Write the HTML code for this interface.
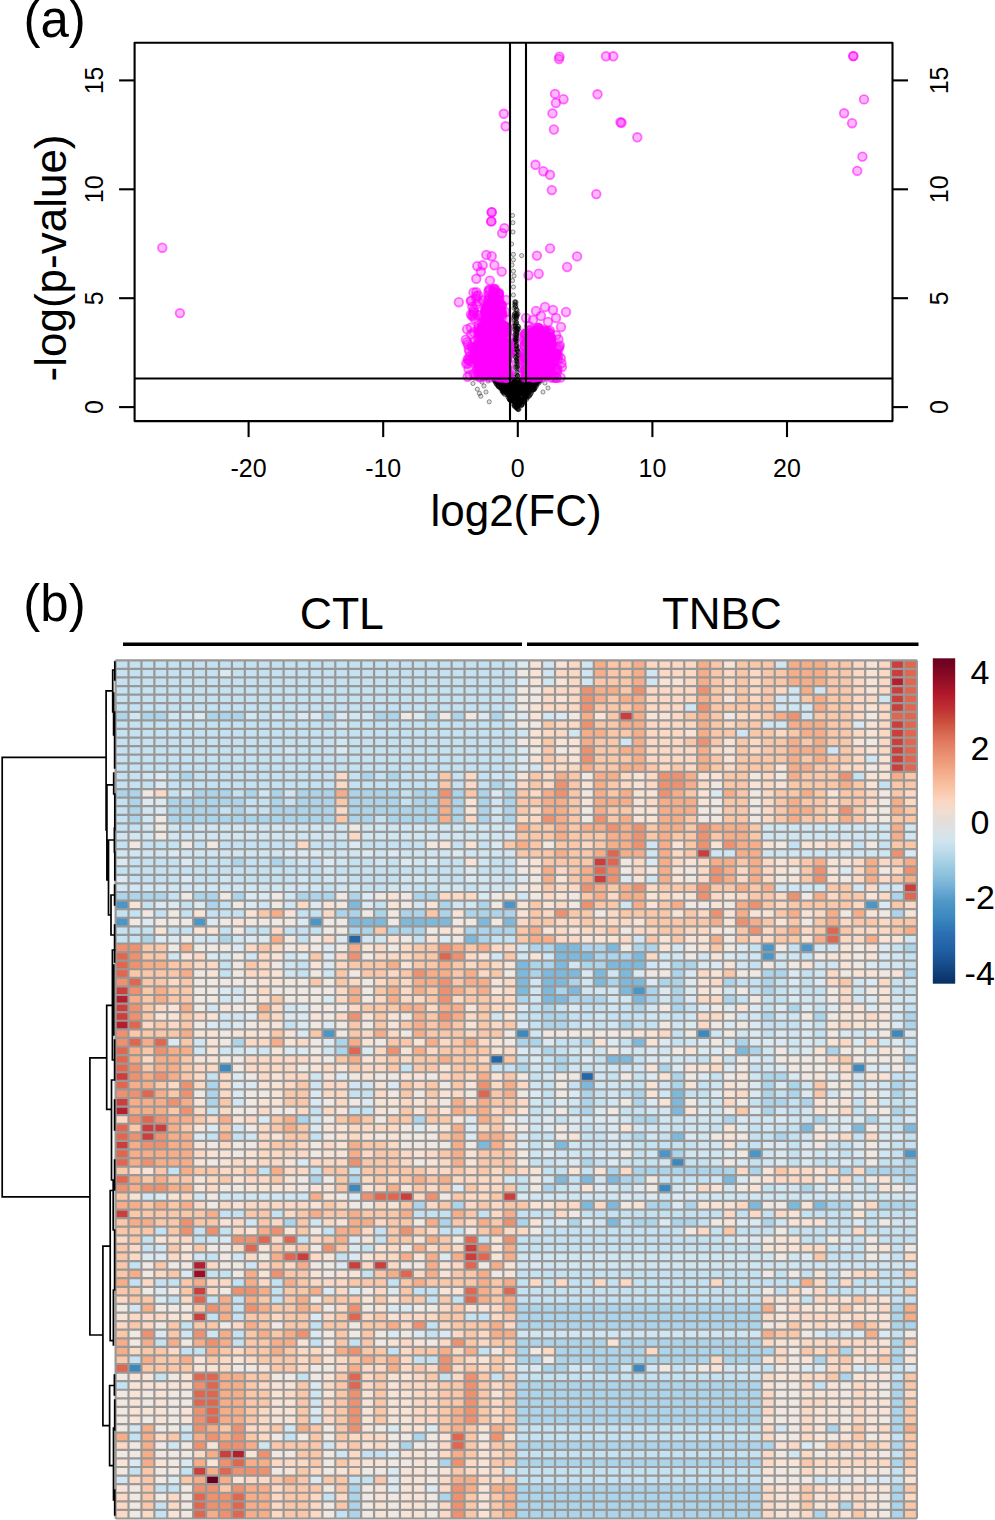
<!DOCTYPE html><html><head><meta charset="utf-8"><style>html,body{margin:0;padding:0;background:#fff;width:995px;height:1520px;overflow:hidden}svg{display:block}text{font-family:"Liberation Sans",sans-serif;fill:#000}</style></head><body><svg width="995" height="1520" viewBox="0 0 995 1520"><rect width="995" height="1520" fill="#fff"/><g stroke-width="1.1"><g fill="rgba(0,0,0,0.12)" stroke="rgba(0,0,0,0.45)" stroke-width="0.9"><circle cx="534.1" cy="388.0" r="2.1"/><circle cx="503.1" cy="390.9" r="2.1"/><circle cx="528.8" cy="385.3" r="2.1"/><circle cx="516.2" cy="404.2" r="2.1"/><circle cx="503.1" cy="383.7" r="2.1"/><circle cx="509.4" cy="384.2" r="2.1"/><circle cx="520.3" cy="381.8" r="2.1"/><circle cx="518.8" cy="390.7" r="2.1"/><circle cx="511.8" cy="380.2" r="2.1"/><circle cx="509.0" cy="386.1" r="2.1"/><circle cx="500.3" cy="387.4" r="2.1"/><circle cx="502.8" cy="379.2" r="2.1"/><circle cx="525.9" cy="389.3" r="2.1"/><circle cx="535.1" cy="382.2" r="2.1"/><circle cx="513.9" cy="405.6" r="2.1"/><circle cx="533.5" cy="383.3" r="2.1"/><circle cx="517.3" cy="385.5" r="2.1"/><circle cx="514.4" cy="382.3" r="2.1"/><circle cx="528.1" cy="386.6" r="2.1"/><circle cx="509.9" cy="386.1" r="2.1"/><circle cx="522.8" cy="385.0" r="2.1"/><circle cx="537.1" cy="382.1" r="2.1"/><circle cx="517.7" cy="395.9" r="2.1"/><circle cx="510.8" cy="399.7" r="2.1"/><circle cx="520.7" cy="388.3" r="2.1"/><circle cx="511.1" cy="380.8" r="2.1"/><circle cx="509.5" cy="394.5" r="2.1"/><circle cx="506.0" cy="380.2" r="2.1"/><circle cx="506.8" cy="385.5" r="2.1"/><circle cx="505.2" cy="391.3" r="2.1"/><circle cx="525.8" cy="389.6" r="2.1"/><circle cx="512.3" cy="399.7" r="2.1"/><circle cx="527.8" cy="386.2" r="2.1"/><circle cx="524.0" cy="384.0" r="2.1"/><circle cx="498.7" cy="384.5" r="2.1"/><circle cx="506.4" cy="390.6" r="2.1"/><circle cx="524.5" cy="383.9" r="2.1"/><circle cx="528.7" cy="386.4" r="2.1"/><circle cx="513.5" cy="400.6" r="2.1"/><circle cx="505.5" cy="379.4" r="2.1"/><circle cx="530.5" cy="380.8" r="2.1"/><circle cx="527.5" cy="391.0" r="2.1"/><circle cx="505.2" cy="381.0" r="2.1"/><circle cx="523.9" cy="392.9" r="2.1"/><circle cx="513.1" cy="394.9" r="2.1"/><circle cx="531.1" cy="379.4" r="2.1"/><circle cx="519.4" cy="386.2" r="2.1"/><circle cx="512.2" cy="384.6" r="2.1"/><circle cx="506.8" cy="382.5" r="2.1"/><circle cx="502.8" cy="386.0" r="2.1"/><circle cx="517.8" cy="392.7" r="2.1"/><circle cx="519.6" cy="403.1" r="2.1"/><circle cx="522.3" cy="393.2" r="2.1"/><circle cx="509.5" cy="384.8" r="2.1"/><circle cx="514.2" cy="381.7" r="2.1"/><circle cx="507.5" cy="393.5" r="2.1"/><circle cx="509.6" cy="383.5" r="2.1"/><circle cx="513.4" cy="384.3" r="2.1"/><circle cx="525.2" cy="386.3" r="2.1"/><circle cx="503.3" cy="382.6" r="2.1"/><circle cx="535.3" cy="387.8" r="2.1"/><circle cx="507.6" cy="384.1" r="2.1"/><circle cx="534.6" cy="388.6" r="2.1"/><circle cx="509.9" cy="396.2" r="2.1"/><circle cx="502.9" cy="379.4" r="2.1"/><circle cx="520.6" cy="398.7" r="2.1"/><circle cx="516.7" cy="394.5" r="2.1"/><circle cx="521.4" cy="380.6" r="2.1"/><circle cx="527.2" cy="383.4" r="2.1"/><circle cx="494.8" cy="379.3" r="2.1"/><circle cx="513.7" cy="384.3" r="2.1"/><circle cx="517.8" cy="391.9" r="2.1"/><circle cx="508.3" cy="392.5" r="2.1"/><circle cx="506.0" cy="392.6" r="2.1"/><circle cx="520.4" cy="389.5" r="2.1"/><circle cx="500.6" cy="380.8" r="2.1"/><circle cx="507.5" cy="393.2" r="2.1"/><circle cx="533.8" cy="380.0" r="2.1"/><circle cx="526.5" cy="398.1" r="2.1"/><circle cx="525.0" cy="387.9" r="2.1"/><circle cx="526.6" cy="392.8" r="2.1"/><circle cx="510.1" cy="397.2" r="2.1"/><circle cx="512.5" cy="395.5" r="2.1"/><circle cx="520.5" cy="391.1" r="2.1"/><circle cx="496.2" cy="384.0" r="2.1"/><circle cx="503.7" cy="381.1" r="2.1"/><circle cx="518.7" cy="386.3" r="2.1"/><circle cx="516.4" cy="396.3" r="2.1"/><circle cx="521.8" cy="380.6" r="2.1"/><circle cx="512.0" cy="380.4" r="2.1"/><circle cx="519.7" cy="401.6" r="2.1"/><circle cx="530.9" cy="381.8" r="2.1"/><circle cx="511.2" cy="383.7" r="2.1"/><circle cx="531.8" cy="382.5" r="2.1"/><circle cx="531.9" cy="379.9" r="2.1"/><circle cx="502.8" cy="390.3" r="2.1"/><circle cx="501.5" cy="387.9" r="2.1"/><circle cx="528.2" cy="392.1" r="2.1"/><circle cx="529.0" cy="379.4" r="2.1"/><circle cx="522.6" cy="381.3" r="2.1"/><circle cx="519.6" cy="404.5" r="2.1"/><circle cx="526.5" cy="386.4" r="2.1"/><circle cx="510.6" cy="382.8" r="2.1"/><circle cx="508.5" cy="383.0" r="2.1"/><circle cx="517.1" cy="406.8" r="2.1"/><circle cx="533.2" cy="379.2" r="2.1"/><circle cx="526.7" cy="391.0" r="2.1"/><circle cx="515.7" cy="383.2" r="2.1"/><circle cx="521.8" cy="379.4" r="2.1"/><circle cx="515.3" cy="397.0" r="2.1"/><circle cx="510.9" cy="389.7" r="2.1"/><circle cx="526.2" cy="387.0" r="2.1"/><circle cx="504.8" cy="394.5" r="2.1"/><circle cx="518.5" cy="409.6" r="2.1"/><circle cx="520.3" cy="403.4" r="2.1"/><circle cx="524.2" cy="398.9" r="2.1"/><circle cx="509.6" cy="387.3" r="2.1"/><circle cx="529.9" cy="394.8" r="2.1"/><circle cx="524.3" cy="389.6" r="2.1"/><circle cx="519.7" cy="391.4" r="2.1"/><circle cx="516.0" cy="390.1" r="2.1"/><circle cx="503.1" cy="385.7" r="2.1"/><circle cx="508.9" cy="382.5" r="2.1"/><circle cx="514.5" cy="392.7" r="2.1"/><circle cx="520.7" cy="388.0" r="2.1"/><circle cx="499.1" cy="380.2" r="2.1"/><circle cx="506.3" cy="388.2" r="2.1"/><circle cx="529.2" cy="396.2" r="2.1"/><circle cx="498.9" cy="386.8" r="2.1"/><circle cx="528.0" cy="385.2" r="2.1"/><circle cx="511.6" cy="384.6" r="2.1"/><circle cx="525.0" cy="384.5" r="2.1"/><circle cx="522.5" cy="380.6" r="2.1"/><circle cx="508.4" cy="382.5" r="2.1"/><circle cx="525.0" cy="391.4" r="2.1"/><circle cx="526.7" cy="389.1" r="2.1"/><circle cx="508.1" cy="394.3" r="2.1"/><circle cx="522.3" cy="386.5" r="2.1"/><circle cx="523.2" cy="401.9" r="2.1"/><circle cx="507.8" cy="381.1" r="2.1"/><circle cx="498.4" cy="382.7" r="2.1"/><circle cx="531.4" cy="381.0" r="2.1"/><circle cx="519.1" cy="397.4" r="2.1"/><circle cx="520.0" cy="399.7" r="2.1"/><circle cx="522.5" cy="388.9" r="2.1"/><circle cx="530.0" cy="386.5" r="2.1"/><circle cx="531.9" cy="388.2" r="2.1"/><circle cx="514.5" cy="387.2" r="2.1"/><circle cx="518.3" cy="409.1" r="2.1"/><circle cx="515.7" cy="399.6" r="2.1"/><circle cx="531.8" cy="390.0" r="2.1"/><circle cx="530.9" cy="381.0" r="2.1"/><circle cx="520.0" cy="384.0" r="2.1"/><circle cx="498.1" cy="383.9" r="2.1"/><circle cx="532.0" cy="386.0" r="2.1"/><circle cx="524.4" cy="389.4" r="2.1"/><circle cx="502.1" cy="386.3" r="2.1"/><circle cx="504.2" cy="392.3" r="2.1"/><circle cx="502.5" cy="384.7" r="2.1"/><circle cx="505.3" cy="388.9" r="2.1"/><circle cx="516.2" cy="407.4" r="2.1"/><circle cx="522.3" cy="393.0" r="2.1"/><circle cx="536.6" cy="384.0" r="2.1"/><circle cx="526.9" cy="381.0" r="2.1"/><circle cx="527.2" cy="379.2" r="2.1"/><circle cx="517.3" cy="385.6" r="2.1"/><circle cx="513.2" cy="381.5" r="2.1"/><circle cx="517.0" cy="381.7" r="2.1"/><circle cx="509.1" cy="394.4" r="2.1"/><circle cx="504.7" cy="383.8" r="2.1"/><circle cx="504.3" cy="380.3" r="2.1"/><circle cx="512.0" cy="396.4" r="2.1"/><circle cx="519.4" cy="396.1" r="2.1"/><circle cx="511.6" cy="388.5" r="2.1"/><circle cx="510.9" cy="390.7" r="2.1"/><circle cx="512.1" cy="382.7" r="2.1"/><circle cx="510.4" cy="385.9" r="2.1"/><circle cx="500.7" cy="381.8" r="2.1"/><circle cx="539.1" cy="379.6" r="2.1"/><circle cx="527.5" cy="388.7" r="2.1"/><circle cx="524.9" cy="396.1" r="2.1"/><circle cx="530.1" cy="390.5" r="2.1"/><circle cx="528.5" cy="391.0" r="2.1"/><circle cx="518.4" cy="398.2" r="2.1"/><circle cx="526.6" cy="388.6" r="2.1"/><circle cx="524.0" cy="395.9" r="2.1"/><circle cx="515.6" cy="401.8" r="2.1"/><circle cx="518.2" cy="393.7" r="2.1"/><circle cx="501.9" cy="382.7" r="2.1"/><circle cx="518.3" cy="395.4" r="2.1"/><circle cx="533.9" cy="385.9" r="2.1"/><circle cx="514.9" cy="399.1" r="2.1"/><circle cx="536.9" cy="379.4" r="2.1"/><circle cx="534.2" cy="382.1" r="2.1"/><circle cx="498.3" cy="386.3" r="2.1"/><circle cx="514.5" cy="380.9" r="2.1"/><circle cx="527.5" cy="392.8" r="2.1"/><circle cx="515.8" cy="404.3" r="2.1"/><circle cx="531.0" cy="382.9" r="2.1"/><circle cx="526.7" cy="390.1" r="2.1"/><circle cx="518.1" cy="385.8" r="2.1"/><circle cx="510.0" cy="389.2" r="2.1"/><circle cx="528.8" cy="387.1" r="2.1"/><circle cx="507.5" cy="386.0" r="2.1"/><circle cx="535.0" cy="381.0" r="2.1"/><circle cx="510.1" cy="379.4" r="2.1"/><circle cx="513.9" cy="390.1" r="2.1"/><circle cx="528.5" cy="387.7" r="2.1"/><circle cx="512.0" cy="399.4" r="2.1"/><circle cx="533.8" cy="389.6" r="2.1"/><circle cx="510.8" cy="397.1" r="2.1"/><circle cx="510.1" cy="400.0" r="2.1"/><circle cx="507.8" cy="380.3" r="2.1"/><circle cx="530.8" cy="390.5" r="2.1"/><circle cx="518.4" cy="394.4" r="2.1"/><circle cx="515.0" cy="393.3" r="2.1"/><circle cx="515.6" cy="407.4" r="2.1"/><circle cx="513.8" cy="394.2" r="2.1"/><circle cx="517.6" cy="405.2" r="2.1"/><circle cx="511.7" cy="379.3" r="2.1"/><circle cx="526.7" cy="396.3" r="2.1"/><circle cx="495.5" cy="380.9" r="2.1"/><circle cx="528.4" cy="393.9" r="2.1"/><circle cx="512.6" cy="397.3" r="2.1"/><circle cx="537.1" cy="382.8" r="2.1"/><circle cx="508.1" cy="395.1" r="2.1"/><circle cx="504.8" cy="386.7" r="2.1"/><circle cx="506.9" cy="386.4" r="2.1"/><circle cx="517.6" cy="391.9" r="2.1"/><circle cx="536.3" cy="386.5" r="2.1"/><circle cx="500.9" cy="379.7" r="2.1"/><circle cx="519.0" cy="390.3" r="2.1"/><circle cx="515.1" cy="394.1" r="2.1"/><circle cx="521.5" cy="390.1" r="2.1"/><circle cx="533.3" cy="384.6" r="2.1"/><circle cx="518.8" cy="391.5" r="2.1"/><circle cx="520.5" cy="388.7" r="2.1"/><circle cx="524.5" cy="379.6" r="2.1"/><circle cx="536.6" cy="380.4" r="2.1"/><circle cx="522.2" cy="383.9" r="2.1"/><circle cx="505.9" cy="385.0" r="2.1"/><circle cx="535.3" cy="382.8" r="2.1"/><circle cx="495.4" cy="381.1" r="2.1"/><circle cx="512.4" cy="399.7" r="2.1"/><circle cx="527.0" cy="383.1" r="2.1"/><circle cx="505.9" cy="385.7" r="2.1"/><circle cx="521.4" cy="388.5" r="2.1"/><circle cx="520.3" cy="383.1" r="2.1"/><circle cx="535.4" cy="383.0" r="2.1"/><circle cx="511.1" cy="379.1" r="2.1"/><circle cx="510.5" cy="399.1" r="2.1"/><circle cx="529.3" cy="392.2" r="2.1"/><circle cx="526.7" cy="381.8" r="2.1"/><circle cx="534.7" cy="382.0" r="2.1"/><circle cx="505.7" cy="389.5" r="2.1"/><circle cx="530.5" cy="394.4" r="2.1"/><circle cx="540.2" cy="381.1" r="2.1"/><circle cx="516.2" cy="406.5" r="2.1"/><circle cx="522.3" cy="395.8" r="2.1"/><circle cx="535.7" cy="385.5" r="2.1"/><circle cx="539.9" cy="379.1" r="2.1"/><circle cx="525.5" cy="379.7" r="2.1"/><circle cx="508.0" cy="392.8" r="2.1"/><circle cx="506.1" cy="380.3" r="2.1"/><circle cx="520.2" cy="381.2" r="2.1"/><circle cx="519.8" cy="404.0" r="2.1"/><circle cx="522.2" cy="393.2" r="2.1"/><circle cx="509.1" cy="390.4" r="2.1"/><circle cx="525.8" cy="383.4" r="2.1"/><circle cx="498.0" cy="381.1" r="2.1"/><circle cx="537.5" cy="381.9" r="2.1"/><circle cx="516.8" cy="395.7" r="2.1"/><circle cx="517.4" cy="390.1" r="2.1"/><circle cx="501.0" cy="382.2" r="2.1"/><circle cx="517.1" cy="407.4" r="2.1"/><circle cx="516.4" cy="404.1" r="2.1"/><circle cx="520.8" cy="400.7" r="2.1"/><circle cx="498.3" cy="386.7" r="2.1"/><circle cx="518.0" cy="387.6" r="2.1"/><circle cx="538.1" cy="380.8" r="2.1"/><circle cx="521.2" cy="385.7" r="2.1"/><circle cx="522.1" cy="403.9" r="2.1"/><circle cx="528.4" cy="380.1" r="2.1"/><circle cx="523.4" cy="400.8" r="2.1"/><circle cx="534.0" cy="389.3" r="2.1"/><circle cx="512.0" cy="380.9" r="2.1"/><circle cx="526.7" cy="383.0" r="2.1"/><circle cx="508.6" cy="382.6" r="2.1"/><circle cx="500.7" cy="385.2" r="2.1"/><circle cx="515.9" cy="394.4" r="2.1"/><circle cx="508.9" cy="383.4" r="2.1"/><circle cx="530.3" cy="382.5" r="2.1"/><circle cx="521.9" cy="392.4" r="2.1"/><circle cx="502.5" cy="384.5" r="2.1"/><circle cx="514.7" cy="385.8" r="2.1"/><circle cx="516.6" cy="408.0" r="2.1"/><circle cx="511.9" cy="380.9" r="2.1"/><circle cx="508.3" cy="397.6" r="2.1"/><circle cx="522.7" cy="393.1" r="2.1"/><circle cx="508.1" cy="385.1" r="2.1"/><circle cx="523.4" cy="387.6" r="2.1"/><circle cx="527.9" cy="392.6" r="2.1"/><circle cx="499.9" cy="387.0" r="2.1"/><circle cx="511.3" cy="394.5" r="2.1"/><circle cx="534.9" cy="383.4" r="2.1"/><circle cx="514.5" cy="404.7" r="2.1"/><circle cx="503.5" cy="389.6" r="2.1"/><circle cx="509.5" cy="399.8" r="2.1"/><circle cx="524.1" cy="390.4" r="2.1"/><circle cx="518.2" cy="400.3" r="2.1"/><circle cx="526.9" cy="396.4" r="2.1"/><circle cx="514.2" cy="402.8" r="2.1"/><circle cx="530.5" cy="379.2" r="2.1"/><circle cx="507.6" cy="382.5" r="2.1"/><circle cx="521.1" cy="379.5" r="2.1"/><circle cx="524.6" cy="387.3" r="2.1"/><circle cx="531.2" cy="387.6" r="2.1"/><circle cx="519.4" cy="391.9" r="2.1"/><circle cx="505.0" cy="383.3" r="2.1"/><circle cx="521.1" cy="405.3" r="2.1"/><circle cx="532.9" cy="389.5" r="2.1"/><circle cx="537.4" cy="383.4" r="2.1"/><circle cx="529.9" cy="383.6" r="2.1"/><circle cx="506.8" cy="379.8" r="2.1"/><circle cx="506.1" cy="390.6" r="2.1"/><circle cx="500.1" cy="388.2" r="2.1"/><circle cx="507.3" cy="392.5" r="2.1"/><circle cx="511.3" cy="390.7" r="2.1"/><circle cx="514.3" cy="405.6" r="2.1"/><circle cx="507.0" cy="383.0" r="2.1"/><circle cx="530.9" cy="393.5" r="2.1"/><circle cx="520.2" cy="400.1" r="2.1"/><circle cx="530.6" cy="387.1" r="2.1"/><circle cx="518.6" cy="387.5" r="2.1"/><circle cx="524.0" cy="386.6" r="2.1"/><circle cx="531.7" cy="379.4" r="2.1"/><circle cx="504.3" cy="386.0" r="2.1"/><circle cx="524.2" cy="400.8" r="2.1"/><circle cx="531.8" cy="391.0" r="2.1"/><circle cx="508.5" cy="391.0" r="2.1"/><circle cx="533.5" cy="389.5" r="2.1"/><circle cx="518.7" cy="395.2" r="2.1"/><circle cx="517.1" cy="406.1" r="2.1"/><circle cx="526.1" cy="397.1" r="2.1"/><circle cx="511.8" cy="396.9" r="2.1"/><circle cx="504.9" cy="380.2" r="2.1"/><circle cx="504.7" cy="385.0" r="2.1"/><circle cx="502.1" cy="381.1" r="2.1"/><circle cx="533.3" cy="389.9" r="2.1"/><circle cx="527.8" cy="380.4" r="2.1"/><circle cx="520.0" cy="404.6" r="2.1"/><circle cx="524.0" cy="389.2" r="2.1"/><circle cx="507.9" cy="396.8" r="2.1"/><circle cx="512.9" cy="380.1" r="2.1"/><circle cx="524.0" cy="401.9" r="2.1"/><circle cx="521.6" cy="391.2" r="2.1"/><circle cx="517.7" cy="397.4" r="2.1"/><circle cx="515.8" cy="382.4" r="2.1"/><circle cx="514.5" cy="400.5" r="2.1"/><circle cx="528.3" cy="393.0" r="2.1"/><circle cx="508.5" cy="384.3" r="2.1"/><circle cx="511.8" cy="387.3" r="2.1"/><circle cx="517.9" cy="392.5" r="2.1"/><circle cx="500.6" cy="386.8" r="2.1"/><circle cx="520.3" cy="401.1" r="2.1"/><circle cx="504.2" cy="389.7" r="2.1"/><circle cx="495.5" cy="381.5" r="2.1"/><circle cx="515.7" cy="405.1" r="2.1"/><circle cx="496.9" cy="381.6" r="2.1"/><circle cx="520.4" cy="394.8" r="2.1"/><circle cx="501.3" cy="386.3" r="2.1"/><circle cx="529.6" cy="390.7" r="2.1"/><circle cx="515.0" cy="379.4" r="2.1"/><circle cx="516.2" cy="399.1" r="2.1"/><circle cx="501.1" cy="386.0" r="2.1"/><circle cx="496.8" cy="384.6" r="2.1"/><circle cx="514.6" cy="397.3" r="2.1"/><circle cx="524.4" cy="401.3" r="2.1"/><circle cx="513.7" cy="380.2" r="2.1"/><circle cx="529.1" cy="379.8" r="2.1"/><circle cx="515.4" cy="391.2" r="2.1"/><circle cx="527.4" cy="393.6" r="2.1"/><circle cx="522.3" cy="380.1" r="2.1"/><circle cx="502.4" cy="390.9" r="2.1"/><circle cx="524.2" cy="402.5" r="2.1"/><circle cx="530.9" cy="381.4" r="2.1"/><circle cx="520.0" cy="405.1" r="2.1"/><circle cx="517.1" cy="398.5" r="2.1"/><circle cx="522.1" cy="404.4" r="2.1"/><circle cx="494.2" cy="379.8" r="2.1"/><circle cx="519.5" cy="387.6" r="2.1"/><circle cx="514.7" cy="382.0" r="2.1"/><circle cx="525.1" cy="384.8" r="2.1"/><circle cx="513.2" cy="381.6" r="2.1"/><circle cx="509.0" cy="381.1" r="2.1"/><circle cx="535.8" cy="381.3" r="2.1"/><circle cx="509.8" cy="388.0" r="2.1"/><circle cx="531.2" cy="382.9" r="2.1"/><circle cx="527.4" cy="397.8" r="2.1"/><circle cx="518.1" cy="393.0" r="2.1"/><circle cx="512.0" cy="398.2" r="2.1"/><circle cx="528.7" cy="379.0" r="2.1"/><circle cx="513.9" cy="401.3" r="2.1"/><circle cx="503.6" cy="387.9" r="2.1"/><circle cx="508.8" cy="388.7" r="2.1"/><circle cx="530.6" cy="387.0" r="2.1"/><circle cx="503.5" cy="391.6" r="2.1"/><circle cx="509.8" cy="395.7" r="2.1"/><circle cx="518.7" cy="399.4" r="2.1"/><circle cx="519.1" cy="409.0" r="2.1"/><circle cx="503.4" cy="386.5" r="2.1"/><circle cx="501.3" cy="386.6" r="2.1"/><circle cx="521.9" cy="399.7" r="2.1"/><circle cx="522.3" cy="400.9" r="2.1"/><circle cx="506.4" cy="380.1" r="2.1"/><circle cx="509.5" cy="382.7" r="2.1"/><circle cx="499.6" cy="381.3" r="2.1"/><circle cx="506.4" cy="391.5" r="2.1"/><circle cx="527.2" cy="392.7" r="2.1"/><circle cx="529.3" cy="381.1" r="2.1"/><circle cx="534.9" cy="379.0" r="2.1"/><circle cx="534.8" cy="385.5" r="2.1"/><circle cx="526.2" cy="387.2" r="2.1"/><circle cx="538.9" cy="383.2" r="2.1"/><circle cx="525.6" cy="397.4" r="2.1"/><circle cx="525.7" cy="384.0" r="2.1"/><circle cx="497.8" cy="381.2" r="2.1"/><circle cx="525.2" cy="396.8" r="2.1"/><circle cx="502.1" cy="380.1" r="2.1"/><circle cx="503.6" cy="390.1" r="2.1"/><circle cx="518.2" cy="381.7" r="2.1"/><circle cx="505.4" cy="390.6" r="2.1"/><circle cx="531.3" cy="385.4" r="2.1"/><circle cx="500.5" cy="385.2" r="2.1"/><circle cx="510.7" cy="390.1" r="2.1"/><circle cx="524.6" cy="393.6" r="2.1"/><circle cx="537.0" cy="379.7" r="2.1"/><circle cx="513.7" cy="381.8" r="2.1"/><circle cx="514.8" cy="401.5" r="2.1"/><circle cx="495.1" cy="381.9" r="2.1"/><circle cx="515.9" cy="383.7" r="2.1"/><circle cx="496.4" cy="380.2" r="2.1"/><circle cx="509.5" cy="393.5" r="2.1"/><circle cx="536.3" cy="381.6" r="2.1"/><circle cx="502.9" cy="383.6" r="2.1"/><circle cx="536.7" cy="385.0" r="2.1"/><circle cx="529.5" cy="380.5" r="2.1"/><circle cx="514.5" cy="388.5" r="2.1"/><circle cx="509.5" cy="382.0" r="2.1"/><circle cx="525.3" cy="395.0" r="2.1"/><circle cx="522.7" cy="399.5" r="2.1"/><circle cx="538.7" cy="380.7" r="2.1"/><circle cx="501.7" cy="379.2" r="2.1"/><circle cx="513.7" cy="382.6" r="2.1"/><circle cx="511.7" cy="400.4" r="2.1"/><circle cx="517.6" cy="409.3" r="2.1"/><circle cx="523.5" cy="385.1" r="2.1"/><circle cx="535.0" cy="384.7" r="2.1"/><circle cx="507.4" cy="391.4" r="2.1"/><circle cx="503.9" cy="393.0" r="2.1"/><circle cx="520.3" cy="401.5" r="2.1"/><circle cx="498.1" cy="382.5" r="2.1"/><circle cx="518.2" cy="397.2" r="2.1"/><circle cx="537.9" cy="379.9" r="2.1"/><circle cx="502.7" cy="383.5" r="2.1"/><circle cx="521.6" cy="392.9" r="2.1"/><circle cx="505.6" cy="387.5" r="2.1"/><circle cx="512.7" cy="395.5" r="2.1"/><circle cx="525.3" cy="394.9" r="2.1"/><circle cx="525.5" cy="397.3" r="2.1"/><circle cx="520.8" cy="384.0" r="2.1"/><circle cx="527.4" cy="386.4" r="2.1"/><circle cx="502.8" cy="390.1" r="2.1"/><circle cx="518.3" cy="400.4" r="2.1"/><circle cx="523.7" cy="393.6" r="2.1"/><circle cx="525.0" cy="383.9" r="2.1"/><circle cx="502.6" cy="392.2" r="2.1"/><circle cx="529.7" cy="389.9" r="2.1"/><circle cx="501.6" cy="386.8" r="2.1"/><circle cx="511.9" cy="391.9" r="2.1"/><circle cx="513.6" cy="383.8" r="2.1"/><circle cx="526.5" cy="383.3" r="2.1"/><circle cx="524.7" cy="398.9" r="2.1"/><circle cx="506.2" cy="386.4" r="2.1"/><circle cx="521.8" cy="384.5" r="2.1"/><circle cx="529.2" cy="387.0" r="2.1"/><circle cx="508.1" cy="395.2" r="2.1"/><circle cx="507.3" cy="391.8" r="2.1"/><circle cx="515.9" cy="386.5" r="2.1"/><circle cx="498.8" cy="381.0" r="2.1"/><circle cx="523.7" cy="401.0" r="2.1"/><circle cx="529.4" cy="389.3" r="2.1"/><circle cx="516.6" cy="384.2" r="2.1"/><circle cx="527.4" cy="390.7" r="2.1"/><circle cx="528.7" cy="385.6" r="2.1"/><circle cx="502.5" cy="381.1" r="2.1"/><circle cx="525.8" cy="396.6" r="2.1"/><circle cx="497.5" cy="384.4" r="2.1"/><circle cx="521.5" cy="381.6" r="2.1"/><circle cx="524.2" cy="386.0" r="2.1"/><circle cx="504.0" cy="392.0" r="2.1"/><circle cx="518.8" cy="401.9" r="2.1"/><circle cx="501.9" cy="387.6" r="2.1"/><circle cx="524.5" cy="400.8" r="2.1"/><circle cx="501.1" cy="388.3" r="2.1"/><circle cx="525.8" cy="386.6" r="2.1"/><circle cx="498.5" cy="385.5" r="2.1"/><circle cx="532.9" cy="388.2" r="2.1"/><circle cx="494.8" cy="379.6" r="2.1"/><circle cx="517.7" cy="383.0" r="2.1"/><circle cx="514.9" cy="384.5" r="2.1"/><circle cx="518.1" cy="390.0" r="2.1"/><circle cx="528.7" cy="395.5" r="2.1"/><circle cx="531.9" cy="381.5" r="2.1"/><circle cx="516.1" cy="386.3" r="2.1"/><circle cx="526.1" cy="385.3" r="2.1"/><circle cx="507.2" cy="393.7" r="2.1"/><circle cx="510.1" cy="392.7" r="2.1"/><circle cx="523.4" cy="381.5" r="2.1"/><circle cx="514.6" cy="399.0" r="2.1"/><circle cx="505.0" cy="379.2" r="2.1"/><circle cx="523.4" cy="387.9" r="2.1"/><circle cx="531.6" cy="392.4" r="2.1"/><circle cx="531.5" cy="382.5" r="2.1"/><circle cx="495.8" cy="380.3" r="2.1"/><circle cx="535.0" cy="383.6" r="2.1"/><circle cx="513.0" cy="389.2" r="2.1"/><circle cx="522.6" cy="387.5" r="2.1"/><circle cx="515.1" cy="401.6" r="2.1"/><circle cx="529.6" cy="382.3" r="2.1"/><circle cx="508.3" cy="386.2" r="2.1"/><circle cx="503.8" cy="393.5" r="2.1"/><circle cx="508.4" cy="384.2" r="2.1"/><circle cx="504.4" cy="390.1" r="2.1"/><circle cx="510.2" cy="389.6" r="2.1"/><circle cx="510.4" cy="381.6" r="2.1"/><circle cx="512.2" cy="399.0" r="2.1"/><circle cx="533.9" cy="386.4" r="2.1"/><circle cx="525.4" cy="390.6" r="2.1"/><circle cx="535.3" cy="382.4" r="2.1"/><circle cx="519.1" cy="389.1" r="2.1"/><circle cx="534.3" cy="389.4" r="2.1"/><circle cx="537.5" cy="382.6" r="2.1"/><circle cx="526.6" cy="399.5" r="2.1"/><circle cx="519.6" cy="393.0" r="2.1"/><circle cx="501.6" cy="389.2" r="2.1"/><circle cx="503.5" cy="381.3" r="2.1"/><circle cx="533.0" cy="385.5" r="2.1"/><circle cx="493.8" cy="380.2" r="2.1"/><circle cx="530.0" cy="384.5" r="2.1"/><circle cx="515.0" cy="391.3" r="2.1"/><circle cx="521.0" cy="381.5" r="2.1"/><circle cx="521.7" cy="405.4" r="2.1"/><circle cx="518.0" cy="394.0" r="2.1"/><circle cx="525.9" cy="384.9" r="2.1"/><circle cx="509.6" cy="390.0" r="2.1"/><circle cx="513.3" cy="401.7" r="2.1"/><circle cx="513.2" cy="381.0" r="2.1"/><circle cx="518.3" cy="405.1" r="2.1"/><circle cx="532.6" cy="389.8" r="2.1"/><circle cx="533.3" cy="385.2" r="2.1"/><circle cx="513.4" cy="390.6" r="2.1"/><circle cx="500.9" cy="388.0" r="2.1"/><circle cx="517.0" cy="400.1" r="2.1"/><circle cx="532.9" cy="384.1" r="2.1"/><circle cx="517.1" cy="407.7" r="2.1"/><circle cx="517.6" cy="408.8" r="2.1"/><circle cx="520.2" cy="382.7" r="2.1"/><circle cx="512.9" cy="397.9" r="2.1"/><circle cx="504.0" cy="387.1" r="2.1"/><circle cx="512.7" cy="394.9" r="2.1"/><circle cx="515.3" cy="381.0" r="2.1"/><circle cx="502.8" cy="386.4" r="2.1"/><circle cx="517.9" cy="383.8" r="2.1"/><circle cx="540.0" cy="379.7" r="2.1"/><circle cx="494.7" cy="380.3" r="2.1"/><circle cx="503.2" cy="384.6" r="2.1"/><circle cx="523.4" cy="388.0" r="2.1"/><circle cx="498.7" cy="385.2" r="2.1"/><circle cx="507.1" cy="394.7" r="2.1"/><circle cx="515.5" cy="384.5" r="2.1"/><circle cx="522.0" cy="382.8" r="2.1"/><circle cx="499.1" cy="380.4" r="2.1"/><circle cx="511.8" cy="389.7" r="2.1"/><circle cx="513.0" cy="389.6" r="2.1"/><circle cx="527.3" cy="390.9" r="2.1"/><circle cx="509.1" cy="398.8" r="2.1"/><circle cx="513.4" cy="387.8" r="2.1"/><circle cx="519.9" cy="399.9" r="2.1"/><circle cx="521.9" cy="400.3" r="2.1"/><circle cx="519.7" cy="391.3" r="2.1"/><circle cx="499.9" cy="381.8" r="2.1"/><circle cx="515.9" cy="394.4" r="2.1"/><circle cx="508.9" cy="395.6" r="2.1"/><circle cx="515.8" cy="389.0" r="2.1"/><circle cx="510.9" cy="398.1" r="2.1"/><circle cx="532.4" cy="386.6" r="2.1"/><circle cx="510.0" cy="390.8" r="2.1"/><circle cx="519.1" cy="387.1" r="2.1"/><circle cx="497.9" cy="385.5" r="2.1"/><circle cx="513.4" cy="384.4" r="2.1"/><circle cx="510.8" cy="381.1" r="2.1"/><circle cx="496.1" cy="383.3" r="2.1"/><circle cx="513.5" cy="390.9" r="2.1"/><circle cx="503.7" cy="385.7" r="2.1"/><circle cx="528.1" cy="383.8" r="2.1"/><circle cx="499.7" cy="383.0" r="2.1"/><circle cx="526.8" cy="379.1" r="2.1"/><circle cx="513.7" cy="404.1" r="2.1"/><circle cx="521.1" cy="392.9" r="2.1"/><circle cx="508.2" cy="391.1" r="2.1"/><circle cx="497.7" cy="383.8" r="2.1"/><circle cx="510.7" cy="400.8" r="2.1"/><circle cx="512.4" cy="400.1" r="2.1"/><circle cx="520.8" cy="402.0" r="2.1"/><circle cx="523.2" cy="388.4" r="2.1"/><circle cx="510.3" cy="386.9" r="2.1"/><circle cx="516.4" cy="387.1" r="2.1"/><circle cx="539.8" cy="380.7" r="2.1"/><circle cx="521.7" cy="392.1" r="2.1"/><circle cx="540.4" cy="380.9" r="2.1"/><circle cx="532.0" cy="381.4" r="2.1"/><circle cx="504.9" cy="381.8" r="2.1"/><circle cx="529.2" cy="386.5" r="2.1"/><circle cx="529.0" cy="385.1" r="2.1"/><circle cx="525.3" cy="387.2" r="2.1"/><circle cx="513.0" cy="396.9" r="2.1"/><circle cx="514.6" cy="406.5" r="2.1"/><circle cx="515.5" cy="381.9" r="2.1"/><circle cx="530.5" cy="382.8" r="2.1"/><circle cx="526.7" cy="379.8" r="2.1"/><circle cx="530.0" cy="382.3" r="2.1"/><circle cx="524.4" cy="390.4" r="2.1"/><circle cx="538.2" cy="379.1" r="2.1"/><circle cx="515.1" cy="393.5" r="2.1"/><circle cx="500.0" cy="382.5" r="2.1"/><circle cx="534.0" cy="382.0" r="2.1"/><circle cx="508.2" cy="383.4" r="2.1"/><circle cx="532.4" cy="386.3" r="2.1"/><circle cx="524.1" cy="395.6" r="2.1"/><circle cx="530.2" cy="385.7" r="2.1"/><circle cx="515.0" cy="405.2" r="2.1"/><circle cx="519.9" cy="391.4" r="2.1"/><circle cx="499.1" cy="382.5" r="2.1"/><circle cx="515.4" cy="394.3" r="2.1"/><circle cx="504.5" cy="390.1" r="2.1"/><circle cx="519.9" cy="403.1" r="2.1"/><circle cx="521.8" cy="383.4" r="2.1"/><circle cx="519.6" cy="388.4" r="2.1"/><circle cx="524.0" cy="396.6" r="2.1"/><circle cx="524.2" cy="395.9" r="2.1"/><circle cx="509.5" cy="398.0" r="2.1"/><circle cx="519.9" cy="384.8" r="2.1"/><circle cx="517.4" cy="381.9" r="2.1"/><circle cx="521.8" cy="405.2" r="2.1"/><circle cx="517.8" cy="388.7" r="2.1"/><circle cx="527.7" cy="380.2" r="2.1"/><circle cx="504.6" cy="382.9" r="2.1"/><circle cx="509.7" cy="399.8" r="2.1"/><circle cx="525.3" cy="383.3" r="2.1"/><circle cx="529.2" cy="396.2" r="2.1"/><circle cx="503.8" cy="382.7" r="2.1"/><circle cx="498.5" cy="382.9" r="2.1"/><circle cx="521.8" cy="404.4" r="2.1"/><circle cx="521.0" cy="396.5" r="2.1"/><circle cx="512.3" cy="395.9" r="2.1"/><circle cx="512.8" cy="385.8" r="2.1"/><circle cx="530.9" cy="386.0" r="2.1"/><circle cx="534.5" cy="386.0" r="2.1"/><circle cx="510.9" cy="389.1" r="2.1"/><circle cx="531.3" cy="385.3" r="2.1"/><circle cx="514.4" cy="394.6" r="2.1"/><circle cx="499.8" cy="380.3" r="2.1"/><circle cx="512.9" cy="388.2" r="2.1"/><circle cx="517.7" cy="408.9" r="2.1"/><circle cx="503.2" cy="383.1" r="2.1"/><circle cx="506.5" cy="388.7" r="2.1"/><circle cx="513.2" cy="383.5" r="2.1"/><circle cx="508.1" cy="381.4" r="2.1"/><circle cx="517.6" cy="383.5" r="2.1"/><circle cx="526.2" cy="392.3" r="2.1"/><circle cx="525.7" cy="381.0" r="2.1"/><circle cx="502.0" cy="391.1" r="2.1"/><circle cx="500.7" cy="380.9" r="2.1"/><circle cx="508.1" cy="386.8" r="2.1"/><circle cx="526.2" cy="385.3" r="2.1"/><circle cx="511.6" cy="400.7" r="2.1"/><circle cx="513.3" cy="383.1" r="2.1"/><circle cx="516.4" cy="384.4" r="2.1"/><circle cx="526.2" cy="394.4" r="2.1"/><circle cx="533.7" cy="387.6" r="2.1"/><circle cx="515.6" cy="382.7" r="2.1"/><circle cx="516.1" cy="382.2" r="2.1"/><circle cx="533.2" cy="381.7" r="2.1"/><circle cx="507.4" cy="379.8" r="2.1"/><circle cx="521.5" cy="401.9" r="2.1"/><circle cx="528.7" cy="381.8" r="2.1"/><circle cx="510.6" cy="400.2" r="2.1"/><circle cx="516.1" cy="389.1" r="2.1"/><circle cx="510.2" cy="394.8" r="2.1"/><circle cx="473.0" cy="383.5" r="2.1"/><circle cx="477.3" cy="389.2" r="2.1"/><circle cx="479.4" cy="393.4" r="2.1"/><circle cx="480.8" cy="396.2" r="2.1"/><circle cx="489.2" cy="401.8" r="2.1"/><circle cx="484.0" cy="386.0" r="2.1"/><circle cx="486.0" cy="392.0" r="2.1"/><circle cx="545.0" cy="383.0" r="2.1"/><circle cx="548.0" cy="388.0" r="2.1"/><circle cx="543.0" cy="392.0" r="2.1"/><circle cx="488.0" cy="381.0" r="2.1"/><circle cx="482.0" cy="382.0" r="2.1"/><circle cx="516.5" cy="345.9" r="2.1"/><circle cx="517.2" cy="339.2" r="2.1"/><circle cx="514.7" cy="339.3" r="2.1"/><circle cx="516.6" cy="314.5" r="2.1"/><circle cx="516.0" cy="341.5" r="2.1"/><circle cx="518.6" cy="354.9" r="2.1"/><circle cx="515.8" cy="360.9" r="2.1"/><circle cx="516.8" cy="372.2" r="2.1"/><circle cx="515.6" cy="339.8" r="2.1"/><circle cx="516.8" cy="331.4" r="2.1"/><circle cx="517.1" cy="355.3" r="2.1"/><circle cx="515.3" cy="357.0" r="2.1"/><circle cx="514.7" cy="316.6" r="2.1"/><circle cx="516.3" cy="323.9" r="2.1"/><circle cx="516.1" cy="328.0" r="2.1"/><circle cx="513.9" cy="316.2" r="2.1"/><circle cx="516.2" cy="318.2" r="2.1"/><circle cx="514.8" cy="352.7" r="2.1"/><circle cx="516.1" cy="349.5" r="2.1"/><circle cx="514.7" cy="304.7" r="2.1"/><circle cx="519.0" cy="328.1" r="2.1"/><circle cx="516.9" cy="340.9" r="2.1"/><circle cx="518.6" cy="352.3" r="2.1"/><circle cx="515.4" cy="317.9" r="2.1"/><circle cx="517.7" cy="326.3" r="2.1"/><circle cx="518.0" cy="357.5" r="2.1"/><circle cx="515.6" cy="338.0" r="2.1"/><circle cx="516.9" cy="338.0" r="2.1"/><circle cx="518.4" cy="355.5" r="2.1"/><circle cx="515.4" cy="367.7" r="2.1"/><circle cx="515.2" cy="334.3" r="2.1"/><circle cx="517.5" cy="376.0" r="2.1"/><circle cx="516.3" cy="314.3" r="2.1"/><circle cx="517.7" cy="371.9" r="2.1"/><circle cx="515.6" cy="366.5" r="2.1"/><circle cx="518.9" cy="369.5" r="2.1"/><circle cx="516.9" cy="333.3" r="2.1"/><circle cx="518.0" cy="329.2" r="2.1"/><circle cx="516.7" cy="309.3" r="2.1"/><circle cx="515.4" cy="331.0" r="2.1"/><circle cx="516.4" cy="346.4" r="2.1"/><circle cx="516.3" cy="330.4" r="2.1"/><circle cx="517.2" cy="329.6" r="2.1"/><circle cx="516.7" cy="359.4" r="2.1"/><circle cx="515.3" cy="326.0" r="2.1"/><circle cx="514.3" cy="314.7" r="2.1"/><circle cx="514.8" cy="301.6" r="2.1"/><circle cx="514.5" cy="322.9" r="2.1"/><circle cx="517.4" cy="315.6" r="2.1"/><circle cx="513.8" cy="318.2" r="2.1"/><circle cx="515.4" cy="345.7" r="2.1"/><circle cx="515.1" cy="302.8" r="2.1"/><circle cx="515.0" cy="325.4" r="2.1"/><circle cx="515.0" cy="339.8" r="2.1"/><circle cx="515.9" cy="309.5" r="2.1"/><circle cx="517.1" cy="332.5" r="2.1"/><circle cx="516.5" cy="328.3" r="2.1"/><circle cx="516.6" cy="376.9" r="2.1"/><circle cx="516.4" cy="318.7" r="2.1"/><circle cx="515.7" cy="345.8" r="2.1"/><circle cx="518.1" cy="329.4" r="2.1"/><circle cx="517.2" cy="363.2" r="2.1"/><circle cx="516.1" cy="321.0" r="2.1"/><circle cx="515.6" cy="377.0" r="2.1"/><circle cx="515.0" cy="304.2" r="2.1"/><circle cx="517.0" cy="348.7" r="2.1"/><circle cx="517.5" cy="360.7" r="2.1"/><circle cx="514.8" cy="330.2" r="2.1"/><circle cx="517.4" cy="362.4" r="2.1"/><circle cx="517.2" cy="358.7" r="2.1"/><circle cx="516.7" cy="334.4" r="2.1"/><circle cx="516.2" cy="336.0" r="2.1"/><circle cx="516.4" cy="316.6" r="2.1"/><circle cx="515.6" cy="307.1" r="2.1"/><circle cx="514.8" cy="328.8" r="2.1"/><circle cx="516.5" cy="322.6" r="2.1"/><circle cx="513.2" cy="354.8" r="2.1"/><circle cx="515.4" cy="313.2" r="2.1"/><circle cx="515.1" cy="339.8" r="2.1"/><circle cx="516.8" cy="367.2" r="2.1"/><circle cx="516.6" cy="316.3" r="2.1"/><circle cx="515.2" cy="326.2" r="2.1"/><circle cx="515.5" cy="348.0" r="2.1"/><circle cx="515.2" cy="306.6" r="2.1"/><circle cx="516.5" cy="374.5" r="2.1"/><circle cx="516.9" cy="351.2" r="2.1"/><circle cx="515.8" cy="341.5" r="2.1"/><circle cx="517.7" cy="365.9" r="2.1"/><circle cx="513.4" cy="326.4" r="2.1"/><circle cx="517.5" cy="328.1" r="2.1"/><circle cx="517.0" cy="331.4" r="2.1"/><circle cx="518.0" cy="351.9" r="2.1"/><circle cx="515.4" cy="334.8" r="2.1"/><circle cx="517.2" cy="361.6" r="2.1"/><circle cx="516.8" cy="335.7" r="2.1"/><circle cx="515.6" cy="357.2" r="2.1"/><circle cx="516.1" cy="302.2" r="2.1"/><circle cx="519.5" cy="353.2" r="2.1"/><circle cx="515.2" cy="352.7" r="2.1"/><circle cx="515.8" cy="315.4" r="2.1"/><circle cx="514.6" cy="313.5" r="2.1"/><circle cx="514.4" cy="320.2" r="2.1"/><circle cx="517.6" cy="350.3" r="2.1"/><circle cx="517.0" cy="313.4" r="2.1"/><circle cx="515.7" cy="339.7" r="2.1"/><circle cx="517.1" cy="310.5" r="2.1"/><circle cx="515.7" cy="337.7" r="2.1"/><circle cx="515.5" cy="324.1" r="2.1"/><circle cx="514.9" cy="352.9" r="2.1"/><circle cx="516.2" cy="360.8" r="2.1"/><circle cx="516.6" cy="344.6" r="2.1"/><circle cx="518.0" cy="364.8" r="2.1"/><circle cx="516.4" cy="344.2" r="2.1"/><circle cx="515.0" cy="335.0" r="2.1"/><circle cx="517.7" cy="375.6" r="2.1"/><circle cx="514.1" cy="308.3" r="2.1"/><circle cx="519.2" cy="347.7" r="2.1"/><circle cx="517.5" cy="375.8" r="2.1"/><circle cx="516.3" cy="356.8" r="2.1"/><circle cx="518.1" cy="313.8" r="2.1"/><circle cx="516.5" cy="364.6" r="2.1"/><circle cx="516.8" cy="369.4" r="2.1"/><circle cx="517.0" cy="334.3" r="2.1"/><circle cx="514.7" cy="341.6" r="2.1"/><circle cx="517.5" cy="367.3" r="2.1"/><circle cx="518.5" cy="326.4" r="2.1"/><circle cx="515.3" cy="302.0" r="2.1"/><circle cx="516.0" cy="305.6" r="2.1"/><circle cx="516.9" cy="348.7" r="2.1"/><circle cx="516.4" cy="322.8" r="2.1"/><circle cx="512.5" cy="215.5" r="2.1"/><circle cx="512.9" cy="222.7" r="2.1"/><circle cx="511.6" cy="244.0" r="2.1"/><circle cx="513.4" cy="254.4" r="2.1"/><circle cx="521.6" cy="255.6" r="2.1"/><circle cx="513.4" cy="259.8" r="2.1"/><circle cx="513.4" cy="271.2" r="2.1"/><circle cx="512.5" cy="280.6" r="2.1"/><circle cx="513.4" cy="287.0" r="2.1"/><circle cx="513.4" cy="295.0" r="2.1"/><circle cx="513.0" cy="232.0" r="2.1"/><circle cx="512.0" cy="265.0" r="2.1"/><circle cx="514.0" cy="276.0" r="2.1"/></g><g fill="rgba(255,0,255,0.28)" stroke="rgba(255,0,255,0.55)" stroke-width="1.8"><circle cx="559.5" cy="56.6" r="4.3"/><circle cx="559.0" cy="59.0" r="4.3"/><circle cx="606.0" cy="56.3" r="4.3"/><circle cx="613.3" cy="56.3" r="4.3"/><circle cx="555.0" cy="93.9" r="4.3"/><circle cx="563.5" cy="99.2" r="4.3"/><circle cx="555.9" cy="103.0" r="4.3"/><circle cx="597.5" cy="94.3" r="4.3"/><circle cx="503.8" cy="113.8" r="4.3"/><circle cx="505.6" cy="126.3" r="4.3"/><circle cx="552.5" cy="113.4" r="4.3"/><circle cx="553.9" cy="129.5" r="4.3"/><circle cx="620.5" cy="122.3" r="4.3"/><circle cx="621.5" cy="122.8" r="4.3"/><circle cx="637.3" cy="137.3" r="4.3"/><circle cx="535.5" cy="164.8" r="4.3"/><circle cx="543.3" cy="171.2" r="4.3"/><circle cx="550.0" cy="174.8" r="4.3"/><circle cx="551.8" cy="190.1" r="4.3"/><circle cx="596.3" cy="194.1" r="4.3"/><circle cx="491.7" cy="212.2" r="4.3"/><circle cx="491.3" cy="221.4" r="4.3"/><circle cx="491.7" cy="212.2" r="4.3"/><circle cx="491.3" cy="221.4" r="4.3"/><circle cx="504.4" cy="228.1" r="4.3"/><circle cx="502.2" cy="233.2" r="4.3"/><circle cx="550.1" cy="248.4" r="4.3"/><circle cx="536.9" cy="255.6" r="4.3"/><circle cx="577.1" cy="256.4" r="4.3"/><circle cx="567.1" cy="267.0" r="4.3"/><circle cx="538.7" cy="273.7" r="4.3"/><circle cx="528.4" cy="275.2" r="4.3"/><circle cx="486.3" cy="254.9" r="4.3"/><circle cx="491.7" cy="256.2" r="4.3"/><circle cx="477.2" cy="266.1" r="4.3"/><circle cx="482.7" cy="265.2" r="4.3"/><circle cx="494.4" cy="265.2" r="4.3"/><circle cx="501.7" cy="271.6" r="4.3"/><circle cx="480.9" cy="271.6" r="4.3"/><circle cx="476.3" cy="278.8" r="4.3"/><circle cx="489.9" cy="280.6" r="4.3"/><circle cx="476.3" cy="292.3" r="4.3"/><circle cx="853.3" cy="56.1" r="4.3"/><circle cx="853.3" cy="56.1" r="4.3"/><circle cx="864.0" cy="99.4" r="4.3"/><circle cx="844.1" cy="113.3" r="4.3"/><circle cx="852.1" cy="123.2" r="4.3"/><circle cx="862.4" cy="156.6" r="4.3"/><circle cx="857.2" cy="170.9" r="4.3"/><circle cx="162.3" cy="247.7" r="4.3"/><circle cx="179.9" cy="313.1" r="4.3"/><circle cx="458.8" cy="302.2" r="4.3"/><circle cx="487.8" cy="300.7" r="4.3"/><circle cx="498.8" cy="293.6" r="4.3"/><circle cx="495.0" cy="320.3" r="4.3"/><circle cx="491.2" cy="362.2" r="4.3"/><circle cx="498.0" cy="373.2" r="4.3"/><circle cx="496.3" cy="323.1" r="4.3"/><circle cx="487.3" cy="361.3" r="4.3"/><circle cx="483.1" cy="339.9" r="4.3"/><circle cx="498.4" cy="320.9" r="4.3"/><circle cx="495.3" cy="292.7" r="4.3"/><circle cx="499.8" cy="325.9" r="4.3"/><circle cx="487.5" cy="340.3" r="4.3"/><circle cx="492.2" cy="314.3" r="4.3"/><circle cx="503.6" cy="350.6" r="4.3"/><circle cx="485.2" cy="339.3" r="4.3"/><circle cx="494.6" cy="366.6" r="4.3"/><circle cx="501.4" cy="313.2" r="4.3"/><circle cx="491.0" cy="355.9" r="4.3"/><circle cx="482.1" cy="331.5" r="4.3"/><circle cx="478.3" cy="347.8" r="4.3"/><circle cx="502.6" cy="339.1" r="4.3"/><circle cx="500.3" cy="341.1" r="4.3"/><circle cx="496.4" cy="328.5" r="4.3"/><circle cx="505.1" cy="373.0" r="4.3"/><circle cx="492.9" cy="347.4" r="4.3"/><circle cx="479.0" cy="350.8" r="4.3"/><circle cx="498.7" cy="377.4" r="4.3"/><circle cx="489.9" cy="347.8" r="4.3"/><circle cx="479.0" cy="356.9" r="4.3"/><circle cx="490.1" cy="366.3" r="4.3"/><circle cx="495.4" cy="367.4" r="4.3"/><circle cx="504.4" cy="365.6" r="4.3"/><circle cx="486.3" cy="324.8" r="4.3"/><circle cx="489.0" cy="367.5" r="4.3"/><circle cx="484.8" cy="331.1" r="4.3"/><circle cx="496.7" cy="310.9" r="4.3"/><circle cx="489.4" cy="338.5" r="4.3"/><circle cx="508.9" cy="349.8" r="4.3"/><circle cx="494.3" cy="343.2" r="4.3"/><circle cx="507.1" cy="358.0" r="4.3"/><circle cx="506.3" cy="359.6" r="4.3"/><circle cx="490.1" cy="323.3" r="4.3"/><circle cx="480.5" cy="344.7" r="4.3"/><circle cx="488.4" cy="291.8" r="4.3"/><circle cx="477.9" cy="366.6" r="4.3"/><circle cx="497.6" cy="300.5" r="4.3"/><circle cx="485.5" cy="318.6" r="4.3"/><circle cx="489.2" cy="298.2" r="4.3"/><circle cx="505.4" cy="377.4" r="4.3"/><circle cx="492.6" cy="331.0" r="4.3"/><circle cx="488.5" cy="311.1" r="4.3"/><circle cx="477.8" cy="373.5" r="4.3"/><circle cx="494.7" cy="300.3" r="4.3"/><circle cx="495.2" cy="289.5" r="4.3"/><circle cx="494.7" cy="376.0" r="4.3"/><circle cx="505.9" cy="350.4" r="4.3"/><circle cx="485.7" cy="320.4" r="4.3"/><circle cx="482.6" cy="357.2" r="4.3"/><circle cx="494.8" cy="357.9" r="4.3"/><circle cx="488.0" cy="307.3" r="4.3"/><circle cx="504.2" cy="376.6" r="4.3"/><circle cx="505.6" cy="360.4" r="4.3"/><circle cx="504.4" cy="354.3" r="4.3"/><circle cx="484.6" cy="334.1" r="4.3"/><circle cx="488.9" cy="289.6" r="4.3"/><circle cx="485.7" cy="350.0" r="4.3"/><circle cx="508.4" cy="376.9" r="4.3"/><circle cx="497.9" cy="368.9" r="4.3"/><circle cx="505.2" cy="330.6" r="4.3"/><circle cx="498.9" cy="359.8" r="4.3"/><circle cx="479.8" cy="347.1" r="4.3"/><circle cx="507.5" cy="358.2" r="4.3"/><circle cx="502.1" cy="330.5" r="4.3"/><circle cx="483.0" cy="358.8" r="4.3"/><circle cx="488.1" cy="359.9" r="4.3"/><circle cx="490.4" cy="373.2" r="4.3"/><circle cx="507.3" cy="360.4" r="4.3"/><circle cx="481.9" cy="362.2" r="4.3"/><circle cx="488.7" cy="336.9" r="4.3"/><circle cx="509.5" cy="346.1" r="4.3"/><circle cx="494.6" cy="372.0" r="4.3"/><circle cx="491.5" cy="366.3" r="4.3"/><circle cx="485.4" cy="313.7" r="4.3"/><circle cx="485.1" cy="340.4" r="4.3"/><circle cx="485.7" cy="325.1" r="4.3"/><circle cx="481.4" cy="369.8" r="4.3"/><circle cx="488.9" cy="328.7" r="4.3"/><circle cx="496.5" cy="369.3" r="4.3"/><circle cx="491.1" cy="370.5" r="4.3"/><circle cx="493.8" cy="335.4" r="4.3"/><circle cx="494.5" cy="288.7" r="4.3"/><circle cx="491.7" cy="303.7" r="4.3"/><circle cx="477.1" cy="359.7" r="4.3"/><circle cx="482.8" cy="330.1" r="4.3"/><circle cx="501.3" cy="337.6" r="4.3"/><circle cx="487.9" cy="334.2" r="4.3"/><circle cx="495.6" cy="358.4" r="4.3"/><circle cx="480.6" cy="338.0" r="4.3"/><circle cx="485.3" cy="312.2" r="4.3"/><circle cx="502.9" cy="333.2" r="4.3"/><circle cx="495.8" cy="356.2" r="4.3"/><circle cx="507.6" cy="327.3" r="4.3"/><circle cx="497.5" cy="333.0" r="4.3"/><circle cx="494.2" cy="350.0" r="4.3"/><circle cx="492.2" cy="335.5" r="4.3"/><circle cx="493.0" cy="372.7" r="4.3"/><circle cx="500.4" cy="366.8" r="4.3"/><circle cx="495.7" cy="372.8" r="4.3"/><circle cx="479.4" cy="347.9" r="4.3"/><circle cx="503.3" cy="368.6" r="4.3"/><circle cx="482.2" cy="352.2" r="4.3"/><circle cx="499.1" cy="300.0" r="4.3"/><circle cx="506.6" cy="375.0" r="4.3"/><circle cx="484.4" cy="373.7" r="4.3"/><circle cx="490.3" cy="331.3" r="4.3"/><circle cx="494.3" cy="317.9" r="4.3"/><circle cx="495.6" cy="327.1" r="4.3"/><circle cx="497.9" cy="333.6" r="4.3"/><circle cx="479.2" cy="376.6" r="4.3"/><circle cx="503.4" cy="375.4" r="4.3"/><circle cx="478.3" cy="357.9" r="4.3"/><circle cx="491.1" cy="369.9" r="4.3"/><circle cx="482.0" cy="370.6" r="4.3"/><circle cx="496.1" cy="350.7" r="4.3"/><circle cx="500.1" cy="325.7" r="4.3"/><circle cx="479.4" cy="372.4" r="4.3"/><circle cx="498.3" cy="359.9" r="4.3"/><circle cx="479.8" cy="364.9" r="4.3"/><circle cx="479.2" cy="365.5" r="4.3"/><circle cx="492.2" cy="317.9" r="4.3"/><circle cx="495.5" cy="371.3" r="4.3"/><circle cx="494.7" cy="308.7" r="4.3"/><circle cx="487.5" cy="314.8" r="4.3"/><circle cx="502.4" cy="313.4" r="4.3"/><circle cx="493.8" cy="303.2" r="4.3"/><circle cx="501.6" cy="337.1" r="4.3"/><circle cx="483.3" cy="330.2" r="4.3"/><circle cx="504.4" cy="326.3" r="4.3"/><circle cx="493.6" cy="362.9" r="4.3"/><circle cx="490.2" cy="333.1" r="4.3"/><circle cx="500.0" cy="376.4" r="4.3"/><circle cx="488.5" cy="362.7" r="4.3"/><circle cx="500.7" cy="344.9" r="4.3"/><circle cx="490.6" cy="318.6" r="4.3"/><circle cx="479.4" cy="354.4" r="4.3"/><circle cx="479.8" cy="363.6" r="4.3"/><circle cx="506.2" cy="348.0" r="4.3"/><circle cx="486.4" cy="309.0" r="4.3"/><circle cx="486.8" cy="328.8" r="4.3"/><circle cx="482.3" cy="327.6" r="4.3"/><circle cx="485.8" cy="374.5" r="4.3"/><circle cx="485.2" cy="374.9" r="4.3"/><circle cx="487.4" cy="319.4" r="4.3"/><circle cx="492.9" cy="332.8" r="4.3"/><circle cx="483.7" cy="332.9" r="4.3"/><circle cx="487.2" cy="308.2" r="4.3"/><circle cx="496.6" cy="335.2" r="4.3"/><circle cx="502.1" cy="346.8" r="4.3"/><circle cx="501.0" cy="367.0" r="4.3"/><circle cx="490.0" cy="316.7" r="4.3"/><circle cx="501.3" cy="345.5" r="4.3"/><circle cx="478.5" cy="363.0" r="4.3"/><circle cx="506.9" cy="344.1" r="4.3"/><circle cx="501.6" cy="360.9" r="4.3"/><circle cx="481.7" cy="334.7" r="4.3"/><circle cx="493.9" cy="363.0" r="4.3"/><circle cx="504.0" cy="362.2" r="4.3"/><circle cx="496.6" cy="368.2" r="4.3"/><circle cx="499.9" cy="350.1" r="4.3"/><circle cx="480.5" cy="363.1" r="4.3"/><circle cx="495.7" cy="344.1" r="4.3"/><circle cx="498.0" cy="348.9" r="4.3"/><circle cx="503.7" cy="355.1" r="4.3"/><circle cx="493.8" cy="335.7" r="4.3"/><circle cx="499.1" cy="293.0" r="4.3"/><circle cx="501.7" cy="309.9" r="4.3"/><circle cx="501.4" cy="305.7" r="4.3"/><circle cx="501.8" cy="375.8" r="4.3"/><circle cx="493.5" cy="321.8" r="4.3"/><circle cx="493.0" cy="349.2" r="4.3"/><circle cx="502.7" cy="343.1" r="4.3"/><circle cx="498.5" cy="294.0" r="4.3"/><circle cx="501.9" cy="314.7" r="4.3"/><circle cx="499.5" cy="350.0" r="4.3"/><circle cx="499.6" cy="313.5" r="4.3"/><circle cx="494.3" cy="329.3" r="4.3"/><circle cx="492.6" cy="297.8" r="4.3"/><circle cx="509.8" cy="372.2" r="4.3"/><circle cx="504.5" cy="375.1" r="4.3"/><circle cx="492.1" cy="311.4" r="4.3"/><circle cx="484.0" cy="373.0" r="4.3"/><circle cx="484.1" cy="339.9" r="4.3"/><circle cx="481.7" cy="334.7" r="4.3"/><circle cx="504.5" cy="333.3" r="4.3"/><circle cx="506.7" cy="351.0" r="4.3"/><circle cx="484.8" cy="368.7" r="4.3"/><circle cx="493.3" cy="289.3" r="4.3"/><circle cx="492.1" cy="314.5" r="4.3"/><circle cx="487.6" cy="363.5" r="4.3"/><circle cx="477.1" cy="355.3" r="4.3"/><circle cx="508.0" cy="351.9" r="4.3"/><circle cx="489.5" cy="322.8" r="4.3"/><circle cx="489.1" cy="326.0" r="4.3"/><circle cx="480.4" cy="363.0" r="4.3"/><circle cx="486.6" cy="372.1" r="4.3"/><circle cx="485.4" cy="311.2" r="4.3"/><circle cx="494.1" cy="304.3" r="4.3"/><circle cx="489.5" cy="374.0" r="4.3"/><circle cx="506.6" cy="360.9" r="4.3"/><circle cx="498.1" cy="370.1" r="4.3"/><circle cx="508.5" cy="337.0" r="4.3"/><circle cx="501.5" cy="328.0" r="4.3"/><circle cx="502.2" cy="345.6" r="4.3"/><circle cx="492.8" cy="318.3" r="4.3"/><circle cx="487.0" cy="354.3" r="4.3"/><circle cx="499.0" cy="314.4" r="4.3"/><circle cx="495.7" cy="322.9" r="4.3"/><circle cx="484.0" cy="369.4" r="4.3"/><circle cx="493.7" cy="307.0" r="4.3"/><circle cx="507.4" cy="377.7" r="4.3"/><circle cx="492.1" cy="299.7" r="4.3"/><circle cx="488.5" cy="295.3" r="4.3"/><circle cx="496.1" cy="367.7" r="4.3"/><circle cx="502.1" cy="324.6" r="4.3"/><circle cx="490.9" cy="334.7" r="4.3"/><circle cx="489.6" cy="317.8" r="4.3"/><circle cx="493.9" cy="344.3" r="4.3"/><circle cx="486.1" cy="309.6" r="4.3"/><circle cx="490.4" cy="327.6" r="4.3"/><circle cx="509.0" cy="364.2" r="4.3"/><circle cx="478.1" cy="351.6" r="4.3"/><circle cx="507.0" cy="330.1" r="4.3"/><circle cx="490.1" cy="371.3" r="4.3"/><circle cx="504.7" cy="364.8" r="4.3"/><circle cx="494.5" cy="349.1" r="4.3"/><circle cx="508.5" cy="352.7" r="4.3"/><circle cx="498.7" cy="356.6" r="4.3"/><circle cx="492.3" cy="337.2" r="4.3"/><circle cx="478.3" cy="358.2" r="4.3"/><circle cx="484.8" cy="370.7" r="4.3"/><circle cx="498.6" cy="314.6" r="4.3"/><circle cx="498.3" cy="350.6" r="4.3"/><circle cx="494.6" cy="340.0" r="4.3"/><circle cx="490.0" cy="307.3" r="4.3"/><circle cx="487.1" cy="328.9" r="4.3"/><circle cx="509.1" cy="345.7" r="4.3"/><circle cx="506.6" cy="330.3" r="4.3"/><circle cx="509.2" cy="351.1" r="4.3"/><circle cx="493.7" cy="348.4" r="4.3"/><circle cx="491.1" cy="310.4" r="4.3"/><circle cx="499.4" cy="371.2" r="4.3"/><circle cx="488.3" cy="325.3" r="4.3"/><circle cx="499.9" cy="305.0" r="4.3"/><circle cx="503.7" cy="354.3" r="4.3"/><circle cx="493.9" cy="305.7" r="4.3"/><circle cx="484.4" cy="356.2" r="4.3"/><circle cx="486.9" cy="373.6" r="4.3"/><circle cx="493.6" cy="304.0" r="4.3"/><circle cx="484.5" cy="324.9" r="4.3"/><circle cx="499.3" cy="373.3" r="4.3"/><circle cx="484.1" cy="375.6" r="4.3"/><circle cx="507.1" cy="367.4" r="4.3"/><circle cx="501.5" cy="377.8" r="4.3"/><circle cx="483.2" cy="372.2" r="4.3"/><circle cx="499.3" cy="321.5" r="4.3"/><circle cx="489.5" cy="317.2" r="4.3"/><circle cx="486.4" cy="319.0" r="4.3"/><circle cx="488.9" cy="361.8" r="4.3"/><circle cx="504.5" cy="326.4" r="4.3"/><circle cx="489.5" cy="370.7" r="4.3"/><circle cx="490.8" cy="360.9" r="4.3"/><circle cx="502.0" cy="368.8" r="4.3"/><circle cx="488.4" cy="311.8" r="4.3"/><circle cx="509.1" cy="343.1" r="4.3"/><circle cx="485.8" cy="352.2" r="4.3"/><circle cx="487.6" cy="312.1" r="4.3"/><circle cx="477.1" cy="355.8" r="4.3"/><circle cx="507.7" cy="344.7" r="4.3"/><circle cx="484.8" cy="330.2" r="4.3"/><circle cx="509.1" cy="373.8" r="4.3"/><circle cx="489.9" cy="309.8" r="4.3"/><circle cx="491.4" cy="331.9" r="4.3"/><circle cx="503.9" cy="354.2" r="4.3"/><circle cx="504.6" cy="357.3" r="4.3"/><circle cx="497.3" cy="316.8" r="4.3"/><circle cx="487.7" cy="319.9" r="4.3"/><circle cx="483.6" cy="355.5" r="4.3"/><circle cx="487.9" cy="376.2" r="4.3"/><circle cx="506.6" cy="376.9" r="4.3"/><circle cx="480.2" cy="332.4" r="4.3"/><circle cx="500.8" cy="327.7" r="4.3"/><circle cx="484.8" cy="324.9" r="4.3"/><circle cx="497.8" cy="348.3" r="4.3"/><circle cx="502.1" cy="364.1" r="4.3"/><circle cx="499.3" cy="298.0" r="4.3"/><circle cx="496.0" cy="320.9" r="4.3"/><circle cx="485.3" cy="309.3" r="4.3"/><circle cx="482.1" cy="367.5" r="4.3"/><circle cx="496.4" cy="316.7" r="4.3"/><circle cx="490.3" cy="377.3" r="4.3"/><circle cx="494.0" cy="308.1" r="4.3"/><circle cx="504.1" cy="346.5" r="4.3"/><circle cx="492.9" cy="361.5" r="4.3"/><circle cx="505.2" cy="370.2" r="4.3"/><circle cx="506.0" cy="327.9" r="4.3"/><circle cx="485.7" cy="357.8" r="4.3"/><circle cx="497.0" cy="343.4" r="4.3"/><circle cx="485.5" cy="341.5" r="4.3"/><circle cx="498.8" cy="305.5" r="4.3"/><circle cx="499.7" cy="303.8" r="4.3"/><circle cx="487.5" cy="305.5" r="4.3"/><circle cx="503.6" cy="336.9" r="4.3"/><circle cx="490.2" cy="337.1" r="4.3"/><circle cx="498.4" cy="295.3" r="4.3"/><circle cx="482.5" cy="350.3" r="4.3"/><circle cx="490.7" cy="312.8" r="4.3"/><circle cx="487.3" cy="373.7" r="4.3"/><circle cx="487.5" cy="338.6" r="4.3"/><circle cx="489.0" cy="324.9" r="4.3"/><circle cx="506.0" cy="377.7" r="4.3"/><circle cx="489.2" cy="304.9" r="4.3"/><circle cx="501.4" cy="305.5" r="4.3"/><circle cx="477.2" cy="369.0" r="4.3"/><circle cx="491.2" cy="361.7" r="4.3"/><circle cx="490.6" cy="367.3" r="4.3"/><circle cx="492.4" cy="301.8" r="4.3"/><circle cx="498.5" cy="369.8" r="4.3"/><circle cx="480.0" cy="343.6" r="4.3"/><circle cx="489.4" cy="332.9" r="4.3"/><circle cx="494.5" cy="371.2" r="4.3"/><circle cx="480.6" cy="331.6" r="4.3"/><circle cx="504.0" cy="375.0" r="4.3"/><circle cx="508.6" cy="375.8" r="4.3"/><circle cx="493.2" cy="291.9" r="4.3"/><circle cx="507.3" cy="343.5" r="4.3"/><circle cx="490.6" cy="364.0" r="4.3"/><circle cx="484.3" cy="323.4" r="4.3"/><circle cx="494.3" cy="321.9" r="4.3"/><circle cx="501.3" cy="368.7" r="4.3"/><circle cx="478.4" cy="338.2" r="4.3"/><circle cx="497.1" cy="337.1" r="4.3"/><circle cx="498.0" cy="314.9" r="4.3"/><circle cx="491.1" cy="340.0" r="4.3"/><circle cx="491.3" cy="347.0" r="4.3"/><circle cx="492.0" cy="326.9" r="4.3"/><circle cx="477.8" cy="343.3" r="4.3"/><circle cx="493.4" cy="308.4" r="4.3"/><circle cx="502.6" cy="358.0" r="4.3"/><circle cx="492.4" cy="303.3" r="4.3"/><circle cx="492.9" cy="296.7" r="4.3"/><circle cx="494.1" cy="290.7" r="4.3"/><circle cx="498.3" cy="294.5" r="4.3"/><circle cx="501.6" cy="357.8" r="4.3"/><circle cx="494.1" cy="291.9" r="4.3"/><circle cx="493.9" cy="321.4" r="4.3"/><circle cx="505.7" cy="377.6" r="4.3"/><circle cx="501.5" cy="361.2" r="4.3"/><circle cx="483.5" cy="376.3" r="4.3"/><circle cx="493.5" cy="374.1" r="4.3"/><circle cx="503.4" cy="371.7" r="4.3"/><circle cx="493.8" cy="370.7" r="4.3"/><circle cx="494.0" cy="316.0" r="4.3"/><circle cx="482.4" cy="372.2" r="4.3"/><circle cx="499.8" cy="368.5" r="4.3"/><circle cx="482.7" cy="358.4" r="4.3"/><circle cx="480.9" cy="335.3" r="4.3"/><circle cx="498.3" cy="319.7" r="4.3"/><circle cx="506.2" cy="337.5" r="4.3"/><circle cx="496.4" cy="367.3" r="4.3"/><circle cx="480.5" cy="377.4" r="4.3"/><circle cx="498.1" cy="322.9" r="4.3"/><circle cx="489.1" cy="356.6" r="4.3"/><circle cx="491.8" cy="303.1" r="4.3"/><circle cx="498.4" cy="376.5" r="4.3"/><circle cx="496.6" cy="347.4" r="4.3"/><circle cx="497.6" cy="326.3" r="4.3"/><circle cx="494.2" cy="368.5" r="4.3"/><circle cx="484.5" cy="340.1" r="4.3"/><circle cx="496.7" cy="305.6" r="4.3"/><circle cx="497.9" cy="330.2" r="4.3"/><circle cx="481.5" cy="372.2" r="4.3"/><circle cx="480.2" cy="345.1" r="4.3"/><circle cx="506.2" cy="358.2" r="4.3"/><circle cx="490.5" cy="311.0" r="4.3"/><circle cx="477.4" cy="345.7" r="4.3"/><circle cx="495.8" cy="318.9" r="4.3"/><circle cx="498.6" cy="327.4" r="4.3"/><circle cx="508.4" cy="353.8" r="4.3"/><circle cx="485.3" cy="369.2" r="4.3"/><circle cx="490.6" cy="308.6" r="4.3"/><circle cx="479.0" cy="357.9" r="4.3"/><circle cx="483.7" cy="342.3" r="4.3"/><circle cx="494.0" cy="345.4" r="4.3"/><circle cx="487.4" cy="314.3" r="4.3"/><circle cx="478.6" cy="367.9" r="4.3"/><circle cx="503.2" cy="352.1" r="4.3"/><circle cx="477.2" cy="363.8" r="4.3"/><circle cx="502.0" cy="329.3" r="4.3"/><circle cx="501.8" cy="328.2" r="4.3"/><circle cx="488.2" cy="355.2" r="4.3"/><circle cx="500.3" cy="363.9" r="4.3"/><circle cx="500.8" cy="311.2" r="4.3"/><circle cx="495.6" cy="326.7" r="4.3"/><circle cx="503.4" cy="334.6" r="4.3"/><circle cx="485.9" cy="345.4" r="4.3"/><circle cx="485.7" cy="308.5" r="4.3"/><circle cx="501.9" cy="373.0" r="4.3"/><circle cx="502.0" cy="316.7" r="4.3"/><circle cx="485.0" cy="369.6" r="4.3"/><circle cx="498.1" cy="350.0" r="4.3"/><circle cx="499.3" cy="376.1" r="4.3"/><circle cx="492.7" cy="363.4" r="4.3"/><circle cx="500.4" cy="365.0" r="4.3"/><circle cx="491.6" cy="352.9" r="4.3"/><circle cx="496.1" cy="315.0" r="4.3"/><circle cx="484.1" cy="343.7" r="4.3"/><circle cx="479.6" cy="369.9" r="4.3"/><circle cx="480.6" cy="371.5" r="4.3"/><circle cx="488.6" cy="299.9" r="4.3"/><circle cx="500.2" cy="344.7" r="4.3"/><circle cx="500.3" cy="354.0" r="4.3"/><circle cx="479.2" cy="340.7" r="4.3"/><circle cx="489.2" cy="361.4" r="4.3"/><circle cx="504.5" cy="368.1" r="4.3"/><circle cx="479.2" cy="366.0" r="4.3"/><circle cx="507.6" cy="372.9" r="4.3"/><circle cx="505.4" cy="360.9" r="4.3"/><circle cx="498.2" cy="362.1" r="4.3"/><circle cx="498.2" cy="313.2" r="4.3"/><circle cx="487.7" cy="325.6" r="4.3"/><circle cx="486.5" cy="352.1" r="4.3"/><circle cx="489.3" cy="316.2" r="4.3"/><circle cx="505.5" cy="343.3" r="4.3"/><circle cx="491.6" cy="357.3" r="4.3"/><circle cx="488.6" cy="351.1" r="4.3"/><circle cx="495.0" cy="306.7" r="4.3"/><circle cx="502.5" cy="376.0" r="4.3"/><circle cx="493.5" cy="359.5" r="4.3"/><circle cx="483.2" cy="332.0" r="4.3"/><circle cx="488.6" cy="362.7" r="4.3"/><circle cx="485.7" cy="372.9" r="4.3"/><circle cx="486.5" cy="306.5" r="4.3"/><circle cx="500.4" cy="332.3" r="4.3"/><circle cx="480.7" cy="344.9" r="4.3"/><circle cx="479.7" cy="358.7" r="4.3"/><circle cx="500.4" cy="358.6" r="4.3"/><circle cx="498.0" cy="319.4" r="4.3"/><circle cx="490.4" cy="322.9" r="4.3"/><circle cx="507.2" cy="332.6" r="4.3"/><circle cx="489.7" cy="367.4" r="4.3"/><circle cx="484.8" cy="328.9" r="4.3"/><circle cx="494.8" cy="355.7" r="4.3"/><circle cx="502.2" cy="345.8" r="4.3"/><circle cx="488.7" cy="316.7" r="4.3"/><circle cx="482.2" cy="363.7" r="4.3"/><circle cx="499.2" cy="354.5" r="4.3"/><circle cx="482.7" cy="326.9" r="4.3"/><circle cx="502.9" cy="339.7" r="4.3"/><circle cx="481.2" cy="329.0" r="4.3"/><circle cx="500.6" cy="363.8" r="4.3"/><circle cx="485.3" cy="316.7" r="4.3"/><circle cx="494.5" cy="301.6" r="4.3"/><circle cx="488.0" cy="304.2" r="4.3"/><circle cx="509.7" cy="353.3" r="4.3"/><circle cx="480.4" cy="374.6" r="4.3"/><circle cx="501.6" cy="326.6" r="4.3"/><circle cx="483.6" cy="345.1" r="4.3"/><circle cx="490.0" cy="290.1" r="4.3"/><circle cx="490.4" cy="359.0" r="4.3"/><circle cx="500.2" cy="332.5" r="4.3"/><circle cx="478.3" cy="332.9" r="4.3"/><circle cx="468.0" cy="344.7" r="4.3"/><circle cx="473.5" cy="356.2" r="4.3"/><circle cx="477.1" cy="356.9" r="4.3"/><circle cx="473.8" cy="313.2" r="4.3"/><circle cx="478.5" cy="332.1" r="4.3"/><circle cx="471.6" cy="346.8" r="4.3"/><circle cx="467.1" cy="329.2" r="4.3"/><circle cx="478.2" cy="315.0" r="4.3"/><circle cx="473.9" cy="332.2" r="4.3"/><circle cx="478.1" cy="328.4" r="4.3"/><circle cx="468.8" cy="349.0" r="4.3"/><circle cx="481.3" cy="326.7" r="4.3"/><circle cx="475.3" cy="375.9" r="4.3"/><circle cx="465.8" cy="339.6" r="4.3"/><circle cx="468.4" cy="359.7" r="4.3"/><circle cx="467.1" cy="342.3" r="4.3"/><circle cx="476.4" cy="354.3" r="4.3"/><circle cx="475.8" cy="347.7" r="4.3"/><circle cx="473.6" cy="373.6" r="4.3"/><circle cx="469.4" cy="351.5" r="4.3"/><circle cx="473.2" cy="358.1" r="4.3"/><circle cx="467.6" cy="376.7" r="4.3"/><circle cx="470.8" cy="327.6" r="4.3"/><circle cx="473.8" cy="352.7" r="4.3"/><circle cx="472.4" cy="316.3" r="4.3"/><circle cx="469.7" cy="356.3" r="4.3"/><circle cx="469.6" cy="361.3" r="4.3"/><circle cx="473.2" cy="311.8" r="4.3"/><circle cx="467.7" cy="359.2" r="4.3"/><circle cx="474.9" cy="341.2" r="4.3"/><circle cx="469.7" cy="375.0" r="4.3"/><circle cx="472.4" cy="347.7" r="4.3"/><circle cx="474.8" cy="318.7" r="4.3"/><circle cx="476.5" cy="304.5" r="4.3"/><circle cx="482.5" cy="323.8" r="4.3"/><circle cx="482.9" cy="316.5" r="4.3"/><circle cx="472.9" cy="315.3" r="4.3"/><circle cx="473.9" cy="309.6" r="4.3"/><circle cx="470.9" cy="314.6" r="4.3"/><circle cx="471.3" cy="334.3" r="4.3"/><circle cx="474.0" cy="347.5" r="4.3"/><circle cx="478.8" cy="324.4" r="4.3"/><circle cx="466.2" cy="363.5" r="4.3"/><circle cx="467.9" cy="363.8" r="4.3"/><circle cx="478.8" cy="315.0" r="4.3"/><circle cx="469.9" cy="359.2" r="4.3"/><circle cx="472.3" cy="306.8" r="4.3"/><circle cx="468.5" cy="368.9" r="4.3"/><circle cx="477.8" cy="359.6" r="4.3"/><circle cx="542.7" cy="372.6" r="4.3"/><circle cx="546.1" cy="369.8" r="4.3"/><circle cx="529.5" cy="362.3" r="4.3"/><circle cx="538.9" cy="364.8" r="4.3"/><circle cx="536.3" cy="372.0" r="4.3"/><circle cx="539.5" cy="340.5" r="4.3"/><circle cx="530.6" cy="334.1" r="4.3"/><circle cx="537.8" cy="330.0" r="4.3"/><circle cx="537.1" cy="334.4" r="4.3"/><circle cx="537.8" cy="352.4" r="4.3"/><circle cx="539.1" cy="371.0" r="4.3"/><circle cx="524.2" cy="369.9" r="4.3"/><circle cx="537.1" cy="355.7" r="4.3"/><circle cx="542.6" cy="369.9" r="4.3"/><circle cx="534.5" cy="348.4" r="4.3"/><circle cx="541.8" cy="359.4" r="4.3"/><circle cx="524.8" cy="358.1" r="4.3"/><circle cx="543.1" cy="374.5" r="4.3"/><circle cx="533.3" cy="377.1" r="4.3"/><circle cx="538.3" cy="351.7" r="4.3"/><circle cx="544.1" cy="358.9" r="4.3"/><circle cx="533.5" cy="370.9" r="4.3"/><circle cx="534.3" cy="351.2" r="4.3"/><circle cx="538.7" cy="366.3" r="4.3"/><circle cx="529.9" cy="349.2" r="4.3"/><circle cx="535.8" cy="355.3" r="4.3"/><circle cx="547.1" cy="341.9" r="4.3"/><circle cx="547.2" cy="347.6" r="4.3"/><circle cx="538.1" cy="340.9" r="4.3"/><circle cx="538.2" cy="376.7" r="4.3"/><circle cx="542.3" cy="367.4" r="4.3"/><circle cx="533.3" cy="343.2" r="4.3"/><circle cx="532.4" cy="356.9" r="4.3"/><circle cx="541.8" cy="367.0" r="4.3"/><circle cx="525.1" cy="363.9" r="4.3"/><circle cx="548.8" cy="354.8" r="4.3"/><circle cx="525.4" cy="342.3" r="4.3"/><circle cx="524.2" cy="336.7" r="4.3"/><circle cx="549.8" cy="358.0" r="4.3"/><circle cx="542.4" cy="367.2" r="4.3"/><circle cx="549.5" cy="358.2" r="4.3"/><circle cx="541.3" cy="359.0" r="4.3"/><circle cx="543.5" cy="357.4" r="4.3"/><circle cx="543.1" cy="337.8" r="4.3"/><circle cx="542.7" cy="350.4" r="4.3"/><circle cx="545.4" cy="332.2" r="4.3"/><circle cx="545.7" cy="373.6" r="4.3"/><circle cx="542.4" cy="345.8" r="4.3"/><circle cx="547.0" cy="367.1" r="4.3"/><circle cx="539.7" cy="340.2" r="4.3"/><circle cx="532.5" cy="348.5" r="4.3"/><circle cx="532.9" cy="349.0" r="4.3"/><circle cx="542.0" cy="374.6" r="4.3"/><circle cx="525.5" cy="355.9" r="4.3"/><circle cx="546.7" cy="356.3" r="4.3"/><circle cx="549.7" cy="349.8" r="4.3"/><circle cx="524.4" cy="346.7" r="4.3"/><circle cx="540.6" cy="374.8" r="4.3"/><circle cx="535.5" cy="332.2" r="4.3"/><circle cx="542.0" cy="337.8" r="4.3"/><circle cx="524.1" cy="361.9" r="4.3"/><circle cx="527.4" cy="376.3" r="4.3"/><circle cx="526.5" cy="371.3" r="4.3"/><circle cx="544.1" cy="339.4" r="4.3"/><circle cx="544.5" cy="336.6" r="4.3"/><circle cx="525.4" cy="366.5" r="4.3"/><circle cx="544.0" cy="370.6" r="4.3"/><circle cx="544.4" cy="331.3" r="4.3"/><circle cx="541.6" cy="363.2" r="4.3"/><circle cx="536.9" cy="374.5" r="4.3"/><circle cx="531.1" cy="376.2" r="4.3"/><circle cx="524.4" cy="360.2" r="4.3"/><circle cx="546.9" cy="331.1" r="4.3"/><circle cx="532.7" cy="364.2" r="4.3"/><circle cx="528.6" cy="370.9" r="4.3"/><circle cx="537.6" cy="330.0" r="4.3"/><circle cx="534.3" cy="356.3" r="4.3"/><circle cx="536.3" cy="361.5" r="4.3"/><circle cx="528.1" cy="367.7" r="4.3"/><circle cx="534.2" cy="359.9" r="4.3"/><circle cx="541.6" cy="348.3" r="4.3"/><circle cx="534.8" cy="367.1" r="4.3"/><circle cx="550.5" cy="367.0" r="4.3"/><circle cx="539.9" cy="341.9" r="4.3"/><circle cx="525.7" cy="376.7" r="4.3"/><circle cx="543.7" cy="369.2" r="4.3"/><circle cx="533.3" cy="357.9" r="4.3"/><circle cx="551.4" cy="369.4" r="4.3"/><circle cx="540.8" cy="342.7" r="4.3"/><circle cx="536.0" cy="372.3" r="4.3"/><circle cx="534.5" cy="361.9" r="4.3"/><circle cx="540.8" cy="372.7" r="4.3"/><circle cx="546.6" cy="341.4" r="4.3"/><circle cx="524.0" cy="340.4" r="4.3"/><circle cx="535.8" cy="356.9" r="4.3"/><circle cx="546.8" cy="372.3" r="4.3"/><circle cx="525.2" cy="369.5" r="4.3"/><circle cx="546.7" cy="371.2" r="4.3"/><circle cx="540.0" cy="341.0" r="4.3"/><circle cx="547.8" cy="368.2" r="4.3"/><circle cx="543.2" cy="373.6" r="4.3"/><circle cx="533.7" cy="331.3" r="4.3"/><circle cx="539.5" cy="367.7" r="4.3"/><circle cx="529.6" cy="365.3" r="4.3"/><circle cx="550.1" cy="338.9" r="4.3"/><circle cx="541.0" cy="361.6" r="4.3"/><circle cx="537.0" cy="337.5" r="4.3"/><circle cx="531.1" cy="365.3" r="4.3"/><circle cx="546.2" cy="350.4" r="4.3"/><circle cx="526.5" cy="368.1" r="4.3"/><circle cx="545.6" cy="338.9" r="4.3"/><circle cx="540.2" cy="372.7" r="4.3"/><circle cx="548.8" cy="353.6" r="4.3"/><circle cx="537.3" cy="357.1" r="4.3"/><circle cx="529.3" cy="336.8" r="4.3"/><circle cx="529.1" cy="362.8" r="4.3"/><circle cx="534.2" cy="355.8" r="4.3"/><circle cx="535.3" cy="353.4" r="4.3"/><circle cx="527.0" cy="359.3" r="4.3"/><circle cx="546.0" cy="335.0" r="4.3"/><circle cx="540.7" cy="344.6" r="4.3"/><circle cx="538.5" cy="328.0" r="4.3"/><circle cx="524.9" cy="377.5" r="4.3"/><circle cx="548.3" cy="351.8" r="4.3"/><circle cx="539.9" cy="340.3" r="4.3"/><circle cx="545.8" cy="348.7" r="4.3"/><circle cx="550.5" cy="366.1" r="4.3"/><circle cx="546.9" cy="376.1" r="4.3"/><circle cx="529.6" cy="336.2" r="4.3"/><circle cx="539.6" cy="371.4" r="4.3"/><circle cx="536.8" cy="375.3" r="4.3"/><circle cx="540.7" cy="347.3" r="4.3"/><circle cx="527.4" cy="375.9" r="4.3"/><circle cx="531.2" cy="355.8" r="4.3"/><circle cx="541.9" cy="375.8" r="4.3"/><circle cx="542.8" cy="347.0" r="4.3"/><circle cx="536.6" cy="335.1" r="4.3"/><circle cx="551.0" cy="377.6" r="4.3"/><circle cx="531.2" cy="345.0" r="4.3"/><circle cx="549.3" cy="373.1" r="4.3"/><circle cx="546.0" cy="363.2" r="4.3"/><circle cx="542.1" cy="377.3" r="4.3"/><circle cx="525.6" cy="334.4" r="4.3"/><circle cx="545.1" cy="374.9" r="4.3"/><circle cx="543.0" cy="342.2" r="4.3"/><circle cx="540.6" cy="365.7" r="4.3"/><circle cx="527.0" cy="343.5" r="4.3"/><circle cx="531.2" cy="333.3" r="4.3"/><circle cx="537.5" cy="335.6" r="4.3"/><circle cx="530.7" cy="334.3" r="4.3"/><circle cx="544.1" cy="337.0" r="4.3"/><circle cx="525.0" cy="374.3" r="4.3"/><circle cx="530.2" cy="374.6" r="4.3"/><circle cx="548.3" cy="372.3" r="4.3"/><circle cx="527.9" cy="349.8" r="4.3"/><circle cx="526.7" cy="374.4" r="4.3"/><circle cx="547.6" cy="359.0" r="4.3"/><circle cx="536.7" cy="344.3" r="4.3"/><circle cx="547.0" cy="351.4" r="4.3"/><circle cx="541.6" cy="334.3" r="4.3"/><circle cx="530.2" cy="329.9" r="4.3"/><circle cx="544.0" cy="355.2" r="4.3"/><circle cx="528.1" cy="371.4" r="4.3"/><circle cx="531.5" cy="348.0" r="4.3"/><circle cx="528.4" cy="340.8" r="4.3"/><circle cx="547.5" cy="344.1" r="4.3"/><circle cx="528.7" cy="352.0" r="4.3"/><circle cx="532.9" cy="373.1" r="4.3"/><circle cx="527.2" cy="376.9" r="4.3"/><circle cx="525.6" cy="372.6" r="4.3"/><circle cx="542.7" cy="337.8" r="4.3"/><circle cx="537.4" cy="341.6" r="4.3"/><circle cx="531.2" cy="337.3" r="4.3"/><circle cx="534.2" cy="377.5" r="4.3"/><circle cx="526.7" cy="341.8" r="4.3"/><circle cx="544.3" cy="342.0" r="4.3"/><circle cx="546.6" cy="344.4" r="4.3"/><circle cx="547.3" cy="353.9" r="4.3"/><circle cx="529.2" cy="349.2" r="4.3"/><circle cx="549.5" cy="338.1" r="4.3"/><circle cx="540.0" cy="334.0" r="4.3"/><circle cx="529.0" cy="366.3" r="4.3"/><circle cx="543.9" cy="337.0" r="4.3"/><circle cx="541.0" cy="352.3" r="4.3"/><circle cx="531.7" cy="337.5" r="4.3"/><circle cx="541.1" cy="363.1" r="4.3"/><circle cx="546.7" cy="356.7" r="4.3"/><circle cx="529.7" cy="330.4" r="4.3"/><circle cx="544.5" cy="347.8" r="4.3"/><circle cx="544.2" cy="329.8" r="4.3"/><circle cx="546.7" cy="344.1" r="4.3"/><circle cx="547.6" cy="371.1" r="4.3"/><circle cx="537.8" cy="327.8" r="4.3"/><circle cx="549.5" cy="351.3" r="4.3"/><circle cx="548.4" cy="340.6" r="4.3"/><circle cx="529.2" cy="369.4" r="4.3"/><circle cx="534.3" cy="335.3" r="4.3"/><circle cx="534.4" cy="357.3" r="4.3"/><circle cx="524.1" cy="353.5" r="4.3"/><circle cx="536.5" cy="353.3" r="4.3"/><circle cx="527.4" cy="363.4" r="4.3"/><circle cx="546.9" cy="371.1" r="4.3"/><circle cx="533.0" cy="363.3" r="4.3"/><circle cx="534.7" cy="365.3" r="4.3"/><circle cx="525.7" cy="371.5" r="4.3"/><circle cx="550.7" cy="352.2" r="4.3"/><circle cx="538.4" cy="354.1" r="4.3"/><circle cx="539.0" cy="328.1" r="4.3"/><circle cx="529.1" cy="332.2" r="4.3"/><circle cx="531.0" cy="368.7" r="4.3"/><circle cx="543.6" cy="336.9" r="4.3"/><circle cx="524.5" cy="357.6" r="4.3"/><circle cx="540.1" cy="353.7" r="4.3"/><circle cx="543.7" cy="332.2" r="4.3"/><circle cx="548.3" cy="363.6" r="4.3"/><circle cx="525.3" cy="333.3" r="4.3"/><circle cx="537.8" cy="352.5" r="4.3"/><circle cx="531.8" cy="333.2" r="4.3"/><circle cx="535.4" cy="334.0" r="4.3"/><circle cx="540.6" cy="370.9" r="4.3"/><circle cx="528.1" cy="356.2" r="4.3"/><circle cx="544.9" cy="335.4" r="4.3"/><circle cx="547.1" cy="374.8" r="4.3"/><circle cx="534.9" cy="348.4" r="4.3"/><circle cx="547.5" cy="353.8" r="4.3"/><circle cx="535.1" cy="375.0" r="4.3"/><circle cx="545.8" cy="344.3" r="4.3"/><circle cx="530.7" cy="344.1" r="4.3"/><circle cx="536.2" cy="377.0" r="4.3"/><circle cx="546.5" cy="373.6" r="4.3"/><circle cx="546.8" cy="370.2" r="4.3"/><circle cx="525.5" cy="353.4" r="4.3"/><circle cx="550.8" cy="374.7" r="4.3"/><circle cx="531.0" cy="348.5" r="4.3"/><circle cx="541.7" cy="345.6" r="4.3"/><circle cx="538.9" cy="330.5" r="4.3"/><circle cx="536.1" cy="352.7" r="4.3"/><circle cx="524.6" cy="334.1" r="4.3"/><circle cx="551.2" cy="366.6" r="4.3"/><circle cx="550.2" cy="359.3" r="4.3"/><circle cx="546.7" cy="372.1" r="4.3"/><circle cx="542.0" cy="340.6" r="4.3"/><circle cx="543.0" cy="340.9" r="4.3"/><circle cx="539.2" cy="374.1" r="4.3"/><circle cx="541.4" cy="339.8" r="4.3"/><circle cx="538.6" cy="349.1" r="4.3"/><circle cx="550.6" cy="341.7" r="4.3"/><circle cx="532.6" cy="360.0" r="4.3"/><circle cx="527.4" cy="357.3" r="4.3"/><circle cx="550.8" cy="353.2" r="4.3"/><circle cx="531.5" cy="350.8" r="4.3"/><circle cx="538.9" cy="334.6" r="4.3"/><circle cx="527.5" cy="333.7" r="4.3"/><circle cx="532.2" cy="347.7" r="4.3"/><circle cx="532.1" cy="339.4" r="4.3"/><circle cx="526.5" cy="354.9" r="4.3"/><circle cx="547.5" cy="358.1" r="4.3"/><circle cx="540.0" cy="360.2" r="4.3"/><circle cx="529.6" cy="363.2" r="4.3"/><circle cx="536.9" cy="354.9" r="4.3"/><circle cx="541.2" cy="350.9" r="4.3"/><circle cx="532.7" cy="339.4" r="4.3"/><circle cx="530.2" cy="353.1" r="4.3"/><circle cx="534.7" cy="356.9" r="4.3"/><circle cx="524.3" cy="345.0" r="4.3"/><circle cx="548.1" cy="339.2" r="4.3"/><circle cx="539.6" cy="352.1" r="4.3"/><circle cx="532.0" cy="377.4" r="4.3"/><circle cx="532.3" cy="366.4" r="4.3"/><circle cx="548.4" cy="349.4" r="4.3"/><circle cx="525.7" cy="346.8" r="4.3"/><circle cx="536.3" cy="364.5" r="4.3"/><circle cx="527.1" cy="338.5" r="4.3"/><circle cx="550.9" cy="364.7" r="4.3"/><circle cx="528.3" cy="344.2" r="4.3"/><circle cx="533.9" cy="361.4" r="4.3"/><circle cx="541.3" cy="370.3" r="4.3"/><circle cx="547.0" cy="353.4" r="4.3"/><circle cx="544.7" cy="364.9" r="4.3"/><circle cx="545.3" cy="351.2" r="4.3"/><circle cx="546.0" cy="363.1" r="4.3"/><circle cx="549.6" cy="333.5" r="4.3"/><circle cx="545.4" cy="356.9" r="4.3"/><circle cx="537.9" cy="376.1" r="4.3"/><circle cx="540.0" cy="348.3" r="4.3"/><circle cx="545.9" cy="371.5" r="4.3"/><circle cx="541.0" cy="346.4" r="4.3"/><circle cx="536.7" cy="350.4" r="4.3"/><circle cx="544.2" cy="341.9" r="4.3"/><circle cx="534.9" cy="355.3" r="4.3"/><circle cx="534.8" cy="343.4" r="4.3"/><circle cx="546.0" cy="370.3" r="4.3"/><circle cx="538.0" cy="349.6" r="4.3"/><circle cx="529.2" cy="342.5" r="4.3"/><circle cx="528.1" cy="356.3" r="4.3"/><circle cx="540.3" cy="331.5" r="4.3"/><circle cx="549.8" cy="343.5" r="4.3"/><circle cx="547.6" cy="369.7" r="4.3"/><circle cx="550.8" cy="337.4" r="4.3"/><circle cx="535.9" cy="373.4" r="4.3"/><circle cx="549.1" cy="332.3" r="4.3"/><circle cx="556.9" cy="353.9" r="4.3"/><circle cx="561.9" cy="367.1" r="4.3"/><circle cx="556.5" cy="377.9" r="4.3"/><circle cx="556.2" cy="354.8" r="4.3"/><circle cx="558.6" cy="348.7" r="4.3"/><circle cx="554.0" cy="358.5" r="4.3"/><circle cx="553.9" cy="375.5" r="4.3"/><circle cx="558.5" cy="355.2" r="4.3"/><circle cx="550.4" cy="348.0" r="4.3"/><circle cx="554.6" cy="356.9" r="4.3"/><circle cx="557.0" cy="372.2" r="4.3"/><circle cx="555.2" cy="360.0" r="4.3"/><circle cx="556.4" cy="369.2" r="4.3"/><circle cx="551.4" cy="345.3" r="4.3"/><circle cx="556.2" cy="335.3" r="4.3"/><circle cx="561.5" cy="363.1" r="4.3"/><circle cx="560.5" cy="377.5" r="4.3"/><circle cx="551.2" cy="343.9" r="4.3"/><circle cx="556.2" cy="354.2" r="4.3"/><circle cx="551.6" cy="338.8" r="4.3"/><circle cx="557.8" cy="359.0" r="4.3"/><circle cx="553.9" cy="377.7" r="4.3"/><circle cx="554.8" cy="367.8" r="4.3"/><circle cx="553.3" cy="363.2" r="4.3"/><circle cx="549.1" cy="344.6" r="4.3"/><circle cx="560.8" cy="358.1" r="4.3"/><circle cx="558.4" cy="339.4" r="4.3"/><circle cx="556.0" cy="356.6" r="4.3"/><circle cx="552.7" cy="361.0" r="4.3"/><circle cx="556.4" cy="377.9" r="4.3"/><circle cx="557.0" cy="349.7" r="4.3"/><circle cx="550.7" cy="337.5" r="4.3"/><circle cx="550.4" cy="338.2" r="4.3"/><circle cx="556.3" cy="369.5" r="4.3"/><circle cx="557.6" cy="368.7" r="4.3"/><circle cx="549.9" cy="330.6" r="4.3"/><circle cx="559.8" cy="345.5" r="4.3"/><circle cx="559.0" cy="347.0" r="4.3"/><circle cx="551.4" cy="342.8" r="4.3"/><circle cx="502.0" cy="305.0" r="4.3"/><circle cx="505.0" cy="312.0" r="4.3"/><circle cx="507.0" cy="320.0" r="4.3"/><circle cx="503.0" cy="325.0" r="4.3"/><circle cx="506.0" cy="300.0" r="4.3"/><circle cx="526.0" cy="318.0" r="4.3"/><circle cx="533.0" cy="320.0" r="4.3"/><circle cx="541.0" cy="316.0" r="4.3"/><circle cx="548.0" cy="322.0" r="4.3"/><circle cx="556.0" cy="318.0" r="4.3"/><circle cx="561.0" cy="327.0" r="4.3"/><circle cx="566.0" cy="312.0" r="4.3"/><circle cx="536.0" cy="311.0" r="4.3"/><circle cx="545.0" cy="307.0" r="4.3"/><circle cx="553.0" cy="310.0" r="4.3"/><circle cx="529.0" cy="326.0" r="4.3"/><circle cx="471.4" cy="301.0" r="4.3"/><circle cx="478.2" cy="295.5" r="4.3"/><circle cx="476.3" cy="295.9" r="4.3"/><circle cx="470.8" cy="300.9" r="4.3"/><circle cx="478.2" cy="301.6" r="4.3"/><circle cx="476.2" cy="298.2" r="4.3"/><circle cx="473.5" cy="292.4" r="4.3"/><circle cx="483.0" cy="300.5" r="4.3"/></g></g><g stroke="#000" stroke-width="2.1" fill="none" stroke-linejoin="round"><rect x="134.6" y="42.7" width="757.9" height="378.4"/><line x1="510" y1="42.7" x2="510" y2="421.1"/><line x1="526" y1="42.7" x2="526" y2="421.1"/><line x1="134.6" y1="378.5" x2="892.5" y2="378.5"/><line x1="119.1" y1="407.1" x2="134.6" y2="407.1"/><line x1="892.5" y1="407.1" x2="908.0" y2="407.1"/><line x1="119.1" y1="298.2" x2="134.6" y2="298.2"/><line x1="892.5" y1="298.2" x2="908.0" y2="298.2"/><line x1="119.1" y1="189.3" x2="134.6" y2="189.3"/><line x1="892.5" y1="189.3" x2="908.0" y2="189.3"/><line x1="119.1" y1="80.4" x2="134.6" y2="80.4"/><line x1="892.5" y1="80.4" x2="908.0" y2="80.4"/><line x1="248.6" y1="421.1" x2="248.6" y2="437.1"/><line x1="383.2" y1="421.1" x2="383.2" y2="437.1"/><line x1="517.8" y1="421.1" x2="517.8" y2="437.1"/><line x1="652.4" y1="421.1" x2="652.4" y2="437.1"/><line x1="787.0" y1="421.1" x2="787.0" y2="437.1"/></g><text font-size="25" text-anchor="middle" transform="translate(102.6,407.1) rotate(-90)">0</text><text font-size="25" text-anchor="middle" transform="translate(947.6,407.1) rotate(-90)">0</text><text font-size="25" text-anchor="middle" transform="translate(102.6,298.2) rotate(-90)">5</text><text font-size="25" text-anchor="middle" transform="translate(947.6,298.2) rotate(-90)">5</text><text font-size="25" text-anchor="middle" transform="translate(102.6,189.3) rotate(-90)">10</text><text font-size="25" text-anchor="middle" transform="translate(947.6,189.3) rotate(-90)">10</text><text font-size="25" text-anchor="middle" transform="translate(102.6,80.4) rotate(-90)">15</text><text font-size="25" text-anchor="middle" transform="translate(947.6,80.4) rotate(-90)">15</text><text font-size="25" text-anchor="middle" x="248.6" y="476.8">-20</text><text font-size="25" text-anchor="middle" x="383.2" y="476.8">-10</text><text font-size="25" text-anchor="middle" x="517.8" y="476.8">0</text><text font-size="25" text-anchor="middle" x="652.4" y="476.8">10</text><text font-size="25" text-anchor="middle" x="787.0" y="476.8">20</text><text font-size="44" text-anchor="middle" x="516" y="526">log2(FC)</text><text font-size="44" text-anchor="middle" transform="translate(65.5,258) rotate(-90)">-log(p-value)</text><text font-size="51" x="23.5" y="36.8">(a)</text><text font-size="51" x="23.3" y="620.9">(b)</text><text font-size="44.6" text-anchor="middle" x="341.8" y="628.6">CTL</text><text font-size="44" text-anchor="middle" x="721.8" y="628.8">TNBC</text><g stroke="#000" stroke-width="3.4"><line x1="123" y1="644.2" x2="522" y2="644.2"/><line x1="527" y1="644.2" x2="918.5" y2="644.2"/></g><path fill="#2366aa" d="M348.24 934.92h12.92v8.58h-12.92zM490.40 1055.07h12.92v8.58h-12.92zM580.87 1072.24h12.92v8.58h-12.92z"/><path fill="#3a89c0" d="M516.25 1029.33h12.92v8.58h-12.92zM697.19 1029.33h12.92v8.58h-12.92zM891.05 1029.33h12.92v8.58h-12.92zM218.99 1063.65h12.92v8.58h-12.92zM852.28 1063.65h12.92v8.58h-12.92zM671.34 1158.06h12.92v8.58h-12.92zM348.24 1183.80h12.92v8.58h-12.92zM658.42 1183.80h12.92v8.58h-12.92zM128.52 1364.02h12.92v8.58h-12.92zM632.57 1364.02h12.92v8.58h-12.92z"/><path fill="#4b96c9" d="M115.60 900.60h12.92v8.58h-12.92zM503.33 900.60h12.92v8.58h-12.92zM865.20 900.60h12.92v8.58h-12.92zM115.60 917.76h12.92v8.58h-12.92zM193.15 917.76h12.92v8.58h-12.92zM309.46 917.76h12.92v8.58h-12.92zM761.81 943.51h12.92v8.58h-12.92zM800.58 943.51h12.92v8.58h-12.92zM761.81 952.09h12.92v8.58h-12.92zM632.57 986.42h12.92v8.58h-12.92zM322.39 1029.33h12.92v8.58h-12.92zM658.42 1149.47h12.92v8.58h-12.92zM748.89 1149.47h12.92v8.58h-12.92zM903.98 1149.47h12.92v8.58h-12.92z"/><path fill="#7db9dc" d="M348.24 900.60h12.92v8.58h-12.92zM348.24 917.76h38.77v8.58h-38.77zM399.93 917.76h51.70v8.58h-51.70zM477.48 917.76h12.92v8.58h-12.92zM503.33 917.76h12.92v8.58h-12.92zM464.55 934.92h12.92v8.58h-12.92zM555.02 943.51h25.85v8.58h-25.85zM606.72 943.51h12.92v8.58h-12.92zM555.02 952.09h38.77v8.58h-38.77zM632.57 952.09h12.92v8.58h-12.92zM516.25 960.67h12.92v8.58h-12.92zM555.02 960.67h12.92v8.58h-12.92zM606.72 960.67h38.77v8.58h-38.77zM516.25 969.25h12.92v8.58h-12.92zM542.10 969.25h38.77v8.58h-38.77zM593.80 969.25h12.92v8.58h-12.92zM619.64 969.25h12.92v8.58h-12.92zM516.25 977.83h12.92v8.58h-12.92zM542.10 977.83h25.85v8.58h-25.85zM593.80 977.83h12.92v8.58h-12.92zM619.64 977.83h25.85v8.58h-25.85zM516.25 986.42h12.92v8.58h-12.92zM542.10 986.42h12.92v8.58h-12.92zM567.95 986.42h12.92v8.58h-12.92zM619.64 986.42h12.92v8.58h-12.92zM542.10 995.00h25.85v8.58h-25.85zM632.57 995.00h12.92v8.58h-12.92zM632.57 1037.91h12.92v8.58h-12.92zM735.96 1046.49h12.92v8.58h-12.92zM606.72 1055.07h25.85v8.58h-25.85zM580.87 1080.82h12.92v8.58h-12.92zM671.34 1089.40h12.92v8.58h-12.92zM671.34 1097.98h12.92v8.58h-12.92zM671.34 1106.56h12.92v8.58h-12.92zM800.58 1123.73h12.92v8.58h-12.92zM852.28 1123.73h12.92v8.58h-12.92zM903.98 1123.73h12.92v8.58h-12.92zM671.34 1132.31h12.92v8.58h-12.92zM477.48 1140.89h12.92v8.58h-12.92zM555.02 1140.89h12.92v8.58h-12.92zM555.02 1175.22h12.92v8.58h-12.92zM580.87 1175.22h12.92v8.58h-12.92zM606.72 1175.22h12.92v8.58h-12.92zM723.04 1175.22h12.92v8.58h-12.92zM580.87 1200.97h12.92v8.58h-12.92zM606.72 1200.97h12.92v8.58h-12.92zM748.89 1200.97h12.92v8.58h-12.92zM787.66 1200.97h12.92v8.58h-12.92zM813.51 1200.97h12.92v8.58h-12.92zM606.72 1218.13h12.92v8.58h-12.92z"/><path fill="#acd5eb" d="M115.60 711.79h12.92v8.58h-12.92zM141.45 711.79h25.85v8.58h-25.85zM206.07 711.79h38.77v8.58h-38.77zM322.39 711.79h12.92v8.58h-12.92zM374.08 711.79h25.85v8.58h-25.85zM425.78 711.79h12.92v8.58h-12.92zM451.63 711.79h12.92v8.58h-12.92zM490.40 711.79h12.92v8.58h-12.92zM180.22 771.87h12.92v8.58h-12.92zM361.16 771.87h12.92v8.58h-12.92zM387.01 771.87h12.92v8.58h-12.92zM490.40 780.45h12.92v8.58h-12.92zM115.60 789.03h25.85v8.58h-25.85zM193.15 789.03h38.77v8.58h-38.77zM244.84 789.03h12.92v8.58h-12.92zM270.69 789.03h12.92v8.58h-12.92zM296.54 789.03h38.77v8.58h-38.77zM348.24 789.03h51.70v8.58h-51.70zM412.86 789.03h25.85v8.58h-25.85zM451.63 789.03h12.92v8.58h-12.92zM477.48 789.03h12.92v8.58h-12.92zM503.33 789.03h12.92v8.58h-12.92zM128.52 797.61h12.92v8.58h-12.92zM167.30 797.61h77.55v8.58h-77.55zM270.69 797.61h12.92v8.58h-12.92zM296.54 797.61h38.77v8.58h-38.77zM348.24 797.61h51.70v8.58h-51.70zM412.86 797.61h25.85v8.58h-25.85zM451.63 797.61h12.92v8.58h-12.92zM477.48 797.61h12.92v8.58h-12.92zM503.33 797.61h12.92v8.58h-12.92zM128.52 806.19h12.92v8.58h-12.92zM167.30 806.19h51.70v8.58h-51.70zM231.92 806.19h12.92v8.58h-12.92zM270.69 806.19h64.62v8.58h-64.62zM348.24 806.19h90.47v8.58h-90.47zM451.63 806.19h12.92v8.58h-12.92zM477.48 806.19h12.92v8.58h-12.92zM503.33 806.19h12.92v8.58h-12.92zM128.52 814.78h12.92v8.58h-12.92zM167.30 814.78h168.01v8.58h-168.01zM348.24 814.78h25.85v8.58h-25.85zM387.01 814.78h51.70v8.58h-51.70zM451.63 814.78h12.92v8.58h-12.92zM477.48 814.78h12.92v8.58h-12.92zM503.33 814.78h12.92v8.58h-12.92zM231.92 857.69h12.92v8.58h-12.92zM270.69 857.69h12.92v8.58h-12.92zM115.60 892.01h51.70v8.58h-51.70zM193.15 892.01h25.85v8.58h-25.85zM231.92 892.01h12.92v8.58h-12.92zM296.54 892.01h38.77v8.58h-38.77zM348.24 892.01h12.92v8.58h-12.92zM412.86 892.01h25.85v8.58h-25.85zM891.05 892.01h12.92v8.58h-12.92zM206.07 900.60h12.92v8.58h-12.92zM438.70 900.60h12.92v8.58h-12.92zM477.48 900.60h12.92v8.58h-12.92zM335.31 909.18h25.85v8.58h-25.85zM374.08 909.18h12.92v8.58h-12.92zM399.93 909.18h25.85v8.58h-25.85zM438.70 909.18h12.92v8.58h-12.92zM464.55 909.18h51.70v8.58h-51.70zM891.05 909.18h12.92v8.58h-12.92zM348.24 926.34h25.85v8.58h-25.85zM387.01 926.34h38.77v8.58h-38.77zM464.55 926.34h51.70v8.58h-51.70zM141.45 934.92h12.92v8.58h-12.92zM218.99 934.92h12.92v8.58h-12.92zM477.48 934.92h12.92v8.58h-12.92zM529.17 943.51h25.85v8.58h-25.85zM580.87 943.51h25.85v8.58h-25.85zM632.57 943.51h25.85v8.58h-25.85zM903.98 943.51h12.92v8.58h-12.92zM593.80 952.09h38.77v8.58h-38.77zM529.17 960.67h25.85v8.58h-25.85zM580.87 960.67h25.85v8.58h-25.85zM671.34 960.67h25.85v8.58h-25.85zM529.17 969.25h12.92v8.58h-12.92zM671.34 969.25h12.92v8.58h-12.92zM761.81 969.25h25.85v8.58h-25.85zM903.98 969.25h12.92v8.58h-12.92zM567.95 977.83h12.92v8.58h-12.92zM606.72 977.83h12.92v8.58h-12.92zM658.42 977.83h25.85v8.58h-25.85zM723.04 977.83h12.92v8.58h-12.92zM761.81 977.83h12.92v8.58h-12.92zM555.02 986.42h12.92v8.58h-12.92zM645.49 986.42h12.92v8.58h-12.92zM671.34 986.42h12.92v8.58h-12.92zM761.81 986.42h12.92v8.58h-12.92zM516.25 995.00h12.92v8.58h-12.92zM567.95 995.00h38.77v8.58h-38.77zM645.49 995.00h12.92v8.58h-12.92zM671.34 995.00h12.92v8.58h-12.92zM723.04 995.00h12.92v8.58h-12.92zM542.10 1003.58h12.92v8.58h-12.92zM632.57 1003.58h12.92v8.58h-12.92zM671.34 1003.58h12.92v8.58h-12.92zM787.66 1003.58h12.92v8.58h-12.92zM542.10 1012.16h25.85v8.58h-25.85zM761.81 1012.16h12.92v8.58h-12.92zM813.51 1012.16h12.92v8.58h-12.92zM903.98 1012.16h12.92v8.58h-12.92zM542.10 1020.74h25.85v8.58h-25.85zM619.64 1020.74h12.92v8.58h-12.92zM903.98 1020.74h12.92v8.58h-12.92zM231.92 1037.91h12.92v8.58h-12.92zM335.31 1037.91h12.92v8.58h-12.92zM516.25 1037.91h25.85v8.58h-25.85zM580.87 1037.91h12.92v8.58h-12.92zM735.96 1037.91h12.92v8.58h-12.92zM335.31 1046.49h12.92v8.58h-12.92zM542.10 1046.49h12.92v8.58h-12.92zM748.89 1046.49h12.92v8.58h-12.92zM826.43 1046.49h12.92v8.58h-12.92zM555.02 1055.07h12.92v8.58h-12.92zM903.98 1055.07h12.92v8.58h-12.92zM516.25 1063.65h12.92v8.58h-12.92zM555.02 1063.65h12.92v8.58h-12.92zM658.42 1063.65h12.92v8.58h-12.92zM671.34 1072.24h12.92v8.58h-12.92zM761.81 1072.24h25.85v8.58h-25.85zM206.07 1080.82h12.92v8.58h-12.92zM671.34 1080.82h12.92v8.58h-12.92zM761.81 1080.82h12.92v8.58h-12.92zM787.66 1080.82h12.92v8.58h-12.92zM891.05 1080.82h12.92v8.58h-12.92zM206.07 1089.40h12.92v8.58h-12.92zM580.87 1089.40h12.92v8.58h-12.92zM632.57 1089.40h12.92v8.58h-12.92zM761.81 1089.40h12.92v8.58h-12.92zM787.66 1089.40h12.92v8.58h-12.92zM891.05 1089.40h12.92v8.58h-12.92zM206.07 1097.98h12.92v8.58h-12.92zM580.87 1097.98h12.92v8.58h-12.92zM632.57 1097.98h12.92v8.58h-12.92zM761.81 1097.98h25.85v8.58h-25.85zM800.58 1097.98h12.92v8.58h-12.92zM580.87 1106.56h12.92v8.58h-12.92zM761.81 1106.56h12.92v8.58h-12.92zM891.05 1106.56h12.92v8.58h-12.92zM296.54 1115.15h12.92v8.58h-12.92zM412.86 1115.15h12.92v8.58h-12.92zM632.57 1115.15h25.85v8.58h-25.85zM723.04 1115.15h12.92v8.58h-12.92zM813.51 1115.15h12.92v8.58h-12.92zM865.20 1115.15h12.92v8.58h-12.92zM632.57 1132.31h12.92v8.58h-12.92zM774.73 1132.31h12.92v8.58h-12.92zM671.34 1149.47h12.92v8.58h-12.92zM580.87 1158.06h12.92v8.58h-12.92zM903.98 1158.06h12.92v8.58h-12.92zM606.72 1166.64h12.92v8.58h-12.92zM632.57 1166.64h103.39v8.58h-103.39zM748.89 1166.64h12.92v8.58h-12.92zM839.35 1166.64h12.92v8.58h-12.92zM865.20 1166.64h51.70v8.58h-51.70zM309.46 1175.22h12.92v8.58h-12.92zM348.24 1175.22h12.92v8.58h-12.92zM619.64 1175.22h25.85v8.58h-25.85zM903.98 1175.22h12.92v8.58h-12.92zM542.10 1183.80h12.92v8.58h-12.92zM800.58 1183.80h12.92v8.58h-12.92zM412.86 1200.97h12.92v8.58h-12.92zM451.63 1200.97h12.92v8.58h-12.92zM645.49 1200.97h25.85v8.58h-25.85zM684.26 1200.97h12.92v8.58h-12.92zM826.43 1200.97h25.85v8.58h-25.85zM878.13 1200.97h38.77v8.58h-38.77zM283.61 1218.13h12.92v8.58h-12.92zM438.70 1218.13h12.92v8.58h-12.92zM516.25 1218.13h12.92v8.58h-12.92zM567.95 1218.13h12.92v8.58h-12.92zM632.57 1218.13h25.85v8.58h-25.85zM671.34 1218.13h25.85v8.58h-25.85zM761.81 1218.13h12.92v8.58h-12.92zM516.25 1303.95h245.56v8.58h-245.56zM891.05 1303.95h12.92v8.58h-12.92zM516.25 1312.53h245.56v8.58h-245.56zM891.05 1312.53h12.92v8.58h-12.92zM516.25 1321.11h245.56v8.58h-245.56zM891.05 1321.11h25.85v8.58h-25.85zM516.25 1338.28h90.47v8.58h-90.47zM619.64 1338.28h142.17v8.58h-142.17zM891.05 1338.28h12.92v8.58h-12.92zM516.25 1346.86h12.92v8.58h-12.92zM555.02 1346.86h90.47v8.58h-90.47zM658.42 1346.86h116.32v8.58h-116.32zM839.35 1346.86h12.92v8.58h-12.92zM891.05 1346.86h12.92v8.58h-12.92zM516.25 1355.44h25.85v8.58h-25.85zM555.02 1355.44h155.09v8.58h-155.09zM723.04 1355.44h38.77v8.58h-38.77zM813.51 1355.44h12.92v8.58h-12.92zM891.05 1355.44h12.92v8.58h-12.92zM542.10 1364.02h25.85v8.58h-25.85zM593.80 1364.02h25.85v8.58h-25.85zM839.35 1372.61h12.92v8.58h-12.92zM516.25 1381.19h245.56v8.58h-245.56zM891.05 1381.19h12.92v8.58h-12.92zM516.25 1389.77h245.56v8.58h-245.56zM891.05 1389.77h12.92v8.58h-12.92zM516.25 1398.35h245.56v8.58h-245.56zM891.05 1398.35h12.92v8.58h-12.92zM516.25 1406.93h245.56v8.58h-245.56zM891.05 1406.93h12.92v8.58h-12.92zM516.25 1415.52h245.56v8.58h-245.56zM891.05 1415.52h12.92v8.58h-12.92zM826.43 1424.10h12.92v8.58h-12.92zM891.05 1424.10h12.92v8.58h-12.92zM412.86 1432.68h12.92v8.58h-12.92zM399.93 1441.26h12.92v8.58h-12.92zM516.25 1441.26h258.48v8.58h-258.48zM891.05 1441.26h12.92v8.58h-12.92zM438.70 1458.43h12.92v8.58h-12.92zM516.25 1458.43h245.56v8.58h-245.56zM891.05 1458.43h12.92v8.58h-12.92zM348.24 1484.17h12.92v8.58h-12.92zM516.25 1484.17h245.56v8.58h-245.56zM891.05 1484.17h12.92v8.58h-12.92zM348.24 1492.75h12.92v8.58h-12.92zM438.70 1492.75h12.92v8.58h-12.92zM516.25 1492.75h245.56v8.58h-245.56zM891.05 1492.75h12.92v8.58h-12.92zM348.24 1501.34h12.92v8.58h-12.92zM516.25 1501.34h245.56v8.58h-245.56zM839.35 1501.34h12.92v8.58h-12.92zM891.05 1501.34h12.92v8.58h-12.92zM348.24 1509.92h12.92v8.58h-12.92zM516.25 1509.92h245.56v8.58h-245.56zM813.51 1509.92h12.92v8.58h-12.92zM891.05 1509.92h12.92v8.58h-12.92z"/><path fill="#c4e2f2" d="M115.60 660.30h400.65v8.58h-400.65zM115.60 668.88h103.39v8.58h-103.39zM231.92 668.88h284.33v8.58h-284.33zM115.60 677.46h400.65v8.58h-400.65zM115.60 686.05h400.65v8.58h-400.65zM115.60 694.63h400.65v8.58h-400.65zM115.60 703.21h400.65v8.58h-400.65zM257.77 711.79h12.92v8.58h-12.92zM283.61 711.79h12.92v8.58h-12.92zM115.60 720.37h219.71v8.58h-219.71zM348.24 720.37h168.01v8.58h-168.01zM115.60 728.96h400.65v8.58h-400.65zM115.60 737.54h219.71v8.58h-219.71zM348.24 737.54h168.01v8.58h-168.01zM115.60 746.12h168.01v8.58h-168.01zM296.54 746.12h38.77v8.58h-38.77zM348.24 746.12h168.01v8.58h-168.01zM115.60 754.70h400.65v8.58h-400.65zM115.60 763.28h400.65v8.58h-400.65zM115.60 771.87h25.85v8.58h-25.85zM167.30 771.87h12.92v8.58h-12.92zM193.15 771.87h142.17v8.58h-142.17zM348.24 771.87h12.92v8.58h-12.92zM374.08 771.87h12.92v8.58h-12.92zM399.93 771.87h38.77v8.58h-38.77zM451.63 771.87h12.92v8.58h-12.92zM477.48 771.87h12.92v8.58h-12.92zM503.33 771.87h12.92v8.58h-12.92zM852.28 771.87h12.92v8.58h-12.92zM115.60 780.45h38.77v8.58h-38.77zM167.30 780.45h168.01v8.58h-168.01zM348.24 780.45h90.47v8.58h-90.47zM451.63 780.45h12.92v8.58h-12.92zM477.48 780.45h12.92v8.58h-12.92zM503.33 780.45h12.92v8.58h-12.92zM878.13 780.45h12.92v8.58h-12.92zM167.30 789.03h12.92v8.58h-12.92zM231.92 789.03h12.92v8.58h-12.92zM399.93 789.03h12.92v8.58h-12.92zM115.60 797.61h12.92v8.58h-12.92zM244.84 797.61h25.85v8.58h-25.85zM283.61 797.61h12.92v8.58h-12.92zM399.93 797.61h12.92v8.58h-12.92zM115.60 806.19h12.92v8.58h-12.92zM218.99 806.19h12.92v8.58h-12.92zM244.84 806.19h25.85v8.58h-25.85zM115.60 814.78h12.92v8.58h-12.92zM374.08 814.78h12.92v8.58h-12.92zM115.60 823.36h25.85v8.58h-25.85zM180.22 823.36h12.92v8.58h-12.92zM115.60 840.52h12.92v8.58h-12.92zM141.45 840.52h38.77v8.58h-38.77zM193.15 840.52h12.92v8.58h-12.92zM218.99 840.52h77.55v8.58h-77.55zM309.46 840.52h38.77v8.58h-38.77zM361.16 840.52h64.62v8.58h-64.62zM451.63 840.52h12.92v8.58h-12.92zM477.48 840.52h12.92v8.58h-12.92zM787.66 840.52h12.92v8.58h-12.92zM852.28 840.52h12.92v8.58h-12.92zM878.13 840.52h12.92v8.58h-12.92zM128.52 857.69h51.70v8.58h-51.70zM193.15 857.69h38.77v8.58h-38.77zM244.84 857.69h25.85v8.58h-25.85zM283.61 857.69h12.92v8.58h-12.92zM309.46 857.69h12.92v8.58h-12.92zM348.24 857.69h25.85v8.58h-25.85zM387.01 857.69h12.92v8.58h-12.92zM438.70 857.69h25.85v8.58h-25.85zM490.40 857.69h25.85v8.58h-25.85zM115.60 866.27h206.79v8.58h-206.79zM335.31 866.27h129.24v8.58h-129.24zM477.48 866.27h38.77v8.58h-38.77zM128.52 874.85h51.70v8.58h-51.70zM193.15 874.85h25.85v8.58h-25.85zM231.92 874.85h64.62v8.58h-64.62zM309.46 874.85h12.92v8.58h-12.92zM348.24 874.85h51.70v8.58h-51.70zM438.70 874.85h25.85v8.58h-25.85zM503.33 874.85h12.92v8.58h-12.92zM322.39 883.43h12.92v8.58h-12.92zM361.16 883.43h25.85v8.58h-25.85zM412.86 883.43h25.85v8.58h-25.85zM464.55 883.43h12.92v8.58h-12.92zM167.30 892.01h12.92v8.58h-12.92zM141.45 900.60h12.92v8.58h-12.92zM180.22 900.60h12.92v8.58h-12.92zM218.99 900.60h12.92v8.58h-12.92zM374.08 900.60h12.92v8.58h-12.92zM115.60 909.18h25.85v8.58h-25.85zM154.37 909.18h12.92v8.58h-12.92zM180.22 909.18h12.92v8.58h-12.92zM206.07 909.18h38.77v8.58h-38.77zM296.54 909.18h25.85v8.58h-25.85zM115.60 926.34h38.77v8.58h-38.77zM167.30 926.34h25.85v8.58h-25.85zM218.99 926.34h12.92v8.58h-12.92zM244.84 926.34h25.85v8.58h-25.85zM283.61 926.34h38.77v8.58h-38.77zM115.60 934.92h25.85v8.58h-25.85zM296.54 934.92h12.92v8.58h-12.92zM412.86 934.92h12.92v8.58h-12.92zM490.40 934.92h25.85v8.58h-25.85zM748.89 943.51h12.92v8.58h-12.92zM787.66 943.51h12.92v8.58h-12.92zM891.05 943.51h12.92v8.58h-12.92zM800.58 952.09h12.92v8.58h-12.92zM903.98 952.09h12.92v8.58h-12.92zM218.99 960.67h12.92v8.58h-12.92zM296.54 960.67h12.92v8.58h-12.92zM748.89 960.67h12.92v8.58h-12.92zM903.98 960.67h12.92v8.58h-12.92zM218.99 969.25h12.92v8.58h-12.92zM296.54 969.25h12.92v8.58h-12.92zM800.58 969.25h12.92v8.58h-12.92zM735.96 977.83h25.85v8.58h-25.85zM774.73 977.83h12.92v8.58h-12.92zM800.58 977.83h12.92v8.58h-12.92zM891.05 977.83h12.92v8.58h-12.92zM748.89 986.42h12.92v8.58h-12.92zM774.73 986.42h12.92v8.58h-12.92zM800.58 986.42h25.85v8.58h-25.85zM891.05 986.42h25.85v8.58h-25.85zM735.96 995.00h12.92v8.58h-12.92zM761.81 995.00h25.85v8.58h-25.85zM529.17 1003.58h12.92v8.58h-12.92zM555.02 1003.58h12.92v8.58h-12.92zM580.87 1003.58h25.85v8.58h-25.85zM619.64 1003.58h12.92v8.58h-12.92zM684.26 1003.58h12.92v8.58h-12.92zM761.81 1003.58h12.92v8.58h-12.92zM813.51 1003.58h12.92v8.58h-12.92zM903.98 1003.58h12.92v8.58h-12.92zM516.25 1012.16h25.85v8.58h-25.85zM567.95 1012.16h25.85v8.58h-25.85zM606.72 1012.16h38.77v8.58h-38.77zM671.34 1012.16h12.92v8.58h-12.92zM283.61 1020.74h12.92v8.58h-12.92zM529.17 1020.74h12.92v8.58h-12.92zM567.95 1020.74h12.92v8.58h-12.92zM593.80 1020.74h12.92v8.58h-12.92zM632.57 1020.74h25.85v8.58h-25.85zM761.81 1020.74h38.77v8.58h-38.77zM813.51 1020.74h12.92v8.58h-12.92zM671.34 1029.33h12.92v8.58h-12.92zM761.81 1029.33h12.92v8.58h-12.92zM813.51 1029.33h12.92v8.58h-12.92zM555.02 1037.91h25.85v8.58h-25.85zM619.64 1037.91h12.92v8.58h-12.92zM671.34 1037.91h12.92v8.58h-12.92zM903.98 1037.91h12.92v8.58h-12.92zM555.02 1046.49h12.92v8.58h-12.92zM516.25 1055.07h12.92v8.58h-12.92zM542.10 1055.07h12.92v8.58h-12.92zM567.95 1055.07h12.92v8.58h-12.92zM593.80 1055.07h12.92v8.58h-12.92zM632.57 1055.07h12.92v8.58h-12.92zM697.19 1055.07h12.92v8.58h-12.92zM723.04 1055.07h12.92v8.58h-12.92zM399.93 1063.65h12.92v8.58h-12.92zM490.40 1063.65h25.85v8.58h-25.85zM542.10 1063.65h12.92v8.58h-12.92zM580.87 1063.65h12.92v8.58h-12.92zM748.89 1063.65h12.92v8.58h-12.92zM206.07 1072.24h12.92v8.58h-12.92zM529.17 1072.24h12.92v8.58h-12.92zM606.72 1072.24h12.92v8.58h-12.92zM632.57 1072.24h12.92v8.58h-12.92zM710.11 1072.24h12.92v8.58h-12.92zM891.05 1072.24h25.85v8.58h-25.85zM542.10 1080.82h12.92v8.58h-12.92zM567.95 1080.82h12.92v8.58h-12.92zM632.57 1080.82h12.92v8.58h-12.92zM697.19 1080.82h12.92v8.58h-12.92zM852.28 1080.82h12.92v8.58h-12.92zM903.98 1080.82h12.92v8.58h-12.92zM348.24 1089.40h25.85v8.58h-25.85zM542.10 1089.40h12.92v8.58h-12.92zM593.80 1089.40h12.92v8.58h-12.92zM619.64 1089.40h12.92v8.58h-12.92zM684.26 1089.40h25.85v8.58h-25.85zM774.73 1089.40h12.92v8.58h-12.92zM542.10 1097.98h12.92v8.58h-12.92zM593.80 1097.98h12.92v8.58h-12.92zM748.89 1097.98h12.92v8.58h-12.92zM787.66 1097.98h12.92v8.58h-12.92zM852.28 1097.98h12.92v8.58h-12.92zM891.05 1097.98h25.85v8.58h-25.85zM206.07 1106.56h12.92v8.58h-12.92zM309.46 1106.56h12.92v8.58h-12.92zM348.24 1106.56h25.85v8.58h-25.85zM529.17 1106.56h12.92v8.58h-12.92zM567.95 1106.56h12.92v8.58h-12.92zM619.64 1106.56h25.85v8.58h-25.85zM787.66 1106.56h12.92v8.58h-12.92zM852.28 1106.56h12.92v8.58h-12.92zM903.98 1106.56h12.92v8.58h-12.92zM555.02 1115.15h12.92v8.58h-12.92zM671.34 1115.15h12.92v8.58h-12.92zM891.05 1115.15h12.92v8.58h-12.92zM580.87 1123.73h12.92v8.58h-12.92zM671.34 1123.73h12.92v8.58h-12.92zM710.11 1123.73h12.92v8.58h-12.92zM748.89 1123.73h12.92v8.58h-12.92zM774.73 1123.73h25.85v8.58h-25.85zM891.05 1123.73h12.92v8.58h-12.92zM206.07 1132.31h12.92v8.58h-12.92zM231.92 1132.31h12.92v8.58h-12.92zM309.46 1132.31h12.92v8.58h-12.92zM529.17 1132.31h25.85v8.58h-25.85zM580.87 1132.31h25.85v8.58h-25.85zM619.64 1132.31h12.92v8.58h-12.92zM658.42 1132.31h12.92v8.58h-12.92zM748.89 1132.31h25.85v8.58h-25.85zM787.66 1132.31h12.92v8.58h-12.92zM852.28 1132.31h12.92v8.58h-12.92zM903.98 1132.31h12.92v8.58h-12.92zM529.17 1140.89h12.92v8.58h-12.92zM580.87 1140.89h25.85v8.58h-25.85zM632.57 1140.89h64.62v8.58h-64.62zM748.89 1140.89h12.92v8.58h-12.92zM787.66 1140.89h12.92v8.58h-12.92zM826.43 1140.89h25.85v8.58h-25.85zM891.05 1140.89h25.85v8.58h-25.85zM580.87 1149.47h12.92v8.58h-12.92zM632.57 1149.47h12.92v8.58h-12.92zM787.66 1149.47h12.92v8.58h-12.92zM839.35 1149.47h12.92v8.58h-12.92zM891.05 1149.47h12.92v8.58h-12.92zM529.17 1158.06h25.85v8.58h-25.85zM593.80 1158.06h12.92v8.58h-12.92zM632.57 1158.06h25.85v8.58h-25.85zM684.26 1158.06h25.85v8.58h-25.85zM748.89 1158.06h12.92v8.58h-12.92zM787.66 1158.06h12.92v8.58h-12.92zM813.51 1158.06h25.85v8.58h-25.85zM852.28 1158.06h12.92v8.58h-12.92zM878.13 1158.06h25.85v8.58h-25.85zM167.30 1166.64h12.92v8.58h-12.92zM257.77 1166.64h12.92v8.58h-12.92zM309.46 1166.64h12.92v8.58h-12.92zM348.24 1166.64h12.92v8.58h-12.92zM542.10 1166.64h25.85v8.58h-25.85zM580.87 1166.64h12.92v8.58h-12.92zM516.25 1175.22h12.92v8.58h-12.92zM567.95 1175.22h12.92v8.58h-12.92zM658.42 1175.22h51.70v8.58h-51.70zM852.28 1175.22h12.92v8.58h-12.92zM891.05 1175.22h12.92v8.58h-12.92zM516.25 1183.80h12.92v8.58h-12.92zM555.02 1183.80h12.92v8.58h-12.92zM619.64 1183.80h12.92v8.58h-12.92zM761.81 1183.80h12.92v8.58h-12.92zM865.20 1183.80h12.92v8.58h-12.92zM218.99 1209.55h25.85v8.58h-25.85zM270.69 1209.55h12.92v8.58h-12.92zM412.86 1209.55h38.77v8.58h-38.77zM477.48 1209.55h12.92v8.58h-12.92zM516.25 1209.55h38.77v8.58h-38.77zM580.87 1209.55h142.17v8.58h-142.17zM735.96 1209.55h12.92v8.58h-12.92zM761.81 1209.55h12.92v8.58h-12.92zM800.58 1209.55h51.70v8.58h-51.70zM865.20 1209.55h51.70v8.58h-51.70zM619.64 1218.13h12.92v8.58h-12.92zM697.19 1218.13h12.92v8.58h-12.92zM826.43 1218.13h25.85v8.58h-25.85zM865.20 1218.13h12.92v8.58h-12.92zM154.37 1226.71h12.92v8.58h-12.92zM193.15 1226.71h12.92v8.58h-12.92zM218.99 1226.71h12.92v8.58h-12.92zM322.39 1226.71h12.92v8.58h-12.92zM374.08 1226.71h12.92v8.58h-12.92zM438.70 1226.71h25.85v8.58h-25.85zM542.10 1226.71h142.17v8.58h-142.17zM710.11 1226.71h12.92v8.58h-12.92zM735.96 1226.71h38.77v8.58h-38.77zM787.66 1226.71h64.62v8.58h-64.62zM865.20 1226.71h51.70v8.58h-51.70zM141.45 1235.29h12.92v8.58h-12.92zM193.15 1235.29h12.92v8.58h-12.92zM296.54 1235.29h12.92v8.58h-12.92zM374.08 1235.29h12.92v8.58h-12.92zM477.48 1235.29h12.92v8.58h-12.92zM516.25 1235.29h206.79v8.58h-206.79zM800.58 1235.29h25.85v8.58h-25.85zM852.28 1235.29h12.92v8.58h-12.92zM878.13 1235.29h38.77v8.58h-38.77zM141.45 1243.88h12.92v8.58h-12.92zM361.16 1243.88h12.92v8.58h-12.92zM516.25 1243.88h245.56v8.58h-245.56zM826.43 1243.88h12.92v8.58h-12.92zM852.28 1243.88h12.92v8.58h-12.92zM891.05 1243.88h12.92v8.58h-12.92zM206.07 1252.46h12.92v8.58h-12.92zM335.31 1252.46h12.92v8.58h-12.92zM826.43 1252.46h38.77v8.58h-38.77zM891.05 1252.46h12.92v8.58h-12.92zM128.52 1261.04h12.92v8.58h-12.92zM206.07 1269.62h25.85v8.58h-25.85zM361.16 1269.62h12.92v8.58h-12.92zM516.25 1269.62h245.56v8.58h-245.56zM774.73 1269.62h12.92v8.58h-12.92zM800.58 1269.62h12.92v8.58h-12.92zM826.43 1269.62h12.92v8.58h-12.92zM878.13 1269.62h25.85v8.58h-25.85zM128.52 1278.20h12.92v8.58h-12.92zM154.37 1278.20h25.85v8.58h-25.85zM231.92 1278.20h12.92v8.58h-12.92zM270.69 1278.20h12.92v8.58h-12.92zM387.01 1278.20h12.92v8.58h-12.92zM516.25 1278.20h12.92v8.58h-12.92zM542.10 1278.20h12.92v8.58h-12.92zM567.95 1278.20h25.85v8.58h-25.85zM606.72 1278.20h12.92v8.58h-12.92zM632.57 1278.20h77.55v8.58h-77.55zM723.04 1278.20h77.55v8.58h-77.55zM826.43 1278.20h12.92v8.58h-12.92zM852.28 1278.20h64.62v8.58h-64.62zM270.69 1286.79h12.92v8.58h-12.92zM412.86 1286.79h25.85v8.58h-25.85zM516.25 1286.79h245.56v8.58h-245.56zM774.73 1286.79h12.92v8.58h-12.92zM826.43 1286.79h38.77v8.58h-38.77zM878.13 1286.79h25.85v8.58h-25.85zM167.30 1295.37h12.92v8.58h-12.92zM206.07 1295.37h12.92v8.58h-12.92zM231.92 1295.37h12.92v8.58h-12.92zM270.69 1295.37h12.92v8.58h-12.92zM425.78 1295.37h12.92v8.58h-12.92zM451.63 1295.37h12.92v8.58h-12.92zM516.25 1295.37h245.56v8.58h-245.56zM800.58 1295.37h12.92v8.58h-12.92zM891.05 1295.37h25.85v8.58h-25.85zM231.92 1303.95h12.92v8.58h-12.92zM206.07 1312.53h12.92v8.58h-12.92zM231.92 1312.53h12.92v8.58h-12.92zM464.55 1312.53h25.85v8.58h-25.85zM180.22 1321.11h12.92v8.58h-12.92zM309.46 1321.11h12.92v8.58h-12.92zM425.78 1321.11h12.92v8.58h-12.92zM231.92 1329.70h12.92v8.58h-12.92zM425.78 1329.70h12.92v8.58h-12.92zM826.43 1329.70h12.92v8.58h-12.92zM891.05 1329.70h12.92v8.58h-12.92zM154.37 1338.28h12.92v8.58h-12.92zM231.92 1338.28h12.92v8.58h-12.92zM309.46 1338.28h12.92v8.58h-12.92zM348.24 1338.28h12.92v8.58h-12.92zM180.22 1346.86h25.85v8.58h-25.85zM387.01 1346.86h12.92v8.58h-12.92zM477.48 1346.86h12.92v8.58h-12.92zM128.52 1355.44h12.92v8.58h-12.92zM412.86 1355.44h25.85v8.58h-25.85zM671.34 1364.02h12.92v8.58h-12.92zM761.81 1364.02h12.92v8.58h-12.92zM891.05 1364.02h12.92v8.58h-12.92zM154.37 1372.61h12.92v8.58h-12.92zM296.54 1372.61h12.92v8.58h-12.92zM438.70 1372.61h12.92v8.58h-12.92zM490.40 1372.61h12.92v8.58h-12.92zM516.25 1372.61h245.56v8.58h-245.56zM891.05 1372.61h12.92v8.58h-12.92zM115.60 1381.19h12.92v8.58h-12.92zM813.51 1381.19h12.92v8.58h-12.92zM516.25 1424.10h245.56v8.58h-245.56zM128.52 1432.68h12.92v8.58h-12.92zM180.22 1432.68h12.92v8.58h-12.92zM283.61 1432.68h12.92v8.58h-12.92zM516.25 1432.68h245.56v8.58h-245.56zM891.05 1432.68h12.92v8.58h-12.92zM361.16 1449.84h25.85v8.58h-25.85zM516.25 1449.84h245.56v8.58h-245.56zM891.05 1449.84h12.92v8.58h-12.92zM128.52 1467.01h12.92v8.58h-12.92zM180.22 1467.01h12.92v8.58h-12.92zM516.25 1467.01h245.56v8.58h-245.56zM891.05 1467.01h12.92v8.58h-12.92zM348.24 1475.59h25.85v8.58h-25.85zM516.25 1475.59h245.56v8.58h-245.56zM891.05 1475.59h12.92v8.58h-12.92zM154.37 1484.17h25.85v8.58h-25.85zM322.39 1492.75h12.92v8.58h-12.92zM154.37 1501.34h12.92v8.58h-12.92zM154.37 1509.92h12.92v8.58h-12.92zM335.31 1509.92h12.92v8.58h-12.92z"/><path fill="#d0e7f3" d="M542.10 660.30h12.92v8.58h-12.92zM580.87 660.30h12.92v8.58h-12.92zM774.73 660.30h12.92v8.58h-12.92zM542.10 668.88h12.92v8.58h-12.92zM580.87 668.88h12.92v8.58h-12.92zM645.49 668.88h12.92v8.58h-12.92zM542.10 677.46h12.92v8.58h-12.92zM580.87 677.46h12.92v8.58h-12.92zM645.49 677.46h12.92v8.58h-12.92zM787.66 686.05h12.92v8.58h-12.92zM813.51 686.05h12.92v8.58h-12.92zM774.73 694.63h25.85v8.58h-25.85zM878.13 694.63h12.92v8.58h-12.92zM684.26 703.21h12.92v8.58h-12.92zM774.73 703.21h38.77v8.58h-38.77zM128.52 711.79h12.92v8.58h-12.92zM167.30 711.79h25.85v8.58h-25.85zM244.84 711.79h12.92v8.58h-12.92zM270.69 711.79h12.92v8.58h-12.92zM348.24 711.79h25.85v8.58h-25.85zM542.10 711.79h12.92v8.58h-12.92zM800.58 711.79h12.92v8.58h-12.92zM335.31 720.37h12.92v8.58h-12.92zM761.81 720.37h25.85v8.58h-25.85zM516.25 728.96h12.92v8.58h-12.92zM567.95 728.96h12.92v8.58h-12.92zM735.96 728.96h12.92v8.58h-12.92zM335.31 737.54h12.92v8.58h-12.92zM619.64 737.54h12.92v8.58h-12.92zM283.61 746.12h12.92v8.58h-12.92zM826.43 746.12h12.92v8.58h-12.92zM865.20 754.70h12.92v8.58h-12.92zM529.17 763.28h12.92v8.58h-12.92zM141.45 771.87h12.92v8.58h-12.92zM490.40 771.87h12.92v8.58h-12.92zM180.22 789.03h12.92v8.58h-12.92zM257.77 789.03h12.92v8.58h-12.92zM283.61 789.03h12.92v8.58h-12.92zM490.40 797.61h12.92v8.58h-12.92zM141.45 806.19h12.92v8.58h-12.92zM490.40 806.19h12.92v8.58h-12.92zM141.45 814.78h12.92v8.58h-12.92zM490.40 814.78h12.92v8.58h-12.92zM141.45 823.36h12.92v8.58h-12.92zM167.30 823.36h12.92v8.58h-12.92zM193.15 823.36h155.09v8.58h-155.09zM361.16 823.36h155.09v8.58h-155.09zM761.81 823.36h129.24v8.58h-129.24zM903.98 823.36h12.92v8.58h-12.92zM115.60 831.94h38.77v8.58h-38.77zM167.30 831.94h180.94v8.58h-180.94zM361.16 831.94h155.09v8.58h-155.09zM761.81 831.94h129.24v8.58h-129.24zM903.98 831.94h12.92v8.58h-12.92zM645.49 840.52h12.92v8.58h-12.92zM115.60 849.10h51.70v8.58h-51.70zM180.22 849.10h103.39v8.58h-103.39zM322.39 849.10h38.77v8.58h-38.77zM374.08 849.10h12.92v8.58h-12.92zM399.93 849.10h51.70v8.58h-51.70zM464.55 849.10h51.70v8.58h-51.70zM645.49 849.10h12.92v8.58h-12.92zM710.11 849.10h25.85v8.58h-25.85zM761.81 849.10h129.24v8.58h-129.24zM296.54 857.69h12.92v8.58h-12.92zM335.31 857.69h12.92v8.58h-12.92zM374.08 857.69h12.92v8.58h-12.92zM412.86 857.69h12.92v8.58h-12.92zM477.48 857.69h12.92v8.58h-12.92zM322.39 866.27h12.92v8.58h-12.92zM218.99 874.85h12.92v8.58h-12.92zM296.54 874.85h12.92v8.58h-12.92zM322.39 874.85h25.85v8.58h-25.85zM399.93 874.85h38.77v8.58h-38.77zM477.48 874.85h25.85v8.58h-25.85zM645.49 874.85h12.92v8.58h-12.92zM115.60 883.43h206.79v8.58h-206.79zM335.31 883.43h25.85v8.58h-25.85zM387.01 883.43h25.85v8.58h-25.85zM438.70 883.43h25.85v8.58h-25.85zM477.48 883.43h38.77v8.58h-38.77zM774.73 883.43h51.70v8.58h-51.70zM852.28 883.43h12.92v8.58h-12.92zM878.13 883.43h25.85v8.58h-25.85zM283.61 892.01h12.92v8.58h-12.92zM516.25 892.01h12.92v8.58h-12.92zM257.77 900.60h12.92v8.58h-12.92zM283.61 900.60h12.92v8.58h-12.92zM412.86 900.60h12.92v8.58h-12.92zM451.63 900.60h25.85v8.58h-25.85zM619.64 900.60h12.92v8.58h-12.92zM193.15 934.92h25.85v8.58h-25.85zM231.92 934.92h12.92v8.58h-12.92zM361.16 934.92h25.85v8.58h-25.85zM632.57 934.92h12.92v8.58h-12.92zM903.98 934.92h12.92v8.58h-12.92zM516.25 943.51h12.92v8.58h-12.92zM671.34 943.51h12.92v8.58h-12.92zM813.51 943.51h25.85v8.58h-25.85zM167.30 952.09h12.92v8.58h-12.92zM218.99 952.09h12.92v8.58h-12.92zM244.84 952.09h12.92v8.58h-12.92zM283.61 952.09h12.92v8.58h-12.92zM490.40 952.09h12.92v8.58h-12.92zM516.25 952.09h12.92v8.58h-12.92zM542.10 952.09h12.92v8.58h-12.92zM658.42 952.09h25.85v8.58h-25.85zM697.19 952.09h12.92v8.58h-12.92zM735.96 952.09h25.85v8.58h-25.85zM774.73 952.09h25.85v8.58h-25.85zM891.05 952.09h12.92v8.58h-12.92zM283.61 960.67h12.92v8.58h-12.92zM567.95 960.67h12.92v8.58h-12.92zM645.49 960.67h12.92v8.58h-12.92zM735.96 960.67h12.92v8.58h-12.92zM774.73 960.67h12.92v8.58h-12.92zM813.51 960.67h25.85v8.58h-25.85zM878.13 960.67h25.85v8.58h-25.85zM283.61 969.25h12.92v8.58h-12.92zM322.39 969.25h12.92v8.58h-12.92zM606.72 969.25h12.92v8.58h-12.92zM813.51 969.25h12.92v8.58h-12.92zM529.17 977.83h12.92v8.58h-12.92zM580.87 977.83h12.92v8.58h-12.92zM852.28 977.83h12.92v8.58h-12.92zM903.98 977.83h12.92v8.58h-12.92zM231.92 986.42h12.92v8.58h-12.92zM529.17 986.42h12.92v8.58h-12.92zM580.87 986.42h38.77v8.58h-38.77zM723.04 986.42h12.92v8.58h-12.92zM787.66 986.42h12.92v8.58h-12.92zM852.28 986.42h12.92v8.58h-12.92zM218.99 995.00h12.92v8.58h-12.92zM529.17 995.00h12.92v8.58h-12.92zM606.72 995.00h25.85v8.58h-25.85zM658.42 995.00h12.92v8.58h-12.92zM800.58 995.00h25.85v8.58h-25.85zM852.28 995.00h12.92v8.58h-12.92zM891.05 995.00h25.85v8.58h-25.85zM206.07 1003.58h12.92v8.58h-12.92zM283.61 1003.58h12.92v8.58h-12.92zM606.72 1003.58h12.92v8.58h-12.92zM645.49 1003.58h12.92v8.58h-12.92zM218.99 1012.16h25.85v8.58h-25.85zM490.40 1012.16h12.92v8.58h-12.92zM593.80 1012.16h12.92v8.58h-12.92zM645.49 1012.16h25.85v8.58h-25.85zM684.26 1012.16h12.92v8.58h-12.92zM735.96 1012.16h25.85v8.58h-25.85zM774.73 1012.16h25.85v8.58h-25.85zM891.05 1012.16h12.92v8.58h-12.92zM218.99 1020.74h12.92v8.58h-12.92zM580.87 1020.74h12.92v8.58h-12.92zM606.72 1020.74h12.92v8.58h-12.92zM671.34 1020.74h12.92v8.58h-12.92zM529.17 1029.33h12.92v8.58h-12.92zM710.11 1029.33h12.92v8.58h-12.92zM735.96 1029.33h12.92v8.58h-12.92zM787.66 1029.33h12.92v8.58h-12.92zM852.28 1029.33h12.92v8.58h-12.92zM193.15 1037.91h12.92v8.58h-12.92zM684.26 1037.91h12.92v8.58h-12.92zM723.04 1037.91h12.92v8.58h-12.92zM787.66 1037.91h12.92v8.58h-12.92zM813.51 1037.91h12.92v8.58h-12.92zM878.13 1037.91h12.92v8.58h-12.92zM193.15 1046.49h12.92v8.58h-12.92zM218.99 1046.49h25.85v8.58h-25.85zM257.77 1046.49h12.92v8.58h-12.92zM322.39 1046.49h12.92v8.58h-12.92zM529.17 1046.49h12.92v8.58h-12.92zM567.95 1046.49h12.92v8.58h-12.92zM593.80 1046.49h12.92v8.58h-12.92zM632.57 1046.49h12.92v8.58h-12.92zM658.42 1046.49h12.92v8.58h-12.92zM761.81 1046.49h12.92v8.58h-12.92zM787.66 1046.49h12.92v8.58h-12.92zM671.34 1055.07h25.85v8.58h-25.85zM761.81 1055.07h12.92v8.58h-12.92zM529.17 1063.65h12.92v8.58h-12.92zM567.95 1063.65h12.92v8.58h-12.92zM593.80 1063.65h51.70v8.58h-51.70zM761.81 1063.65h12.92v8.58h-12.92zM309.46 1072.24h12.92v8.58h-12.92zM542.10 1072.24h12.92v8.58h-12.92zM593.80 1072.24h12.92v8.58h-12.92zM748.89 1072.24h12.92v8.58h-12.92zM852.28 1072.24h12.92v8.58h-12.92zM309.46 1080.82h12.92v8.58h-12.92zM348.24 1080.82h25.85v8.58h-25.85zM529.17 1080.82h12.92v8.58h-12.92zM593.80 1080.82h38.77v8.58h-38.77zM658.42 1080.82h12.92v8.58h-12.92zM710.11 1080.82h12.92v8.58h-12.92zM800.58 1080.82h12.92v8.58h-12.92zM878.13 1080.82h12.92v8.58h-12.92zM606.72 1089.40h12.92v8.58h-12.92zM658.42 1089.40h12.92v8.58h-12.92zM826.43 1089.40h12.92v8.58h-12.92zM903.98 1089.40h12.92v8.58h-12.92zM231.92 1097.98h12.92v8.58h-12.92zM529.17 1097.98h12.92v8.58h-12.92zM567.95 1097.98h12.92v8.58h-12.92zM606.72 1097.98h12.92v8.58h-12.92zM697.19 1097.98h25.85v8.58h-25.85zM878.13 1097.98h12.92v8.58h-12.92zM542.10 1106.56h12.92v8.58h-12.92zM645.49 1106.56h25.85v8.58h-25.85zM710.11 1106.56h12.92v8.58h-12.92zM774.73 1106.56h12.92v8.58h-12.92zM800.58 1106.56h12.92v8.58h-12.92zM309.46 1115.15h12.92v8.58h-12.92zM529.17 1115.15h12.92v8.58h-12.92zM580.87 1115.15h12.92v8.58h-12.92zM619.64 1115.15h12.92v8.58h-12.92zM658.42 1115.15h12.92v8.58h-12.92zM684.26 1115.15h38.77v8.58h-38.77zM748.89 1115.15h25.85v8.58h-25.85zM787.66 1115.15h25.85v8.58h-25.85zM231.92 1123.73h12.92v8.58h-12.92zM529.17 1123.73h12.92v8.58h-12.92zM593.80 1123.73h12.92v8.58h-12.92zM632.57 1123.73h38.77v8.58h-38.77zM684.26 1123.73h25.85v8.58h-25.85zM761.81 1123.73h12.92v8.58h-12.92zM826.43 1123.73h12.92v8.58h-12.92zM878.13 1123.73h12.92v8.58h-12.92zM244.84 1132.31h12.92v8.58h-12.92zM645.49 1132.31h12.92v8.58h-12.92zM697.19 1132.31h12.92v8.58h-12.92zM800.58 1132.31h12.92v8.58h-12.92zM567.95 1140.89h12.92v8.58h-12.92zM606.72 1140.89h12.92v8.58h-12.92zM697.19 1140.89h25.85v8.58h-25.85zM735.96 1140.89h12.92v8.58h-12.92zM529.17 1149.47h12.92v8.58h-12.92zM555.02 1149.47h25.85v8.58h-25.85zM606.72 1149.47h12.92v8.58h-12.92zM645.49 1149.47h12.92v8.58h-12.92zM684.26 1149.47h38.77v8.58h-38.77zM761.81 1149.47h12.92v8.58h-12.92zM813.51 1149.47h12.92v8.58h-12.92zM878.13 1149.47h12.92v8.58h-12.92zM555.02 1158.06h12.92v8.58h-12.92zM619.64 1158.06h12.92v8.58h-12.92zM658.42 1158.06h12.92v8.58h-12.92zM710.11 1158.06h12.92v8.58h-12.92zM761.81 1158.06h12.92v8.58h-12.92zM503.33 1175.22h12.92v8.58h-12.92zM542.10 1175.22h12.92v8.58h-12.92zM593.80 1175.22h12.92v8.58h-12.92zM710.11 1175.22h12.92v8.58h-12.92zM826.43 1175.22h12.92v8.58h-12.92zM567.95 1183.80h12.92v8.58h-12.92zM606.72 1183.80h12.92v8.58h-12.92zM671.34 1183.80h12.92v8.58h-12.92zM723.04 1183.80h12.92v8.58h-12.92zM774.73 1183.80h25.85v8.58h-25.85zM813.51 1183.80h12.92v8.58h-12.92zM852.28 1183.80h12.92v8.58h-12.92zM141.45 1192.38h12.92v8.58h-12.92zM193.15 1192.38h12.92v8.58h-12.92zM218.99 1192.38h90.47v8.58h-90.47zM529.17 1192.38h90.47v8.58h-90.47zM632.57 1192.38h12.92v8.58h-12.92zM658.42 1192.38h12.92v8.58h-12.92zM697.19 1192.38h219.71v8.58h-219.71zM244.84 1218.13h12.92v8.58h-12.92zM309.46 1218.13h12.92v8.58h-12.92zM542.10 1218.13h12.92v8.58h-12.92zM593.80 1218.13h12.92v8.58h-12.92zM774.73 1218.13h12.92v8.58h-12.92zM891.05 1218.13h25.85v8.58h-25.85zM206.07 1235.29h12.92v8.58h-12.92zM723.04 1235.29h12.92v8.58h-12.92zM154.37 1243.88h12.92v8.58h-12.92zM839.35 1243.88h12.92v8.58h-12.92zM193.15 1252.46h12.92v8.58h-12.92zM231.92 1252.46h12.92v8.58h-12.92zM516.25 1252.46h258.48v8.58h-258.48zM787.66 1252.46h12.92v8.58h-12.92zM244.84 1261.04h12.92v8.58h-12.92zM516.25 1261.04h12.92v8.58h-12.92zM542.10 1261.04h374.80v8.58h-374.80zM128.52 1303.95h12.92v8.58h-12.92zM180.22 1329.70h12.92v8.58h-12.92zM206.07 1329.70h12.92v8.58h-12.92zM516.25 1329.70h245.56v8.58h-245.56zM839.35 1329.70h12.92v8.58h-12.92zM516.25 1364.02h12.92v8.58h-12.92zM567.95 1364.02h25.85v8.58h-25.85zM619.64 1364.02h12.92v8.58h-12.92zM645.49 1364.02h12.92v8.58h-12.92zM684.26 1364.02h12.92v8.58h-12.92zM723.04 1364.02h38.77v8.58h-38.77zM865.20 1364.02h12.92v8.58h-12.92zM309.46 1389.77h12.92v8.58h-12.92zM309.46 1398.35h12.92v8.58h-12.92zM309.46 1415.52h12.92v8.58h-12.92zM128.52 1424.10h12.92v8.58h-12.92zM180.22 1424.10h12.92v8.58h-12.92zM283.61 1424.10h12.92v8.58h-12.92zM774.73 1424.10h12.92v8.58h-12.92zM167.30 1441.26h12.92v8.58h-12.92zM257.77 1441.26h12.92v8.58h-12.92zM322.39 1441.26h12.92v8.58h-12.92zM335.31 1449.84h12.92v8.58h-12.92zM787.66 1449.84h12.92v8.58h-12.92zM503.33 1467.01h12.92v8.58h-12.92zM115.60 1475.59h12.92v8.58h-12.92zM813.51 1475.59h12.92v8.58h-12.92z"/><path fill="#dbeaf2" d="M516.25 660.30h12.92v8.58h-12.92zM218.99 668.88h12.92v8.58h-12.92zM516.25 677.46h12.92v8.58h-12.92zM193.15 711.79h12.92v8.58h-12.92zM296.54 711.79h25.85v8.58h-25.85zM335.31 711.79h12.92v8.58h-12.92zM412.86 711.79h12.92v8.58h-12.92zM477.48 711.79h12.92v8.58h-12.92zM503.33 711.79h25.85v8.58h-25.85zM555.02 711.79h12.92v8.58h-12.92zM852.28 720.37h12.92v8.58h-12.92zM335.31 746.12h12.92v8.58h-12.92zM516.25 746.12h12.92v8.58h-12.92zM516.25 754.70h12.92v8.58h-12.92zM516.25 763.28h12.92v8.58h-12.92zM154.37 771.87h12.92v8.58h-12.92zM154.37 780.45h12.92v8.58h-12.92zM490.40 789.03h12.92v8.58h-12.92zM710.11 789.03h12.92v8.58h-12.92zM141.45 797.61h25.85v8.58h-25.85zM154.37 806.19h12.92v8.58h-12.92zM348.24 840.52h12.92v8.58h-12.92zM490.40 840.52h12.92v8.58h-12.92zM167.30 849.10h12.92v8.58h-12.92zM283.61 849.10h38.77v8.58h-38.77zM361.16 849.10h12.92v8.58h-12.92zM387.01 849.10h12.92v8.58h-12.92zM451.63 849.10h12.92v8.58h-12.92zM903.98 849.10h12.92v8.58h-12.92zM115.60 857.69h12.92v8.58h-12.92zM180.22 857.69h12.92v8.58h-12.92zM322.39 857.69h12.92v8.58h-12.92zM399.93 857.69h12.92v8.58h-12.92zM425.78 857.69h12.92v8.58h-12.92zM645.49 857.69h12.92v8.58h-12.92zM464.55 866.27h12.92v8.58h-12.92zM839.35 866.27h12.92v8.58h-12.92zM115.60 874.85h12.92v8.58h-12.92zM180.22 874.85h12.92v8.58h-12.92zM464.55 874.85h12.92v8.58h-12.92zM516.25 874.85h12.92v8.58h-12.92zM619.64 874.85h12.92v8.58h-12.92zM244.84 892.01h25.85v8.58h-25.85zM361.16 892.01h12.92v8.58h-12.92zM477.48 892.01h12.92v8.58h-12.92zM154.37 900.60h25.85v8.58h-25.85zM193.15 900.60h12.92v8.58h-12.92zM244.84 900.60h12.92v8.58h-12.92zM309.46 900.60h12.92v8.58h-12.92zM361.16 900.60h12.92v8.58h-12.92zM878.13 900.60h12.92v8.58h-12.92zM141.45 917.76h12.92v8.58h-12.92zM206.07 917.76h12.92v8.58h-12.92zM296.54 917.76h12.92v8.58h-12.92zM154.37 934.92h25.85v8.58h-25.85zM244.84 934.92h25.85v8.58h-25.85zM335.31 934.92h12.92v8.58h-12.92zM438.70 934.92h12.92v8.58h-12.92zM231.92 943.51h12.92v8.58h-12.92zM322.39 943.51h12.92v8.58h-12.92zM735.96 943.51h12.92v8.58h-12.92zM878.13 943.51h12.92v8.58h-12.92zM206.07 952.09h12.92v8.58h-12.92zM296.54 952.09h12.92v8.58h-12.92zM322.39 952.09h12.92v8.58h-12.92zM723.04 952.09h12.92v8.58h-12.92zM878.13 952.09h12.92v8.58h-12.92zM322.39 960.67h12.92v8.58h-12.92zM658.42 960.67h12.92v8.58h-12.92zM697.19 960.67h25.85v8.58h-25.85zM865.20 960.67h12.92v8.58h-12.92zM580.87 969.25h12.92v8.58h-12.92zM632.57 969.25h12.92v8.58h-12.92zM684.26 969.25h12.92v8.58h-12.92zM787.66 969.25h12.92v8.58h-12.92zM645.49 977.83h12.92v8.58h-12.92zM684.26 977.83h12.92v8.58h-12.92zM787.66 977.83h12.92v8.58h-12.92zM813.51 977.83h12.92v8.58h-12.92zM865.20 977.83h12.92v8.58h-12.92zM218.99 986.42h12.92v8.58h-12.92zM658.42 986.42h12.92v8.58h-12.92zM684.26 986.42h12.92v8.58h-12.92zM231.92 995.00h12.92v8.58h-12.92zM322.39 995.00h12.92v8.58h-12.92zM684.26 995.00h12.92v8.58h-12.92zM787.66 995.00h12.92v8.58h-12.92zM865.20 995.00h12.92v8.58h-12.92zM296.54 1003.58h12.92v8.58h-12.92zM516.25 1003.58h12.92v8.58h-12.92zM567.95 1003.58h12.92v8.58h-12.92zM697.19 1003.58h12.92v8.58h-12.92zM723.04 1003.58h12.92v8.58h-12.92zM748.89 1003.58h12.92v8.58h-12.92zM774.73 1003.58h12.92v8.58h-12.92zM800.58 1003.58h12.92v8.58h-12.92zM826.43 1003.58h12.92v8.58h-12.92zM865.20 1003.58h12.92v8.58h-12.92zM891.05 1003.58h12.92v8.58h-12.92zM244.84 1012.16h12.92v8.58h-12.92zM283.61 1012.16h25.85v8.58h-25.85zM206.07 1020.74h12.92v8.58h-12.92zM231.92 1020.74h12.92v8.58h-12.92zM296.54 1020.74h12.92v8.58h-12.92zM322.39 1020.74h12.92v8.58h-12.92zM516.25 1020.74h12.92v8.58h-12.92zM684.26 1020.74h12.92v8.58h-12.92zM723.04 1020.74h12.92v8.58h-12.92zM748.89 1020.74h12.92v8.58h-12.92zM800.58 1020.74h12.92v8.58h-12.92zM891.05 1020.74h12.92v8.58h-12.92zM296.54 1029.33h12.92v8.58h-12.92zM748.89 1029.33h12.92v8.58h-12.92zM774.73 1029.33h12.92v8.58h-12.92zM800.58 1029.33h12.92v8.58h-12.92zM839.35 1029.33h12.92v8.58h-12.92zM865.20 1029.33h12.92v8.58h-12.92zM903.98 1029.33h12.92v8.58h-12.92zM167.30 1037.91h12.92v8.58h-12.92zM322.39 1037.91h12.92v8.58h-12.92zM542.10 1037.91h12.92v8.58h-12.92zM606.72 1037.91h12.92v8.58h-12.92zM658.42 1037.91h12.92v8.58h-12.92zM697.19 1037.91h12.92v8.58h-12.92zM748.89 1037.91h38.77v8.58h-38.77zM800.58 1037.91h12.92v8.58h-12.92zM852.28 1037.91h12.92v8.58h-12.92zM891.05 1037.91h12.92v8.58h-12.92zM244.84 1046.49h12.92v8.58h-12.92zM283.61 1046.49h25.85v8.58h-25.85zM361.16 1046.49h12.92v8.58h-12.92zM516.25 1046.49h12.92v8.58h-12.92zM580.87 1046.49h12.92v8.58h-12.92zM619.64 1046.49h12.92v8.58h-12.92zM645.49 1046.49h12.92v8.58h-12.92zM697.19 1046.49h25.85v8.58h-25.85zM800.58 1046.49h12.92v8.58h-12.92zM865.20 1046.49h12.92v8.58h-12.92zM903.98 1046.49h12.92v8.58h-12.92zM529.17 1055.07h12.92v8.58h-12.92zM580.87 1055.07h12.92v8.58h-12.92zM645.49 1055.07h25.85v8.58h-25.85zM748.89 1055.07h12.92v8.58h-12.92zM671.34 1063.65h12.92v8.58h-12.92zM723.04 1063.65h12.92v8.58h-12.92zM774.73 1063.65h12.92v8.58h-12.92zM865.20 1063.65h25.85v8.58h-25.85zM903.98 1063.65h12.92v8.58h-12.92zM231.92 1072.24h12.92v8.58h-12.92zM335.31 1072.24h12.92v8.58h-12.92zM645.49 1072.24h12.92v8.58h-12.92zM697.19 1072.24h12.92v8.58h-12.92zM787.66 1072.24h12.92v8.58h-12.92zM826.43 1072.24h12.92v8.58h-12.92zM231.92 1080.82h25.85v8.58h-25.85zM387.01 1080.82h12.92v8.58h-12.92zM748.89 1080.82h12.92v8.58h-12.92zM774.73 1080.82h12.92v8.58h-12.92zM865.20 1080.82h12.92v8.58h-12.92zM231.92 1089.40h12.92v8.58h-12.92zM309.46 1089.40h12.92v8.58h-12.92zM529.17 1089.40h12.92v8.58h-12.92zM567.95 1089.40h12.92v8.58h-12.92zM710.11 1089.40h12.92v8.58h-12.92zM748.89 1089.40h12.92v8.58h-12.92zM800.58 1089.40h12.92v8.58h-12.92zM852.28 1089.40h12.92v8.58h-12.92zM878.13 1089.40h12.92v8.58h-12.92zM309.46 1097.98h12.92v8.58h-12.92zM361.16 1097.98h12.92v8.58h-12.92zM555.02 1097.98h12.92v8.58h-12.92zM645.49 1097.98h12.92v8.58h-12.92zM593.80 1106.56h12.92v8.58h-12.92zM697.19 1106.56h12.92v8.58h-12.92zM748.89 1106.56h12.92v8.58h-12.92zM257.77 1115.15h12.92v8.58h-12.92zM464.55 1115.15h12.92v8.58h-12.92zM516.25 1115.15h12.92v8.58h-12.92zM542.10 1115.15h12.92v8.58h-12.92zM567.95 1115.15h12.92v8.58h-12.92zM593.80 1115.15h25.85v8.58h-25.85zM735.96 1115.15h12.92v8.58h-12.92zM774.73 1115.15h12.92v8.58h-12.92zM826.43 1115.15h38.77v8.58h-38.77zM878.13 1115.15h12.92v8.58h-12.92zM903.98 1115.15h12.92v8.58h-12.92zM206.07 1123.73h12.92v8.58h-12.92zM309.46 1123.73h12.92v8.58h-12.92zM412.86 1123.73h12.92v8.58h-12.92zM464.55 1123.73h12.92v8.58h-12.92zM542.10 1123.73h12.92v8.58h-12.92zM567.95 1123.73h12.92v8.58h-12.92zM606.72 1123.73h12.92v8.58h-12.92zM735.96 1123.73h12.92v8.58h-12.92zM839.35 1123.73h12.92v8.58h-12.92zM193.15 1132.31h12.92v8.58h-12.92zM464.55 1132.31h12.92v8.58h-12.92zM516.25 1132.31h12.92v8.58h-12.92zM606.72 1132.31h12.92v8.58h-12.92zM684.26 1132.31h12.92v8.58h-12.92zM878.13 1132.31h25.85v8.58h-25.85zM516.25 1140.89h12.92v8.58h-12.92zM542.10 1140.89h12.92v8.58h-12.92zM619.64 1140.89h12.92v8.58h-12.92zM761.81 1140.89h25.85v8.58h-25.85zM800.58 1140.89h12.92v8.58h-12.92zM852.28 1140.89h12.92v8.58h-12.92zM878.13 1140.89h12.92v8.58h-12.92zM542.10 1149.47h12.92v8.58h-12.92zM593.80 1149.47h12.92v8.58h-12.92zM723.04 1149.47h12.92v8.58h-12.92zM774.73 1149.47h12.92v8.58h-12.92zM800.58 1149.47h12.92v8.58h-12.92zM826.43 1149.47h12.92v8.58h-12.92zM852.28 1149.47h12.92v8.58h-12.92zM296.54 1158.06h12.92v8.58h-12.92zM567.95 1158.06h12.92v8.58h-12.92zM606.72 1158.06h12.92v8.58h-12.92zM735.96 1158.06h12.92v8.58h-12.92zM774.73 1158.06h12.92v8.58h-12.92zM800.58 1158.06h12.92v8.58h-12.92zM839.35 1158.06h12.92v8.58h-12.92zM735.96 1175.22h12.92v8.58h-12.92zM451.63 1183.80h12.92v8.58h-12.92zM593.80 1183.80h12.92v8.58h-12.92zM632.57 1183.80h12.92v8.58h-12.92zM684.26 1183.80h12.92v8.58h-12.92zM903.98 1183.80h12.92v8.58h-12.92zM154.37 1192.38h12.92v8.58h-12.92zM348.24 1192.38h12.92v8.58h-12.92zM516.25 1192.38h12.92v8.58h-12.92zM619.64 1192.38h12.92v8.58h-12.92zM645.49 1192.38h12.92v8.58h-12.92zM671.34 1192.38h25.85v8.58h-25.85zM671.34 1200.97h12.92v8.58h-12.92zM555.02 1218.13h12.92v8.58h-12.92zM580.87 1218.13h12.92v8.58h-12.92zM658.42 1218.13h12.92v8.58h-12.92zM735.96 1218.13h25.85v8.58h-25.85zM852.28 1218.13h12.92v8.58h-12.92zM218.99 1235.29h12.92v8.58h-12.92zM348.24 1235.29h12.92v8.58h-12.92zM735.96 1235.29h25.85v8.58h-25.85zM839.35 1235.29h12.92v8.58h-12.92zM348.24 1243.88h12.92v8.58h-12.92zM141.45 1252.46h25.85v8.58h-25.85zM348.24 1252.46h12.92v8.58h-12.92zM438.70 1252.46h12.92v8.58h-12.92zM800.58 1252.46h12.92v8.58h-12.92zM878.13 1252.46h12.92v8.58h-12.92zM335.31 1261.04h12.92v8.58h-12.92zM529.17 1261.04h12.92v8.58h-12.92zM180.22 1269.62h12.92v8.58h-12.92zM154.37 1286.79h12.92v8.58h-12.92zM322.39 1286.79h12.92v8.58h-12.92zM348.24 1286.79h12.92v8.58h-12.92zM387.01 1286.79h12.92v8.58h-12.92zM865.20 1286.79h12.92v8.58h-12.92zM154.37 1295.37h12.92v8.58h-12.92zM387.01 1303.95h25.85v8.58h-25.85zM309.46 1312.53h12.92v8.58h-12.92zM154.37 1329.70h12.92v8.58h-12.92zM309.46 1329.70h12.92v8.58h-12.92zM387.01 1329.70h12.92v8.58h-12.92zM412.86 1329.70h12.92v8.58h-12.92zM438.70 1329.70h12.92v8.58h-12.92zM813.51 1329.70h12.92v8.58h-12.92zM852.28 1329.70h12.92v8.58h-12.92zM878.13 1329.70h12.92v8.58h-12.92zM529.17 1364.02h12.92v8.58h-12.92zM800.58 1364.02h25.85v8.58h-25.85zM852.28 1364.02h12.92v8.58h-12.92zM903.98 1364.02h12.92v8.58h-12.92zM309.46 1381.19h12.92v8.58h-12.92zM309.46 1406.93h12.92v8.58h-12.92zM387.01 1424.10h12.92v8.58h-12.92zM425.78 1424.10h12.92v8.58h-12.92zM800.58 1441.26h12.92v8.58h-12.92zM387.01 1449.84h12.92v8.58h-12.92zM128.52 1458.43h12.92v8.58h-12.92zM180.22 1458.43h12.92v8.58h-12.92zM387.01 1467.01h12.92v8.58h-12.92zM167.30 1475.59h12.92v8.58h-12.92zM309.46 1475.59h12.92v8.58h-12.92zM387.01 1475.59h12.92v8.58h-12.92zM826.43 1475.59h25.85v8.58h-25.85zM865.20 1475.59h25.85v8.58h-25.85zM387.01 1484.17h12.92v8.58h-12.92zM425.78 1484.17h12.92v8.58h-12.92z"/><path fill="#f0e8e3" d="M516.25 668.88h12.92v8.58h-12.92zM516.25 686.05h25.85v8.58h-25.85zM516.25 694.63h25.85v8.58h-25.85zM516.25 703.21h12.92v8.58h-12.92zM399.93 711.79h12.92v8.58h-12.92zM438.70 711.79h12.92v8.58h-12.92zM464.55 711.79h12.92v8.58h-12.92zM567.95 711.79h12.92v8.58h-12.92zM723.04 711.79h12.92v8.58h-12.92zM865.20 711.79h12.92v8.58h-12.92zM516.25 720.37h25.85v8.58h-25.85zM516.25 737.54h12.92v8.58h-12.92zM865.20 737.54h12.92v8.58h-12.92zM529.17 746.12h12.92v8.58h-12.92zM555.02 746.12h12.92v8.58h-12.92zM865.20 763.28h12.92v8.58h-12.92zM580.87 771.87h12.92v8.58h-12.92zM748.89 771.87h12.92v8.58h-12.92zM774.73 771.87h12.92v8.58h-12.92zM710.11 780.45h12.92v8.58h-12.92zM141.45 789.03h12.92v8.58h-12.92zM580.87 789.03h12.92v8.58h-12.92zM748.89 789.03h12.92v8.58h-12.92zM878.13 789.03h12.92v8.58h-12.92zM710.11 797.61h12.92v8.58h-12.92zM748.89 797.61h12.92v8.58h-12.92zM878.13 797.61h12.92v8.58h-12.92zM580.87 806.19h12.92v8.58h-12.92zM697.19 806.19h25.85v8.58h-25.85zM748.89 806.19h12.92v8.58h-12.92zM878.13 806.19h12.92v8.58h-12.92zM154.37 814.78h12.92v8.58h-12.92zM580.87 814.78h12.92v8.58h-12.92zM697.19 814.78h25.85v8.58h-25.85zM748.89 814.78h12.92v8.58h-12.92zM878.13 814.78h12.92v8.58h-12.92zM154.37 823.36h12.92v8.58h-12.92zM348.24 823.36h12.92v8.58h-12.92zM154.37 831.94h12.92v8.58h-12.92zM128.52 840.52h12.92v8.58h-12.92zM180.22 840.52h12.92v8.58h-12.92zM206.07 840.52h12.92v8.58h-12.92zM425.78 840.52h12.92v8.58h-12.92zM542.10 840.52h12.92v8.58h-12.92zM774.73 840.52h12.92v8.58h-12.92zM865.20 840.52h12.92v8.58h-12.92zM516.25 857.69h12.92v8.58h-12.92zM619.64 857.69h12.92v8.58h-12.92zM516.25 866.27h12.92v8.58h-12.92zM619.64 866.27h12.92v8.58h-12.92zM645.49 866.27h12.92v8.58h-12.92zM684.26 866.27h12.92v8.58h-12.92zM787.66 866.27h12.92v8.58h-12.92zM878.13 866.27h12.92v8.58h-12.92zM529.17 874.85h12.92v8.58h-12.92zM684.26 874.85h12.92v8.58h-12.92zM774.73 874.85h12.92v8.58h-12.92zM839.35 874.85h12.92v8.58h-12.92zM516.25 883.43h12.92v8.58h-12.92zM180.22 892.01h12.92v8.58h-12.92zM218.99 892.01h12.92v8.58h-12.92zM270.69 892.01h12.92v8.58h-12.92zM335.31 892.01h12.92v8.58h-12.92zM374.08 892.01h12.92v8.58h-12.92zM399.93 892.01h12.92v8.58h-12.92zM490.40 892.01h12.92v8.58h-12.92zM529.17 892.01h12.92v8.58h-12.92zM567.95 892.01h12.92v8.58h-12.92zM800.58 892.01h12.92v8.58h-12.92zM231.92 900.60h12.92v8.58h-12.92zM270.69 900.60h12.92v8.58h-12.92zM335.31 900.60h12.92v8.58h-12.92zM399.93 900.60h12.92v8.58h-12.92zM490.40 900.60h12.92v8.58h-12.92zM567.95 900.60h12.92v8.58h-12.92zM684.26 900.60h25.85v8.58h-25.85zM723.04 900.60h12.92v8.58h-12.92zM141.45 909.18h12.92v8.58h-12.92zM167.30 909.18h12.92v8.58h-12.92zM361.16 909.18h12.92v8.58h-12.92zM387.01 909.18h12.92v8.58h-12.92zM593.80 909.18h12.92v8.58h-12.92zM839.35 909.18h12.92v8.58h-12.92zM878.13 909.18h12.92v8.58h-12.92zM128.52 917.76h12.92v8.58h-12.92zM154.37 917.76h38.77v8.58h-38.77zM218.99 917.76h12.92v8.58h-12.92zM244.84 917.76h51.70v8.58h-51.70zM322.39 917.76h25.85v8.58h-25.85zM387.01 917.76h12.92v8.58h-12.92zM451.63 917.76h25.85v8.58h-25.85zM490.40 917.76h12.92v8.58h-12.92zM800.58 917.76h12.92v8.58h-12.92zM231.92 926.34h12.92v8.58h-12.92zM322.39 926.34h25.85v8.58h-25.85zM425.78 926.34h12.92v8.58h-12.92zM619.64 926.34h12.92v8.58h-12.92zM723.04 926.34h12.92v8.58h-12.92zM180.22 934.92h12.92v8.58h-12.92zM283.61 934.92h12.92v8.58h-12.92zM309.46 934.92h12.92v8.58h-12.92zM399.93 934.92h12.92v8.58h-12.92zM451.63 934.92h12.92v8.58h-12.92zM723.04 934.92h12.92v8.58h-12.92zM167.30 943.51h12.92v8.58h-12.92zM193.15 943.51h38.77v8.58h-38.77zM283.61 943.51h12.92v8.58h-12.92zM309.46 943.51h12.92v8.58h-12.92zM335.31 943.51h12.92v8.58h-12.92zM387.01 943.51h12.92v8.58h-12.92zM619.64 943.51h12.92v8.58h-12.92zM684.26 943.51h12.92v8.58h-12.92zM723.04 943.51h12.92v8.58h-12.92zM774.73 943.51h12.92v8.58h-12.92zM852.28 943.51h12.92v8.58h-12.92zM231.92 952.09h12.92v8.58h-12.92zM361.16 952.09h12.92v8.58h-12.92zM684.26 952.09h12.92v8.58h-12.92zM813.51 952.09h12.92v8.58h-12.92zM852.28 952.09h12.92v8.58h-12.92zM231.92 960.67h12.92v8.58h-12.92zM270.69 960.67h12.92v8.58h-12.92zM761.81 960.67h12.92v8.58h-12.92zM787.66 960.67h12.92v8.58h-12.92zM852.28 960.67h12.92v8.58h-12.92zM193.15 969.25h12.92v8.58h-12.92zM231.92 969.25h12.92v8.58h-12.92zM309.46 969.25h12.92v8.58h-12.92zM348.24 969.25h12.92v8.58h-12.92zM503.33 969.25h12.92v8.58h-12.92zM645.49 969.25h25.85v8.58h-25.85zM735.96 969.25h25.85v8.58h-25.85zM839.35 969.25h12.92v8.58h-12.92zM878.13 969.25h12.92v8.58h-12.92zM193.15 977.83h64.62v8.58h-64.62zM283.61 977.83h25.85v8.58h-25.85zM322.39 977.83h12.92v8.58h-12.92zM361.16 977.83h12.92v8.58h-12.92zM193.15 986.42h25.85v8.58h-25.85zM244.84 986.42h12.92v8.58h-12.92zM270.69 986.42h64.62v8.58h-64.62zM361.16 986.42h12.92v8.58h-12.92zM710.11 986.42h12.92v8.58h-12.92zM735.96 986.42h12.92v8.58h-12.92zM826.43 986.42h12.92v8.58h-12.92zM865.20 986.42h12.92v8.58h-12.92zM193.15 995.00h25.85v8.58h-25.85zM244.84 995.00h12.92v8.58h-12.92zM283.61 995.00h38.77v8.58h-38.77zM361.16 995.00h12.92v8.58h-12.92zM748.89 995.00h12.92v8.58h-12.92zM826.43 995.00h12.92v8.58h-12.92zM193.15 1003.58h12.92v8.58h-12.92zM231.92 1003.58h25.85v8.58h-25.85zM309.46 1003.58h38.77v8.58h-38.77zM658.42 1003.58h12.92v8.58h-12.92zM710.11 1003.58h12.92v8.58h-12.92zM878.13 1003.58h12.92v8.58h-12.92zM322.39 1012.16h12.92v8.58h-12.92zM399.93 1012.16h12.92v8.58h-12.92zM723.04 1012.16h12.92v8.58h-12.92zM800.58 1012.16h12.92v8.58h-12.92zM826.43 1012.16h12.92v8.58h-12.92zM193.15 1020.74h12.92v8.58h-12.92zM244.84 1020.74h12.92v8.58h-12.92zM309.46 1020.74h12.92v8.58h-12.92zM335.31 1020.74h12.92v8.58h-12.92zM361.16 1020.74h12.92v8.58h-12.92zM658.42 1020.74h12.92v8.58h-12.92zM710.11 1020.74h12.92v8.58h-12.92zM735.96 1020.74h12.92v8.58h-12.92zM878.13 1020.74h12.92v8.58h-12.92zM218.99 1029.33h12.92v8.58h-12.92zM335.31 1029.33h12.92v8.58h-12.92zM399.93 1029.33h12.92v8.58h-12.92zM503.33 1029.33h12.92v8.58h-12.92zM542.10 1029.33h90.47v8.58h-90.47zM684.26 1029.33h12.92v8.58h-12.92zM723.04 1029.33h12.92v8.58h-12.92zM826.43 1029.33h12.92v8.58h-12.92zM878.13 1029.33h12.92v8.58h-12.92zM218.99 1037.91h12.92v8.58h-12.92zM309.46 1037.91h12.92v8.58h-12.92zM374.08 1037.91h12.92v8.58h-12.92zM503.33 1037.91h12.92v8.58h-12.92zM710.11 1037.91h12.92v8.58h-12.92zM309.46 1046.49h12.92v8.58h-12.92zM606.72 1046.49h12.92v8.58h-12.92zM671.34 1046.49h12.92v8.58h-12.92zM723.04 1046.49h12.92v8.58h-12.92zM774.73 1046.49h12.92v8.58h-12.92zM839.35 1046.49h25.85v8.58h-25.85zM891.05 1046.49h12.92v8.58h-12.92zM218.99 1055.07h25.85v8.58h-25.85zM322.39 1055.07h12.92v8.58h-12.92zM735.96 1055.07h12.92v8.58h-12.92zM774.73 1055.07h51.70v8.58h-51.70zM852.28 1055.07h51.70v8.58h-51.70zM231.92 1063.65h12.92v8.58h-12.92zM296.54 1063.65h12.92v8.58h-12.92zM735.96 1063.65h12.92v8.58h-12.92zM787.66 1063.65h51.70v8.58h-51.70zM891.05 1063.65h12.92v8.58h-12.92zM244.84 1072.24h12.92v8.58h-12.92zM348.24 1072.24h12.92v8.58h-12.92zM374.08 1072.24h25.85v8.58h-25.85zM425.78 1072.24h12.92v8.58h-12.92zM516.25 1072.24h12.92v8.58h-12.92zM555.02 1072.24h25.85v8.58h-25.85zM619.64 1072.24h12.92v8.58h-12.92zM684.26 1072.24h12.92v8.58h-12.92zM723.04 1072.24h12.92v8.58h-12.92zM800.58 1072.24h12.92v8.58h-12.92zM438.70 1080.82h12.92v8.58h-12.92zM555.02 1080.82h12.92v8.58h-12.92zM735.96 1080.82h12.92v8.58h-12.92zM826.43 1080.82h12.92v8.58h-12.92zM193.15 1089.40h12.92v8.58h-12.92zM244.84 1089.40h25.85v8.58h-25.85zM387.01 1089.40h12.92v8.58h-12.92zM412.86 1089.40h12.92v8.58h-12.92zM464.55 1089.40h12.92v8.58h-12.92zM516.25 1089.40h12.92v8.58h-12.92zM555.02 1089.40h12.92v8.58h-12.92zM839.35 1089.40h12.92v8.58h-12.92zM865.20 1089.40h12.92v8.58h-12.92zM244.84 1097.98h12.92v8.58h-12.92zM322.39 1097.98h12.92v8.58h-12.92zM348.24 1097.98h12.92v8.58h-12.92zM438.70 1097.98h12.92v8.58h-12.92zM619.64 1097.98h12.92v8.58h-12.92zM684.26 1097.98h12.92v8.58h-12.92zM735.96 1097.98h12.92v8.58h-12.92zM826.43 1097.98h12.92v8.58h-12.92zM231.92 1106.56h25.85v8.58h-25.85zM270.69 1106.56h25.85v8.58h-25.85zM387.01 1106.56h12.92v8.58h-12.92zM555.02 1106.56h12.92v8.58h-12.92zM606.72 1106.56h12.92v8.58h-12.92zM723.04 1106.56h12.92v8.58h-12.92zM826.43 1106.56h12.92v8.58h-12.92zM865.20 1106.56h25.85v8.58h-25.85zM322.39 1115.15h12.92v8.58h-12.92zM374.08 1115.15h12.92v8.58h-12.92zM503.33 1115.15h12.92v8.58h-12.92zM244.84 1123.73h12.92v8.58h-12.92zM399.93 1123.73h12.92v8.58h-12.92zM425.78 1123.73h12.92v8.58h-12.92zM516.25 1123.73h12.92v8.58h-12.92zM555.02 1123.73h12.92v8.58h-12.92zM813.51 1123.73h12.92v8.58h-12.92zM865.20 1123.73h12.92v8.58h-12.92zM322.39 1132.31h12.92v8.58h-12.92zM374.08 1132.31h12.92v8.58h-12.92zM399.93 1132.31h38.77v8.58h-38.77zM555.02 1132.31h12.92v8.58h-12.92zM710.11 1132.31h12.92v8.58h-12.92zM735.96 1132.31h12.92v8.58h-12.92zM826.43 1132.31h12.92v8.58h-12.92zM206.07 1140.89h12.92v8.58h-12.92zM231.92 1140.89h25.85v8.58h-25.85zM309.46 1140.89h12.92v8.58h-12.92zM399.93 1140.89h51.70v8.58h-51.70zM464.55 1140.89h12.92v8.58h-12.92zM813.51 1140.89h12.92v8.58h-12.92zM865.20 1140.89h12.92v8.58h-12.92zM231.92 1149.47h12.92v8.58h-12.92zM309.46 1149.47h12.92v8.58h-12.92zM516.25 1149.47h12.92v8.58h-12.92zM619.64 1149.47h12.92v8.58h-12.92zM735.96 1149.47h12.92v8.58h-12.92zM865.20 1149.47h12.92v8.58h-12.92zM206.07 1158.06h12.92v8.58h-12.92zM412.86 1158.06h12.92v8.58h-12.92zM516.25 1158.06h12.92v8.58h-12.92zM723.04 1158.06h12.92v8.58h-12.92zM865.20 1158.06h12.92v8.58h-12.92zM296.54 1175.22h12.92v8.58h-12.92zM322.39 1175.22h12.92v8.58h-12.92zM529.17 1175.22h12.92v8.58h-12.92zM645.49 1175.22h12.92v8.58h-12.92zM748.89 1175.22h12.92v8.58h-12.92zM865.20 1175.22h12.92v8.58h-12.92zM218.99 1183.80h25.85v8.58h-25.85zM296.54 1183.80h12.92v8.58h-12.92zM529.17 1183.80h12.92v8.58h-12.92zM645.49 1183.80h12.92v8.58h-12.92zM735.96 1183.80h12.92v8.58h-12.92zM826.43 1183.80h25.85v8.58h-25.85zM891.05 1183.80h12.92v8.58h-12.92zM206.07 1192.38h12.92v8.58h-12.92zM335.31 1192.38h12.92v8.58h-12.92zM438.70 1192.38h12.92v8.58h-12.92zM206.07 1200.97h12.92v8.58h-12.92zM348.24 1200.97h25.85v8.58h-25.85zM619.64 1200.97h12.92v8.58h-12.92zM761.81 1200.97h25.85v8.58h-25.85zM852.28 1200.97h12.92v8.58h-12.92zM567.95 1209.55h12.92v8.58h-12.92zM412.86 1218.13h12.92v8.58h-12.92zM710.11 1218.13h12.92v8.58h-12.92zM878.13 1218.13h12.92v8.58h-12.92zM309.46 1226.71h12.92v8.58h-12.92zM464.55 1226.71h12.92v8.58h-12.92zM529.17 1226.71h12.92v8.58h-12.92zM684.26 1226.71h12.92v8.58h-12.92zM774.73 1226.71h12.92v8.58h-12.92zM451.63 1235.29h12.92v8.58h-12.92zM761.81 1235.29h12.92v8.58h-12.92zM826.43 1235.29h12.92v8.58h-12.92zM865.20 1235.29h12.92v8.58h-12.92zM206.07 1243.88h25.85v8.58h-25.85zM309.46 1243.88h12.92v8.58h-12.92zM399.93 1243.88h12.92v8.58h-12.92zM865.20 1243.88h12.92v8.58h-12.92zM903.98 1243.88h12.92v8.58h-12.92zM218.99 1252.46h12.92v8.58h-12.92zM257.77 1252.46h12.92v8.58h-12.92zM774.73 1252.46h12.92v8.58h-12.92zM865.20 1252.46h12.92v8.58h-12.92zM141.45 1261.04h12.92v8.58h-12.92zM167.30 1261.04h25.85v8.58h-25.85zM218.99 1261.04h25.85v8.58h-25.85zM309.46 1261.04h25.85v8.58h-25.85zM399.93 1261.04h25.85v8.58h-25.85zM477.48 1261.04h12.92v8.58h-12.92zM141.45 1269.62h12.92v8.58h-12.92zM231.92 1269.62h12.92v8.58h-12.92zM322.39 1269.62h12.92v8.58h-12.92zM490.40 1269.62h12.92v8.58h-12.92zM761.81 1269.62h12.92v8.58h-12.92zM787.66 1269.62h12.92v8.58h-12.92zM839.35 1269.62h12.92v8.58h-12.92zM141.45 1286.79h12.92v8.58h-12.92zM167.30 1286.79h12.92v8.58h-12.92zM218.99 1286.79h12.92v8.58h-12.92zM361.16 1286.79h12.92v8.58h-12.92zM761.81 1286.79h12.92v8.58h-12.92zM800.58 1286.79h12.92v8.58h-12.92zM309.46 1295.37h12.92v8.58h-12.92zM115.60 1303.95h12.92v8.58h-12.92zM154.37 1303.95h38.77v8.58h-38.77zM322.39 1303.95h12.92v8.58h-12.92zM361.16 1303.95h12.92v8.58h-12.92zM412.86 1303.95h25.85v8.58h-25.85zM774.73 1303.95h12.92v8.58h-12.92zM154.37 1321.11h12.92v8.58h-12.92zM218.99 1321.11h12.92v8.58h-12.92zM270.69 1321.11h12.92v8.58h-12.92zM348.24 1321.11h12.92v8.58h-12.92zM761.81 1321.11h12.92v8.58h-12.92zM128.52 1329.70h12.92v8.58h-12.92zM322.39 1329.70h12.92v8.58h-12.92zM348.24 1329.70h12.92v8.58h-12.92zM374.08 1329.70h12.92v8.58h-12.92zM399.93 1329.70h12.92v8.58h-12.92zM800.58 1329.70h12.92v8.58h-12.92zM903.98 1329.70h12.92v8.58h-12.92zM128.52 1338.28h12.92v8.58h-12.92zM180.22 1338.28h12.92v8.58h-12.92zM322.39 1338.28h12.92v8.58h-12.92zM374.08 1338.28h12.92v8.58h-12.92zM425.78 1338.28h12.92v8.58h-12.92zM490.40 1346.86h12.92v8.58h-12.92zM529.17 1346.86h12.92v8.58h-12.92zM787.66 1346.86h12.92v8.58h-12.92zM903.98 1346.86h12.92v8.58h-12.92zM542.10 1355.44h12.92v8.58h-12.92zM787.66 1355.44h12.92v8.58h-12.92zM231.92 1364.02h25.85v8.58h-25.85zM309.46 1364.02h25.85v8.58h-25.85zM658.42 1364.02h12.92v8.58h-12.92zM697.19 1364.02h12.92v8.58h-12.92zM774.73 1364.02h25.85v8.58h-25.85zM878.13 1364.02h12.92v8.58h-12.92zM115.60 1372.61h12.92v8.58h-12.92zM167.30 1372.61h12.92v8.58h-12.92zM270.69 1372.61h25.85v8.58h-25.85zM309.46 1372.61h12.92v8.58h-12.92zM774.73 1381.19h25.85v8.58h-25.85zM839.35 1381.19h12.92v8.58h-12.92zM878.13 1381.19h12.92v8.58h-12.92zM115.60 1389.77h12.92v8.58h-12.92zM141.45 1389.77h12.92v8.58h-12.92zM167.30 1389.77h25.85v8.58h-25.85zM774.73 1389.77h25.85v8.58h-25.85zM839.35 1389.77h12.92v8.58h-12.92zM878.13 1389.77h12.92v8.58h-12.92zM115.60 1398.35h12.92v8.58h-12.92zM141.45 1398.35h12.92v8.58h-12.92zM167.30 1398.35h25.85v8.58h-25.85zM774.73 1398.35h25.85v8.58h-25.85zM115.60 1406.93h12.92v8.58h-12.92zM167.30 1406.93h12.92v8.58h-12.92zM774.73 1406.93h25.85v8.58h-25.85zM839.35 1406.93h12.92v8.58h-12.92zM115.60 1415.52h12.92v8.58h-12.92zM141.45 1415.52h12.92v8.58h-12.92zM167.30 1415.52h12.92v8.58h-12.92zM774.73 1415.52h25.85v8.58h-25.85zM839.35 1415.52h12.92v8.58h-12.92zM878.13 1415.52h12.92v8.58h-12.92zM115.60 1424.10h12.92v8.58h-12.92zM154.37 1424.10h25.85v8.58h-25.85zM322.39 1424.10h12.92v8.58h-12.92zM374.08 1424.10h12.92v8.58h-12.92zM787.66 1424.10h12.92v8.58h-12.92zM270.69 1432.68h12.92v8.58h-12.92zM296.54 1432.68h12.92v8.58h-12.92zM322.39 1432.68h12.92v8.58h-12.92zM387.01 1432.68h25.85v8.58h-25.85zM425.78 1432.68h12.92v8.58h-12.92zM477.48 1432.68h12.92v8.58h-12.92zM774.73 1432.68h25.85v8.58h-25.85zM826.43 1432.68h12.92v8.58h-12.92zM865.20 1432.68h12.92v8.58h-12.92zM128.52 1441.26h12.92v8.58h-12.92zM154.37 1441.26h12.92v8.58h-12.92zM180.22 1441.26h12.92v8.58h-12.92zM387.01 1441.26h12.92v8.58h-12.92zM412.86 1441.26h25.85v8.58h-25.85zM813.51 1441.26h12.92v8.58h-12.92zM115.60 1449.84h25.85v8.58h-25.85zM154.37 1449.84h38.77v8.58h-38.77zM270.69 1449.84h25.85v8.58h-25.85zM322.39 1449.84h12.92v8.58h-12.92zM425.78 1449.84h12.92v8.58h-12.92zM774.73 1449.84h12.92v8.58h-12.92zM813.51 1449.84h12.92v8.58h-12.92zM839.35 1449.84h12.92v8.58h-12.92zM878.13 1449.84h12.92v8.58h-12.92zM167.30 1458.43h12.92v8.58h-12.92zM322.39 1458.43h12.92v8.58h-12.92zM387.01 1458.43h25.85v8.58h-25.85zM425.78 1458.43h12.92v8.58h-12.92zM115.60 1467.01h12.92v8.58h-12.92zM154.37 1467.01h25.85v8.58h-25.85zM270.69 1467.01h12.92v8.58h-12.92zM322.39 1467.01h12.92v8.58h-12.92zM361.16 1467.01h25.85v8.58h-25.85zM425.78 1467.01h12.92v8.58h-12.92zM774.73 1467.01h25.85v8.58h-25.85zM878.13 1467.01h12.92v8.58h-12.92zM154.37 1475.59h12.92v8.58h-12.92zM425.78 1475.59h12.92v8.58h-12.92zM761.81 1475.59h51.70v8.58h-51.70zM852.28 1475.59h12.92v8.58h-12.92zM128.52 1484.17h12.92v8.58h-12.92zM180.22 1484.17h12.92v8.58h-12.92zM322.39 1484.17h12.92v8.58h-12.92zM361.16 1484.17h12.92v8.58h-12.92zM128.52 1492.75h12.92v8.58h-12.92zM154.37 1492.75h12.92v8.58h-12.92zM180.22 1492.75h12.92v8.58h-12.92zM361.16 1492.75h12.92v8.58h-12.92zM387.01 1492.75h12.92v8.58h-12.92zM425.78 1492.75h12.92v8.58h-12.92zM878.13 1492.75h12.92v8.58h-12.92zM128.52 1501.34h12.92v8.58h-12.92zM180.22 1501.34h12.92v8.58h-12.92zM322.39 1501.34h12.92v8.58h-12.92zM361.16 1501.34h12.92v8.58h-12.92zM387.01 1501.34h12.92v8.58h-12.92zM425.78 1501.34h12.92v8.58h-12.92zM878.13 1501.34h12.92v8.58h-12.92zM128.52 1509.92h12.92v8.58h-12.92zM180.22 1509.92h12.92v8.58h-12.92zM322.39 1509.92h12.92v8.58h-12.92zM361.16 1509.92h12.92v8.58h-12.92zM387.01 1509.92h12.92v8.58h-12.92zM425.78 1509.92h12.92v8.58h-12.92zM878.13 1509.92h12.92v8.58h-12.92z"/><path fill="#f8e3d7" d="M529.17 660.30h12.92v8.58h-12.92zM555.02 660.30h12.92v8.58h-12.92zM723.04 660.30h12.92v8.58h-12.92zM865.20 660.30h12.92v8.58h-12.92zM529.17 668.88h12.92v8.58h-12.92zM865.20 668.88h12.92v8.58h-12.92zM529.17 677.46h12.92v8.58h-12.92zM555.02 677.46h12.92v8.58h-12.92zM658.42 677.46h25.85v8.58h-25.85zM865.20 677.46h12.92v8.58h-12.92zM865.20 686.05h12.92v8.58h-12.92zM555.02 694.63h12.92v8.58h-12.92zM723.04 694.63h12.92v8.58h-12.92zM529.17 703.21h12.92v8.58h-12.92zM865.20 703.21h12.92v8.58h-12.92zM529.17 711.79h12.92v8.58h-12.92zM593.80 711.79h12.92v8.58h-12.92zM645.49 711.79h25.85v8.58h-25.85zM865.20 720.37h12.92v8.58h-12.92zM529.17 728.96h12.92v8.58h-12.92zM684.26 728.96h12.92v8.58h-12.92zM865.20 728.96h12.92v8.58h-12.92zM529.17 737.54h12.92v8.58h-12.92zM555.02 737.54h25.85v8.58h-25.85zM723.04 737.54h12.92v8.58h-12.92zM852.28 737.54h12.92v8.58h-12.92zM567.95 746.12h12.92v8.58h-12.92zM723.04 746.12h12.92v8.58h-12.92zM865.20 746.12h12.92v8.58h-12.92zM529.17 754.70h12.92v8.58h-12.92zM567.95 754.70h12.92v8.58h-12.92zM723.04 754.70h12.92v8.58h-12.92zM878.13 754.70h12.92v8.58h-12.92zM774.73 763.28h12.92v8.58h-12.92zM878.13 763.28h12.92v8.58h-12.92zM516.25 771.87h12.92v8.58h-12.92zM632.57 771.87h12.92v8.58h-12.92zM697.19 771.87h25.85v8.58h-25.85zM865.20 771.87h25.85v8.58h-25.85zM580.87 780.45h12.92v8.58h-12.92zM632.57 780.45h12.92v8.58h-12.92zM748.89 780.45h12.92v8.58h-12.92zM774.73 780.45h12.92v8.58h-12.92zM865.20 780.45h12.92v8.58h-12.92zM632.57 789.03h25.85v8.58h-25.85zM697.19 789.03h12.92v8.58h-12.92zM826.43 789.03h12.92v8.58h-12.92zM464.55 797.61h12.92v8.58h-12.92zM580.87 797.61h12.92v8.58h-12.92zM632.57 797.61h12.92v8.58h-12.92zM697.19 797.61h12.92v8.58h-12.92zM464.55 806.19h12.92v8.58h-12.92zM632.57 806.19h25.85v8.58h-25.85zM865.20 806.19h12.92v8.58h-12.92zM632.57 814.78h25.85v8.58h-25.85zM865.20 814.78h12.92v8.58h-12.92zM438.70 840.52h12.92v8.58h-12.92zM464.55 840.52h12.92v8.58h-12.92zM671.34 840.52h12.92v8.58h-12.92zM710.11 840.52h12.92v8.58h-12.92zM761.81 840.52h12.92v8.58h-12.92zM800.58 840.52h25.85v8.58h-25.85zM839.35 840.52h12.92v8.58h-12.92zM464.55 857.69h12.92v8.58h-12.92zM529.17 857.69h12.92v8.58h-12.92zM684.26 857.69h12.92v8.58h-12.92zM774.73 857.69h12.92v8.58h-12.92zM826.43 857.69h25.85v8.58h-25.85zM529.17 866.27h12.92v8.58h-12.92zM671.34 866.27h12.92v8.58h-12.92zM774.73 866.27h12.92v8.58h-12.92zM826.43 866.27h12.92v8.58h-12.92zM555.02 874.85h12.92v8.58h-12.92zM632.57 874.85h12.92v8.58h-12.92zM671.34 874.85h12.92v8.58h-12.92zM787.66 874.85h12.92v8.58h-12.92zM826.43 874.85h12.92v8.58h-12.92zM529.17 883.43h12.92v8.58h-12.92zM387.01 892.01h12.92v8.58h-12.92zM503.33 892.01h12.92v8.58h-12.92zM555.02 892.01h12.92v8.58h-12.92zM645.49 892.01h12.92v8.58h-12.92zM671.34 892.01h25.85v8.58h-25.85zM723.04 892.01h12.92v8.58h-12.92zM865.20 892.01h12.92v8.58h-12.92zM128.52 900.60h12.92v8.58h-12.92zM322.39 900.60h12.92v8.58h-12.92zM387.01 900.60h12.92v8.58h-12.92zM425.78 900.60h12.92v8.58h-12.92zM516.25 900.60h12.92v8.58h-12.92zM542.10 900.60h12.92v8.58h-12.92zM645.49 900.60h12.92v8.58h-12.92zM710.11 900.60h12.92v8.58h-12.92zM193.15 909.18h12.92v8.58h-12.92zM244.84 909.18h12.92v8.58h-12.92zM283.61 909.18h12.92v8.58h-12.92zM451.63 909.18h12.92v8.58h-12.92zM516.25 909.18h12.92v8.58h-12.92zM671.34 909.18h12.92v8.58h-12.92zM723.04 909.18h12.92v8.58h-12.92zM748.89 909.18h25.85v8.58h-25.85zM800.58 909.18h12.92v8.58h-12.92zM865.20 909.18h12.92v8.58h-12.92zM903.98 909.18h12.92v8.58h-12.92zM231.92 917.76h12.92v8.58h-12.92zM632.57 917.76h12.92v8.58h-12.92zM723.04 917.76h12.92v8.58h-12.92zM774.73 917.76h12.92v8.58h-12.92zM154.37 926.34h12.92v8.58h-12.92zM193.15 926.34h25.85v8.58h-25.85zM438.70 926.34h25.85v8.58h-25.85zM542.10 926.34h12.92v8.58h-12.92zM567.95 926.34h12.92v8.58h-12.92zM710.11 926.34h12.92v8.58h-12.92zM387.01 934.92h12.92v8.58h-12.92zM425.78 934.92h12.92v8.58h-12.92zM580.87 934.92h38.77v8.58h-38.77zM658.42 934.92h12.92v8.58h-12.92zM684.26 934.92h25.85v8.58h-25.85zM800.58 934.92h12.92v8.58h-12.92zM878.13 934.92h25.85v8.58h-25.85zM296.54 943.51h12.92v8.58h-12.92zM361.16 943.51h12.92v8.58h-12.92zM658.42 943.51h12.92v8.58h-12.92zM697.19 943.51h12.92v8.58h-12.92zM839.35 943.51h12.92v8.58h-12.92zM865.20 943.51h12.92v8.58h-12.92zM180.22 952.09h12.92v8.58h-12.92zM270.69 952.09h12.92v8.58h-12.92zM477.48 952.09h12.92v8.58h-12.92zM529.17 952.09h12.92v8.58h-12.92zM710.11 952.09h12.92v8.58h-12.92zM826.43 952.09h25.85v8.58h-25.85zM865.20 952.09h12.92v8.58h-12.92zM309.46 960.67h12.92v8.58h-12.92zM399.93 960.67h12.92v8.58h-12.92zM503.33 960.67h12.92v8.58h-12.92zM723.04 960.67h12.92v8.58h-12.92zM800.58 960.67h12.92v8.58h-12.92zM839.35 960.67h12.92v8.58h-12.92zM206.07 969.25h12.92v8.58h-12.92zM270.69 969.25h12.92v8.58h-12.92zM710.11 969.25h12.92v8.58h-12.92zM852.28 969.25h25.85v8.58h-25.85zM891.05 969.25h12.92v8.58h-12.92zM257.77 977.83h25.85v8.58h-25.85zM490.40 977.83h12.92v8.58h-12.92zM697.19 977.83h12.92v8.58h-12.92zM490.40 986.42h12.92v8.58h-12.92zM697.19 986.42h12.92v8.58h-12.92zM878.13 986.42h12.92v8.58h-12.92zM257.77 995.00h12.92v8.58h-12.92zM878.13 995.00h12.92v8.58h-12.92zM167.30 1003.58h12.92v8.58h-12.92zM218.99 1003.58h12.92v8.58h-12.92zM464.55 1003.58h12.92v8.58h-12.92zM735.96 1003.58h12.92v8.58h-12.92zM839.35 1003.58h25.85v8.58h-25.85zM154.37 1012.16h25.85v8.58h-25.85zM206.07 1012.16h12.92v8.58h-12.92zM309.46 1012.16h12.92v8.58h-12.92zM361.16 1012.16h12.92v8.58h-12.92zM387.01 1012.16h12.92v8.58h-12.92zM503.33 1012.16h12.92v8.58h-12.92zM839.35 1012.16h25.85v8.58h-25.85zM878.13 1012.16h12.92v8.58h-12.92zM257.77 1020.74h25.85v8.58h-25.85zM387.01 1020.74h12.92v8.58h-12.92zM464.55 1020.74h12.92v8.58h-12.92zM826.43 1020.74h12.92v8.58h-12.92zM852.28 1020.74h25.85v8.58h-25.85zM193.15 1029.33h25.85v8.58h-25.85zM231.92 1029.33h38.77v8.58h-38.77zM283.61 1029.33h12.92v8.58h-12.92zM632.57 1029.33h25.85v8.58h-25.85zM206.07 1037.91h12.92v8.58h-12.92zM283.61 1037.91h12.92v8.58h-12.92zM361.16 1037.91h12.92v8.58h-12.92zM412.86 1037.91h12.92v8.58h-12.92zM490.40 1037.91h12.92v8.58h-12.92zM593.80 1037.91h12.92v8.58h-12.92zM645.49 1037.91h12.92v8.58h-12.92zM826.43 1037.91h12.92v8.58h-12.92zM206.07 1046.49h12.92v8.58h-12.92zM270.69 1046.49h12.92v8.58h-12.92zM399.93 1046.49h12.92v8.58h-12.92zM490.40 1046.49h12.92v8.58h-12.92zM684.26 1046.49h12.92v8.58h-12.92zM813.51 1046.49h12.92v8.58h-12.92zM878.13 1046.49h12.92v8.58h-12.92zM193.15 1055.07h25.85v8.58h-25.85zM309.46 1055.07h12.92v8.58h-12.92zM361.16 1055.07h12.92v8.58h-12.92zM710.11 1055.07h12.92v8.58h-12.92zM309.46 1063.65h12.92v8.58h-12.92zM335.31 1063.65h12.92v8.58h-12.92zM438.70 1063.65h12.92v8.58h-12.92zM645.49 1063.65h12.92v8.58h-12.92zM684.26 1063.65h25.85v8.58h-25.85zM270.69 1072.24h12.92v8.58h-12.92zM322.39 1072.24h12.92v8.58h-12.92zM361.16 1072.24h12.92v8.58h-12.92zM399.93 1072.24h25.85v8.58h-25.85zM490.40 1072.24h12.92v8.58h-12.92zM658.42 1072.24h12.92v8.58h-12.92zM735.96 1072.24h12.92v8.58h-12.92zM813.51 1072.24h12.92v8.58h-12.92zM839.35 1072.24h12.92v8.58h-12.92zM865.20 1072.24h25.85v8.58h-25.85zM257.77 1080.82h25.85v8.58h-25.85zM374.08 1080.82h12.92v8.58h-12.92zM464.55 1080.82h12.92v8.58h-12.92zM645.49 1080.82h12.92v8.58h-12.92zM684.26 1080.82h12.92v8.58h-12.92zM723.04 1080.82h12.92v8.58h-12.92zM839.35 1080.82h12.92v8.58h-12.92zM270.69 1089.40h12.92v8.58h-12.92zM438.70 1089.40h12.92v8.58h-12.92zM645.49 1089.40h12.92v8.58h-12.92zM723.04 1089.40h12.92v8.58h-12.92zM193.15 1097.98h12.92v8.58h-12.92zM257.77 1097.98h25.85v8.58h-25.85zM374.08 1097.98h25.85v8.58h-25.85zM412.86 1097.98h12.92v8.58h-12.92zM658.42 1097.98h12.92v8.58h-12.92zM813.51 1097.98h12.92v8.58h-12.92zM839.35 1097.98h12.92v8.58h-12.92zM865.20 1097.98h12.92v8.58h-12.92zM335.31 1106.56h12.92v8.58h-12.92zM374.08 1106.56h12.92v8.58h-12.92zM412.86 1106.56h12.92v8.58h-12.92zM438.70 1106.56h12.92v8.58h-12.92zM516.25 1106.56h12.92v8.58h-12.92zM684.26 1106.56h12.92v8.58h-12.92zM813.51 1106.56h12.92v8.58h-12.92zM231.92 1115.15h12.92v8.58h-12.92zM451.63 1115.15h12.92v8.58h-12.92zM193.15 1123.73h12.92v8.58h-12.92zM322.39 1123.73h25.85v8.58h-25.85zM438.70 1123.73h12.92v8.58h-12.92zM503.33 1123.73h12.92v8.58h-12.92zM619.64 1123.73h12.92v8.58h-12.92zM723.04 1123.73h12.92v8.58h-12.92zM270.69 1132.31h12.92v8.58h-12.92zM335.31 1132.31h12.92v8.58h-12.92zM361.16 1132.31h12.92v8.58h-12.92zM387.01 1132.31h12.92v8.58h-12.92zM567.95 1132.31h12.92v8.58h-12.92zM723.04 1132.31h12.92v8.58h-12.92zM813.51 1132.31h12.92v8.58h-12.92zM193.15 1140.89h12.92v8.58h-12.92zM335.31 1140.89h12.92v8.58h-12.92zM723.04 1140.89h12.92v8.58h-12.92zM206.07 1149.47h25.85v8.58h-25.85zM244.84 1149.47h12.92v8.58h-12.92zM322.39 1149.47h25.85v8.58h-25.85zM412.86 1149.47h12.92v8.58h-12.92zM464.55 1149.47h12.92v8.58h-12.92zM193.15 1158.06h12.92v8.58h-12.92zM218.99 1158.06h12.92v8.58h-12.92zM244.84 1158.06h12.92v8.58h-12.92zM283.61 1158.06h12.92v8.58h-12.92zM425.78 1158.06h12.92v8.58h-12.92zM464.55 1158.06h12.92v8.58h-12.92zM141.45 1166.64h12.92v8.58h-12.92zM529.17 1166.64h12.92v8.58h-12.92zM567.95 1166.64h12.92v8.58h-12.92zM593.80 1166.64h12.92v8.58h-12.92zM761.81 1166.64h12.92v8.58h-12.92zM813.51 1166.64h12.92v8.58h-12.92zM193.15 1175.22h12.92v8.58h-12.92zM231.92 1175.22h12.92v8.58h-12.92zM283.61 1175.22h12.92v8.58h-12.92zM761.81 1175.22h12.92v8.58h-12.92zM813.51 1175.22h12.92v8.58h-12.92zM878.13 1175.22h12.92v8.58h-12.92zM193.15 1183.80h12.92v8.58h-12.92zM244.84 1183.80h51.70v8.58h-51.70zM309.46 1183.80h25.85v8.58h-25.85zM361.16 1183.80h12.92v8.58h-12.92zM399.93 1183.80h12.92v8.58h-12.92zM580.87 1183.80h12.92v8.58h-12.92zM710.11 1183.80h12.92v8.58h-12.92zM748.89 1183.80h12.92v8.58h-12.92zM878.13 1183.80h12.92v8.58h-12.92zM128.52 1192.38h12.92v8.58h-12.92zM167.30 1192.38h12.92v8.58h-12.92zM322.39 1192.38h12.92v8.58h-12.92zM231.92 1200.97h12.92v8.58h-12.92zM309.46 1200.97h12.92v8.58h-12.92zM387.01 1200.97h12.92v8.58h-12.92zM529.17 1200.97h25.85v8.58h-25.85zM632.57 1200.97h12.92v8.58h-12.92zM697.19 1200.97h38.77v8.58h-38.77zM800.58 1200.97h12.92v8.58h-12.92zM787.66 1209.55h12.92v8.58h-12.92zM852.28 1209.55h12.92v8.58h-12.92zM218.99 1218.13h12.92v8.58h-12.92zM335.31 1218.13h12.92v8.58h-12.92zM529.17 1218.13h12.92v8.58h-12.92zM723.04 1218.13h12.92v8.58h-12.92zM787.66 1218.13h38.77v8.58h-38.77zM244.84 1226.71h12.92v8.58h-12.92zM283.61 1226.71h12.92v8.58h-12.92zM154.37 1235.29h12.92v8.58h-12.92zM361.16 1235.29h12.92v8.58h-12.92zM412.86 1235.29h12.92v8.58h-12.92zM490.40 1235.29h12.92v8.58h-12.92zM774.73 1235.29h25.85v8.58h-25.85zM180.22 1243.88h12.92v8.58h-12.92zM257.77 1243.88h12.92v8.58h-12.92zM374.08 1243.88h12.92v8.58h-12.92zM490.40 1243.88h12.92v8.58h-12.92zM761.81 1243.88h38.77v8.58h-38.77zM878.13 1243.88h12.92v8.58h-12.92zM180.22 1252.46h12.92v8.58h-12.92zM322.39 1252.46h12.92v8.58h-12.92zM361.16 1252.46h12.92v8.58h-12.92zM412.86 1252.46h12.92v8.58h-12.92zM490.40 1252.46h12.92v8.58h-12.92zM438.70 1261.04h12.92v8.58h-12.92zM503.33 1261.04h12.92v8.58h-12.92zM257.77 1269.62h12.92v8.58h-12.92zM309.46 1269.62h12.92v8.58h-12.92zM335.31 1269.62h25.85v8.58h-25.85zM438.70 1269.62h12.92v8.58h-12.92zM503.33 1269.62h12.92v8.58h-12.92zM813.51 1269.62h12.92v8.58h-12.92zM438.70 1286.79h25.85v8.58h-25.85zM361.16 1295.37h12.92v8.58h-12.92zM387.01 1295.37h12.92v8.58h-12.92zM774.73 1295.37h25.85v8.58h-25.85zM839.35 1295.37h12.92v8.58h-12.92zM878.13 1295.37h12.92v8.58h-12.92zM374.08 1303.95h12.92v8.58h-12.92zM464.55 1303.95h25.85v8.58h-25.85zM800.58 1303.95h38.77v8.58h-38.77zM852.28 1303.95h25.85v8.58h-25.85zM115.60 1312.53h12.92v8.58h-12.92zM167.30 1312.53h25.85v8.58h-25.85zM387.01 1312.53h12.92v8.58h-12.92zM774.73 1312.53h25.85v8.58h-25.85zM839.35 1312.53h12.92v8.58h-12.92zM865.20 1312.53h25.85v8.58h-25.85zM774.73 1321.11h12.92v8.58h-12.92zM800.58 1321.11h12.92v8.58h-12.92zM826.43 1321.11h25.85v8.58h-25.85zM878.13 1321.11h12.92v8.58h-12.92zM296.54 1338.28h12.92v8.58h-12.92zM387.01 1338.28h12.92v8.58h-12.92zM412.86 1338.28h12.92v8.58h-12.92zM606.72 1338.28h12.92v8.58h-12.92zM774.73 1338.28h25.85v8.58h-25.85zM878.13 1338.28h12.92v8.58h-12.92zM322.39 1346.86h12.92v8.58h-12.92zM865.20 1346.86h12.92v8.58h-12.92zM193.15 1355.44h12.92v8.58h-12.92zM231.92 1355.44h12.92v8.58h-12.92zM322.39 1355.44h12.92v8.58h-12.92zM477.48 1355.44h12.92v8.58h-12.92zM761.81 1355.44h12.92v8.58h-12.92zM800.58 1355.44h12.92v8.58h-12.92zM852.28 1355.44h12.92v8.58h-12.92zM903.98 1355.44h12.92v8.58h-12.92zM193.15 1364.02h25.85v8.58h-25.85zM257.77 1364.02h12.92v8.58h-12.92zM710.11 1364.02h12.92v8.58h-12.92zM128.52 1372.61h25.85v8.58h-25.85zM180.22 1372.61h12.92v8.58h-12.92zM322.39 1372.61h12.92v8.58h-12.92zM387.01 1372.61h25.85v8.58h-25.85zM774.73 1372.61h25.85v8.58h-25.85zM852.28 1372.61h38.77v8.58h-38.77zM128.52 1381.19h64.62v8.58h-64.62zM270.69 1381.19h25.85v8.58h-25.85zM387.01 1381.19h12.92v8.58h-12.92zM761.81 1381.19h12.92v8.58h-12.92zM826.43 1381.19h12.92v8.58h-12.92zM865.20 1381.19h12.92v8.58h-12.92zM128.52 1389.77h12.92v8.58h-12.92zM154.37 1389.77h12.92v8.58h-12.92zM270.69 1389.77h12.92v8.58h-12.92zM322.39 1389.77h12.92v8.58h-12.92zM361.16 1389.77h12.92v8.58h-12.92zM387.01 1389.77h25.85v8.58h-25.85zM490.40 1389.77h12.92v8.58h-12.92zM800.58 1389.77h38.77v8.58h-38.77zM865.20 1389.77h12.92v8.58h-12.92zM128.52 1398.35h12.92v8.58h-12.92zM154.37 1398.35h12.92v8.58h-12.92zM270.69 1398.35h25.85v8.58h-25.85zM361.16 1398.35h12.92v8.58h-12.92zM387.01 1398.35h25.85v8.58h-25.85zM826.43 1398.35h25.85v8.58h-25.85zM865.20 1398.35h25.85v8.58h-25.85zM128.52 1406.93h38.77v8.58h-38.77zM180.22 1406.93h12.92v8.58h-12.92zM270.69 1406.93h25.85v8.58h-25.85zM361.16 1406.93h12.92v8.58h-12.92zM387.01 1406.93h25.85v8.58h-25.85zM813.51 1406.93h25.85v8.58h-25.85zM865.20 1406.93h25.85v8.58h-25.85zM128.52 1415.52h12.92v8.58h-12.92zM154.37 1415.52h12.92v8.58h-12.92zM180.22 1415.52h12.92v8.58h-12.92zM270.69 1415.52h25.85v8.58h-25.85zM361.16 1415.52h12.92v8.58h-12.92zM387.01 1415.52h25.85v8.58h-25.85zM761.81 1415.52h12.92v8.58h-12.92zM813.51 1415.52h25.85v8.58h-25.85zM865.20 1415.52h12.92v8.58h-12.92zM361.16 1424.10h12.92v8.58h-12.92zM399.93 1424.10h25.85v8.58h-25.85zM477.48 1424.10h12.92v8.58h-12.92zM813.51 1424.10h12.92v8.58h-12.92zM839.35 1424.10h12.92v8.58h-12.92zM865.20 1424.10h12.92v8.58h-12.92zM438.70 1432.68h12.92v8.58h-12.92zM503.33 1432.68h12.92v8.58h-12.92zM813.51 1432.68h12.92v8.58h-12.92zM839.35 1432.68h12.92v8.58h-12.92zM878.13 1432.68h12.92v8.58h-12.92zM206.07 1441.26h12.92v8.58h-12.92zM361.16 1441.26h12.92v8.58h-12.92zM477.48 1441.26h12.92v8.58h-12.92zM774.73 1441.26h12.92v8.58h-12.92zM244.84 1449.84h12.92v8.58h-12.92zM399.93 1449.84h25.85v8.58h-25.85zM477.48 1449.84h12.92v8.58h-12.92zM826.43 1449.84h12.92v8.58h-12.92zM865.20 1449.84h12.92v8.58h-12.92zM115.60 1458.43h12.92v8.58h-12.92zM154.37 1458.43h12.92v8.58h-12.92zM206.07 1458.43h12.92v8.58h-12.92zM361.16 1458.43h25.85v8.58h-25.85zM412.86 1458.43h12.92v8.58h-12.92zM477.48 1458.43h12.92v8.58h-12.92zM774.73 1458.43h25.85v8.58h-25.85zM283.61 1467.01h12.92v8.58h-12.92zM335.31 1467.01h12.92v8.58h-12.92zM399.93 1467.01h25.85v8.58h-25.85zM438.70 1467.01h12.92v8.58h-12.92zM477.48 1467.01h12.92v8.58h-12.92zM761.81 1467.01h12.92v8.58h-12.92zM813.51 1467.01h64.62v8.58h-64.62zM231.92 1475.59h12.92v8.58h-12.92zM399.93 1475.59h25.85v8.58h-25.85zM903.98 1475.59h12.92v8.58h-12.92zM115.60 1484.17h12.92v8.58h-12.92zM374.08 1484.17h12.92v8.58h-12.92zM399.93 1484.17h25.85v8.58h-25.85zM477.48 1484.17h12.92v8.58h-12.92zM774.73 1484.17h25.85v8.58h-25.85zM826.43 1484.17h25.85v8.58h-25.85zM865.20 1484.17h25.85v8.58h-25.85zM374.08 1492.75h12.92v8.58h-12.92zM399.93 1492.75h25.85v8.58h-25.85zM477.48 1492.75h12.92v8.58h-12.92zM774.73 1492.75h25.85v8.58h-25.85zM813.51 1492.75h12.92v8.58h-12.92zM839.35 1492.75h12.92v8.58h-12.92zM865.20 1492.75h12.92v8.58h-12.92zM374.08 1501.34h12.92v8.58h-12.92zM399.93 1501.34h25.85v8.58h-25.85zM477.48 1501.34h12.92v8.58h-12.92zM774.73 1501.34h25.85v8.58h-25.85zM813.51 1501.34h25.85v8.58h-25.85zM865.20 1501.34h12.92v8.58h-12.92zM167.30 1509.92h12.92v8.58h-12.92zM374.08 1509.92h12.92v8.58h-12.92zM399.93 1509.92h25.85v8.58h-25.85zM477.48 1509.92h12.92v8.58h-12.92zM774.73 1509.92h25.85v8.58h-25.85zM839.35 1509.92h12.92v8.58h-12.92zM865.20 1509.92h12.92v8.58h-12.92z"/><path fill="#fcd9c5" d="M567.95 660.30h12.92v8.58h-12.92zM645.49 660.30h51.70v8.58h-51.70zM852.28 660.30h12.92v8.58h-12.92zM878.13 660.30h12.92v8.58h-12.92zM555.02 668.88h25.85v8.58h-25.85zM658.42 668.88h38.77v8.58h-38.77zM723.04 668.88h12.92v8.58h-12.92zM748.89 668.88h12.92v8.58h-12.92zM852.28 668.88h12.92v8.58h-12.92zM878.13 668.88h12.92v8.58h-12.92zM567.95 677.46h12.92v8.58h-12.92zM684.26 677.46h12.92v8.58h-12.92zM723.04 677.46h12.92v8.58h-12.92zM748.89 677.46h12.92v8.58h-12.92zM852.28 677.46h12.92v8.58h-12.92zM878.13 677.46h12.92v8.58h-12.92zM542.10 686.05h38.77v8.58h-38.77zM645.49 686.05h51.70v8.58h-51.70zM723.04 686.05h12.92v8.58h-12.92zM748.89 686.05h12.92v8.58h-12.92zM774.73 686.05h12.92v8.58h-12.92zM852.28 686.05h12.92v8.58h-12.92zM878.13 686.05h12.92v8.58h-12.92zM542.10 694.63h12.92v8.58h-12.92zM567.95 694.63h12.92v8.58h-12.92zM645.49 694.63h51.70v8.58h-51.70zM748.89 694.63h12.92v8.58h-12.92zM852.28 694.63h25.85v8.58h-25.85zM542.10 703.21h38.77v8.58h-38.77zM645.49 703.21h38.77v8.58h-38.77zM852.28 703.21h12.92v8.58h-12.92zM878.13 703.21h12.92v8.58h-12.92zM671.34 711.79h12.92v8.58h-12.92zM735.96 711.79h25.85v8.58h-25.85zM852.28 711.79h12.92v8.58h-12.92zM878.13 711.79h12.92v8.58h-12.92zM555.02 720.37h25.85v8.58h-25.85zM645.49 720.37h51.70v8.58h-51.70zM723.04 720.37h12.92v8.58h-12.92zM878.13 720.37h12.92v8.58h-12.92zM542.10 728.96h25.85v8.58h-25.85zM645.49 728.96h38.77v8.58h-38.77zM774.73 728.96h12.92v8.58h-12.92zM852.28 728.96h12.92v8.58h-12.92zM878.13 728.96h12.92v8.58h-12.92zM645.49 737.54h38.77v8.58h-38.77zM748.89 737.54h12.92v8.58h-12.92zM878.13 737.54h12.92v8.58h-12.92zM645.49 746.12h51.70v8.58h-51.70zM710.11 746.12h12.92v8.58h-12.92zM748.89 746.12h12.92v8.58h-12.92zM852.28 746.12h12.92v8.58h-12.92zM878.13 746.12h12.92v8.58h-12.92zM555.02 754.70h12.92v8.58h-12.92zM645.49 754.70h51.70v8.58h-51.70zM852.28 754.70h12.92v8.58h-12.92zM542.10 763.28h38.77v8.58h-38.77zM658.42 763.28h12.92v8.58h-12.92zM684.26 763.28h12.92v8.58h-12.92zM723.04 763.28h12.92v8.58h-12.92zM839.35 763.28h25.85v8.58h-25.85zM335.31 771.87h12.92v8.58h-12.92zM464.55 771.87h12.92v8.58h-12.92zM542.10 771.87h12.92v8.58h-12.92zM619.64 771.87h12.92v8.58h-12.92zM645.49 771.87h12.92v8.58h-12.92zM761.81 771.87h12.92v8.58h-12.92zM335.31 780.45h12.92v8.58h-12.92zM464.55 780.45h12.92v8.58h-12.92zM516.25 780.45h12.92v8.58h-12.92zM542.10 780.45h12.92v8.58h-12.92zM619.64 780.45h12.92v8.58h-12.92zM645.49 780.45h12.92v8.58h-12.92zM697.19 780.45h12.92v8.58h-12.92zM761.81 780.45h12.92v8.58h-12.92zM154.37 789.03h12.92v8.58h-12.92zM529.17 789.03h12.92v8.58h-12.92zM761.81 789.03h12.92v8.58h-12.92zM865.20 789.03h12.92v8.58h-12.92zM903.98 789.03h12.92v8.58h-12.92zM645.49 797.61h12.92v8.58h-12.92zM761.81 797.61h12.92v8.58h-12.92zM826.43 797.61h12.92v8.58h-12.92zM865.20 797.61h12.92v8.58h-12.92zM903.98 797.61h12.92v8.58h-12.92zM335.31 806.19h12.92v8.58h-12.92zM529.17 806.19h12.92v8.58h-12.92zM761.81 806.19h12.92v8.58h-12.92zM826.43 806.19h12.92v8.58h-12.92zM464.55 814.78h12.92v8.58h-12.92zM516.25 814.78h25.85v8.58h-25.85zM761.81 814.78h12.92v8.58h-12.92zM826.43 814.78h12.92v8.58h-12.92zM348.24 831.94h12.92v8.58h-12.92zM296.54 840.52h12.92v8.58h-12.92zM580.87 840.52h12.92v8.58h-12.92zM826.43 840.52h12.92v8.58h-12.92zM671.34 849.10h12.92v8.58h-12.92zM632.57 857.69h12.92v8.58h-12.92zM671.34 857.69h12.92v8.58h-12.92zM697.19 857.69h12.92v8.58h-12.92zM761.81 857.69h12.92v8.58h-12.92zM787.66 857.69h12.92v8.58h-12.92zM852.28 857.69h12.92v8.58h-12.92zM878.13 857.69h12.92v8.58h-12.92zM555.02 866.27h12.92v8.58h-12.92zM632.57 866.27h12.92v8.58h-12.92zM697.19 866.27h12.92v8.58h-12.92zM735.96 866.27h12.92v8.58h-12.92zM761.81 866.27h12.92v8.58h-12.92zM852.28 866.27h12.92v8.58h-12.92zM891.05 866.27h12.92v8.58h-12.92zM697.19 874.85h12.92v8.58h-12.92zM735.96 874.85h12.92v8.58h-12.92zM761.81 874.85h12.92v8.58h-12.92zM852.28 874.85h12.92v8.58h-12.92zM878.13 874.85h12.92v8.58h-12.92zM555.02 883.43h25.85v8.58h-25.85zM645.49 883.43h12.92v8.58h-12.92zM865.20 883.43h12.92v8.58h-12.92zM438.70 892.01h38.77v8.58h-38.77zM542.10 892.01h12.92v8.58h-12.92zM606.72 892.01h12.92v8.58h-12.92zM658.42 892.01h12.92v8.58h-12.92zM710.11 892.01h12.92v8.58h-12.92zM735.96 892.01h12.92v8.58h-12.92zM774.73 892.01h12.92v8.58h-12.92zM826.43 892.01h12.92v8.58h-12.92zM878.13 892.01h12.92v8.58h-12.92zM296.54 900.60h12.92v8.58h-12.92zM555.02 900.60h12.92v8.58h-12.92zM774.73 900.60h12.92v8.58h-12.92zM852.28 900.60h12.92v8.58h-12.92zM903.98 900.60h12.92v8.58h-12.92zM322.39 909.18h12.92v8.58h-12.92zM542.10 909.18h12.92v8.58h-12.92zM606.72 909.18h12.92v8.58h-12.92zM697.19 909.18h12.92v8.58h-12.92zM813.51 909.18h12.92v8.58h-12.92zM516.25 917.76h12.92v8.58h-12.92zM555.02 917.76h25.85v8.58h-25.85zM593.80 917.76h38.77v8.58h-38.77zM839.35 917.76h12.92v8.58h-12.92zM878.13 917.76h12.92v8.58h-12.92zM270.69 926.34h12.92v8.58h-12.92zM555.02 926.34h12.92v8.58h-12.92zM580.87 926.34h25.85v8.58h-25.85zM632.57 926.34h25.85v8.58h-25.85zM684.26 926.34h25.85v8.58h-25.85zM761.81 926.34h12.92v8.58h-12.92zM800.58 926.34h12.92v8.58h-12.92zM852.28 926.34h38.77v8.58h-38.77zM322.39 934.92h12.92v8.58h-12.92zM555.02 934.92h25.85v8.58h-25.85zM619.64 934.92h12.92v8.58h-12.92zM748.89 934.92h25.85v8.58h-25.85zM839.35 934.92h25.85v8.58h-25.85zM244.84 943.51h12.92v8.58h-12.92zM270.69 943.51h12.92v8.58h-12.92zM374.08 943.51h12.92v8.58h-12.92zM399.93 943.51h12.92v8.58h-12.92zM490.40 943.51h25.85v8.58h-25.85zM193.15 952.09h12.92v8.58h-12.92zM257.77 952.09h12.92v8.58h-12.92zM335.31 952.09h12.92v8.58h-12.92zM374.08 952.09h38.77v8.58h-38.77zM464.55 952.09h12.92v8.58h-12.92zM645.49 952.09h12.92v8.58h-12.92zM193.15 960.67h25.85v8.58h-25.85zM257.77 960.67h12.92v8.58h-12.92zM335.31 960.67h12.92v8.58h-12.92zM464.55 960.67h12.92v8.58h-12.92zM490.40 960.67h12.92v8.58h-12.92zM244.84 969.25h25.85v8.58h-25.85zM387.01 969.25h12.92v8.58h-12.92zM477.48 969.25h12.92v8.58h-12.92zM697.19 969.25h12.92v8.58h-12.92zM826.43 969.25h12.92v8.58h-12.92zM167.30 977.83h12.92v8.58h-12.92zM348.24 977.83h12.92v8.58h-12.92zM374.08 977.83h12.92v8.58h-12.92zM399.93 977.83h12.92v8.58h-12.92zM503.33 977.83h12.92v8.58h-12.92zM710.11 977.83h12.92v8.58h-12.92zM826.43 977.83h12.92v8.58h-12.92zM878.13 977.83h12.92v8.58h-12.92zM257.77 986.42h12.92v8.58h-12.92zM335.31 986.42h12.92v8.58h-12.92zM399.93 986.42h12.92v8.58h-12.92zM503.33 986.42h12.92v8.58h-12.92zM839.35 986.42h12.92v8.58h-12.92zM335.31 995.00h12.92v8.58h-12.92zM374.08 995.00h12.92v8.58h-12.92zM399.93 995.00h25.85v8.58h-25.85zM451.63 995.00h12.92v8.58h-12.92zM490.40 995.00h25.85v8.58h-25.85zM697.19 995.00h25.85v8.58h-25.85zM839.35 995.00h12.92v8.58h-12.92zM154.37 1003.58h12.92v8.58h-12.92zM270.69 1003.58h12.92v8.58h-12.92zM348.24 1003.58h12.92v8.58h-12.92zM425.78 1003.58h12.92v8.58h-12.92zM490.40 1003.58h25.85v8.58h-25.85zM193.15 1012.16h12.92v8.58h-12.92zM270.69 1012.16h12.92v8.58h-12.92zM335.31 1012.16h12.92v8.58h-12.92zM464.55 1012.16h12.92v8.58h-12.92zM697.19 1012.16h25.85v8.58h-25.85zM865.20 1012.16h12.92v8.58h-12.92zM141.45 1020.74h12.92v8.58h-12.92zM167.30 1020.74h12.92v8.58h-12.92zM490.40 1020.74h12.92v8.58h-12.92zM697.19 1020.74h12.92v8.58h-12.92zM839.35 1020.74h12.92v8.58h-12.92zM361.16 1029.33h12.92v8.58h-12.92zM387.01 1029.33h12.92v8.58h-12.92zM464.55 1029.33h12.92v8.58h-12.92zM658.42 1029.33h12.92v8.58h-12.92zM244.84 1037.91h25.85v8.58h-25.85zM296.54 1037.91h12.92v8.58h-12.92zM438.70 1037.91h12.92v8.58h-12.92zM477.48 1037.91h12.92v8.58h-12.92zM839.35 1037.91h12.92v8.58h-12.92zM865.20 1037.91h12.92v8.58h-12.92zM374.08 1046.49h12.92v8.58h-12.92zM425.78 1046.49h12.92v8.58h-12.92zM503.33 1046.49h12.92v8.58h-12.92zM141.45 1055.07h12.92v8.58h-12.92zM244.84 1055.07h64.62v8.58h-64.62zM374.08 1055.07h12.92v8.58h-12.92zM399.93 1055.07h12.92v8.58h-12.92zM477.48 1055.07h12.92v8.58h-12.92zM826.43 1055.07h12.92v8.58h-12.92zM193.15 1063.65h25.85v8.58h-25.85zM244.84 1063.65h51.70v8.58h-51.70zM322.39 1063.65h12.92v8.58h-12.92zM361.16 1063.65h25.85v8.58h-25.85zM710.11 1063.65h12.92v8.58h-12.92zM839.35 1063.65h12.92v8.58h-12.92zM193.15 1072.24h12.92v8.58h-12.92zM218.99 1072.24h12.92v8.58h-12.92zM257.77 1072.24h12.92v8.58h-12.92zM283.61 1072.24h25.85v8.58h-25.85zM438.70 1072.24h12.92v8.58h-12.92zM464.55 1072.24h12.92v8.58h-12.92zM167.30 1080.82h12.92v8.58h-12.92zM193.15 1080.82h12.92v8.58h-12.92zM218.99 1080.82h12.92v8.58h-12.92zM283.61 1080.82h12.92v8.58h-12.92zM322.39 1080.82h25.85v8.58h-25.85zM412.86 1080.82h12.92v8.58h-12.92zM490.40 1080.82h12.92v8.58h-12.92zM516.25 1080.82h12.92v8.58h-12.92zM218.99 1089.40h12.92v8.58h-12.92zM322.39 1089.40h25.85v8.58h-25.85zM374.08 1089.40h12.92v8.58h-12.92zM451.63 1089.40h12.92v8.58h-12.92zM735.96 1089.40h12.92v8.58h-12.92zM335.31 1097.98h12.92v8.58h-12.92zM399.93 1097.98h12.92v8.58h-12.92zM425.78 1097.98h12.92v8.58h-12.92zM464.55 1097.98h12.92v8.58h-12.92zM516.25 1097.98h12.92v8.58h-12.92zM723.04 1097.98h12.92v8.58h-12.92zM193.15 1106.56h12.92v8.58h-12.92zM218.99 1106.56h12.92v8.58h-12.92zM257.77 1106.56h12.92v8.58h-12.92zM296.54 1106.56h12.92v8.58h-12.92zM322.39 1106.56h12.92v8.58h-12.92zM490.40 1106.56h12.92v8.58h-12.92zM839.35 1106.56h12.92v8.58h-12.92zM115.60 1115.15h12.92v8.58h-12.92zM206.07 1115.15h12.92v8.58h-12.92zM244.84 1115.15h12.92v8.58h-12.92zM257.77 1123.73h12.92v8.58h-12.92zM348.24 1123.73h51.70v8.58h-51.70zM477.48 1123.73h12.92v8.58h-12.92zM257.77 1132.31h12.92v8.58h-12.92zM348.24 1132.31h12.92v8.58h-12.92zM839.35 1132.31h12.92v8.58h-12.92zM865.20 1132.31h12.92v8.58h-12.92zM218.99 1140.89h12.92v8.58h-12.92zM257.77 1140.89h12.92v8.58h-12.92zM296.54 1140.89h12.92v8.58h-12.92zM322.39 1140.89h12.92v8.58h-12.92zM387.01 1140.89h12.92v8.58h-12.92zM503.33 1140.89h12.92v8.58h-12.92zM193.15 1149.47h12.92v8.58h-12.92zM257.77 1149.47h51.70v8.58h-51.70zM361.16 1149.47h12.92v8.58h-12.92zM399.93 1149.47h12.92v8.58h-12.92zM425.78 1149.47h12.92v8.58h-12.92zM231.92 1158.06h12.92v8.58h-12.92zM257.77 1158.06h25.85v8.58h-25.85zM309.46 1158.06h38.77v8.58h-38.77zM399.93 1158.06h12.92v8.58h-12.92zM438.70 1158.06h12.92v8.58h-12.92zM128.52 1166.64h12.92v8.58h-12.92zM218.99 1166.64h25.85v8.58h-25.85zM283.61 1166.64h25.85v8.58h-25.85zM425.78 1166.64h25.85v8.58h-25.85zM464.55 1166.64h12.92v8.58h-12.92zM490.40 1166.64h12.92v8.58h-12.92zM516.25 1166.64h12.92v8.58h-12.92zM619.64 1166.64h12.92v8.58h-12.92zM735.96 1166.64h12.92v8.58h-12.92zM787.66 1166.64h25.85v8.58h-25.85zM826.43 1166.64h12.92v8.58h-12.92zM852.28 1166.64h12.92v8.58h-12.92zM206.07 1175.22h12.92v8.58h-12.92zM244.84 1175.22h25.85v8.58h-25.85zM361.16 1175.22h12.92v8.58h-12.92zM387.01 1175.22h12.92v8.58h-12.92zM451.63 1175.22h51.70v8.58h-51.70zM774.73 1175.22h38.77v8.58h-38.77zM839.35 1175.22h12.92v8.58h-12.92zM206.07 1183.80h12.92v8.58h-12.92zM374.08 1183.80h12.92v8.58h-12.92zM425.78 1183.80h12.92v8.58h-12.92zM477.48 1183.80h25.85v8.58h-25.85zM697.19 1183.80h12.92v8.58h-12.92zM180.22 1192.38h12.92v8.58h-12.92zM412.86 1192.38h12.92v8.58h-12.92zM464.55 1192.38h25.85v8.58h-25.85zM193.15 1200.97h12.92v8.58h-12.92zM218.99 1200.97h12.92v8.58h-12.92zM244.84 1200.97h64.62v8.58h-64.62zM335.31 1200.97h12.92v8.58h-12.92zM374.08 1200.97h12.92v8.58h-12.92zM425.78 1200.97h12.92v8.58h-12.92zM464.55 1200.97h12.92v8.58h-12.92zM490.40 1200.97h12.92v8.58h-12.92zM555.02 1200.97h25.85v8.58h-25.85zM593.80 1200.97h12.92v8.58h-12.92zM735.96 1200.97h12.92v8.58h-12.92zM865.20 1200.97h12.92v8.58h-12.92zM283.61 1209.55h12.92v8.58h-12.92zM490.40 1209.55h12.92v8.58h-12.92zM555.02 1209.55h12.92v8.58h-12.92zM723.04 1209.55h12.92v8.58h-12.92zM748.89 1209.55h12.92v8.58h-12.92zM774.73 1209.55h12.92v8.58h-12.92zM231.92 1218.13h12.92v8.58h-12.92zM270.69 1218.13h12.92v8.58h-12.92zM322.39 1218.13h12.92v8.58h-12.92zM374.08 1218.13h12.92v8.58h-12.92zM464.55 1218.13h12.92v8.58h-12.92zM231.92 1226.71h12.92v8.58h-12.92zM361.16 1226.71h12.92v8.58h-12.92zM425.78 1226.71h12.92v8.58h-12.92zM503.33 1226.71h25.85v8.58h-25.85zM697.19 1226.71h12.92v8.58h-12.92zM852.28 1226.71h12.92v8.58h-12.92zM115.60 1235.29h12.92v8.58h-12.92zM167.30 1235.29h25.85v8.58h-25.85zM270.69 1235.29h12.92v8.58h-12.92zM309.46 1235.29h12.92v8.58h-12.92zM128.52 1243.88h12.92v8.58h-12.92zM231.92 1243.88h12.92v8.58h-12.92zM283.61 1243.88h12.92v8.58h-12.92zM387.01 1243.88h12.92v8.58h-12.92zM425.78 1243.88h12.92v8.58h-12.92zM451.63 1243.88h12.92v8.58h-12.92zM800.58 1243.88h25.85v8.58h-25.85zM128.52 1252.46h12.92v8.58h-12.92zM167.30 1252.46h12.92v8.58h-12.92zM244.84 1252.46h12.92v8.58h-12.92zM309.46 1252.46h12.92v8.58h-12.92zM374.08 1252.46h25.85v8.58h-25.85zM903.98 1252.46h12.92v8.58h-12.92zM206.07 1261.04h12.92v8.58h-12.92zM257.77 1261.04h12.92v8.58h-12.92zM283.61 1261.04h12.92v8.58h-12.92zM361.16 1261.04h12.92v8.58h-12.92zM387.01 1261.04h12.92v8.58h-12.92zM451.63 1261.04h12.92v8.58h-12.92zM154.37 1269.62h12.92v8.58h-12.92zM412.86 1269.62h12.92v8.58h-12.92zM852.28 1269.62h25.85v8.58h-25.85zM141.45 1278.20h12.92v8.58h-12.92zM206.07 1278.20h25.85v8.58h-25.85zM257.77 1278.20h12.92v8.58h-12.92zM309.46 1278.20h38.77v8.58h-38.77zM529.17 1278.20h12.92v8.58h-12.92zM555.02 1278.20h12.92v8.58h-12.92zM593.80 1278.20h12.92v8.58h-12.92zM619.64 1278.20h12.92v8.58h-12.92zM710.11 1278.20h12.92v8.58h-12.92zM813.51 1278.20h12.92v8.58h-12.92zM839.35 1278.20h12.92v8.58h-12.92zM206.07 1286.79h12.92v8.58h-12.92zM335.31 1286.79h12.92v8.58h-12.92zM374.08 1286.79h12.92v8.58h-12.92zM787.66 1286.79h12.92v8.58h-12.92zM813.51 1286.79h12.92v8.58h-12.92zM115.60 1295.37h12.92v8.58h-12.92zM180.22 1295.37h12.92v8.58h-12.92zM761.81 1295.37h12.92v8.58h-12.92zM813.51 1295.37h25.85v8.58h-25.85zM865.20 1295.37h12.92v8.58h-12.92zM335.31 1303.95h12.92v8.58h-12.92zM438.70 1303.95h12.92v8.58h-12.92zM490.40 1303.95h12.92v8.58h-12.92zM787.66 1303.95h12.92v8.58h-12.92zM878.13 1303.95h12.92v8.58h-12.92zM128.52 1312.53h38.77v8.58h-38.77zM270.69 1312.53h12.92v8.58h-12.92zM322.39 1312.53h12.92v8.58h-12.92zM361.16 1312.53h12.92v8.58h-12.92zM399.93 1312.53h38.77v8.58h-38.77zM490.40 1312.53h12.92v8.58h-12.92zM761.81 1312.53h12.92v8.58h-12.92zM800.58 1312.53h38.77v8.58h-38.77zM852.28 1312.53h12.92v8.58h-12.92zM115.60 1321.11h12.92v8.58h-12.92zM141.45 1321.11h12.92v8.58h-12.92zM231.92 1321.11h12.92v8.58h-12.92zM399.93 1321.11h12.92v8.58h-12.92zM438.70 1321.11h12.92v8.58h-12.92zM503.33 1321.11h12.92v8.58h-12.92zM813.51 1321.11h12.92v8.58h-12.92zM451.63 1329.70h12.92v8.58h-12.92zM477.48 1329.70h12.92v8.58h-12.92zM399.93 1338.28h12.92v8.58h-12.92zM438.70 1338.28h12.92v8.58h-12.92zM477.48 1338.28h12.92v8.58h-12.92zM761.81 1338.28h12.92v8.58h-12.92zM800.58 1338.28h77.55v8.58h-77.55zM128.52 1346.86h12.92v8.58h-12.92zM167.30 1346.86h12.92v8.58h-12.92zM231.92 1346.86h12.92v8.58h-12.92zM296.54 1346.86h25.85v8.58h-25.85zM399.93 1346.86h12.92v8.58h-12.92zM451.63 1346.86h12.92v8.58h-12.92zM542.10 1346.86h12.92v8.58h-12.92zM645.49 1346.86h12.92v8.58h-12.92zM774.73 1346.86h12.92v8.58h-12.92zM813.51 1346.86h12.92v8.58h-12.92zM852.28 1346.86h12.92v8.58h-12.92zM878.13 1346.86h12.92v8.58h-12.92zM218.99 1355.44h12.92v8.58h-12.92zM244.84 1355.44h12.92v8.58h-12.92zM296.54 1355.44h12.92v8.58h-12.92zM335.31 1355.44h12.92v8.58h-12.92zM399.93 1355.44h12.92v8.58h-12.92zM464.55 1355.44h12.92v8.58h-12.92zM503.33 1355.44h12.92v8.58h-12.92zM710.11 1355.44h12.92v8.58h-12.92zM774.73 1355.44h12.92v8.58h-12.92zM826.43 1355.44h12.92v8.58h-12.92zM865.20 1355.44h12.92v8.58h-12.92zM218.99 1364.02h12.92v8.58h-12.92zM296.54 1364.02h12.92v8.58h-12.92zM335.31 1364.02h12.92v8.58h-12.92zM361.16 1364.02h25.85v8.58h-25.85zM399.93 1364.02h12.92v8.58h-12.92zM425.78 1364.02h12.92v8.58h-12.92zM451.63 1364.02h12.92v8.58h-12.92zM477.48 1364.02h12.92v8.58h-12.92zM503.33 1364.02h12.92v8.58h-12.92zM826.43 1364.02h25.85v8.58h-25.85zM361.16 1372.61h12.92v8.58h-12.92zM412.86 1372.61h12.92v8.58h-12.92zM451.63 1372.61h12.92v8.58h-12.92zM761.81 1372.61h12.92v8.58h-12.92zM800.58 1372.61h25.85v8.58h-25.85zM257.77 1381.19h12.92v8.58h-12.92zM322.39 1381.19h12.92v8.58h-12.92zM361.16 1381.19h12.92v8.58h-12.92zM399.93 1381.19h38.77v8.58h-38.77zM490.40 1381.19h12.92v8.58h-12.92zM800.58 1381.19h12.92v8.58h-12.92zM852.28 1381.19h12.92v8.58h-12.92zM283.61 1389.77h12.92v8.58h-12.92zM412.86 1389.77h25.85v8.58h-25.85zM761.81 1389.77h12.92v8.58h-12.92zM852.28 1389.77h12.92v8.58h-12.92zM903.98 1389.77h12.92v8.58h-12.92zM322.39 1398.35h12.92v8.58h-12.92zM412.86 1398.35h25.85v8.58h-25.85zM490.40 1398.35h12.92v8.58h-12.92zM761.81 1398.35h12.92v8.58h-12.92zM800.58 1398.35h25.85v8.58h-25.85zM852.28 1398.35h12.92v8.58h-12.92zM257.77 1406.93h12.92v8.58h-12.92zM322.39 1406.93h12.92v8.58h-12.92zM412.86 1406.93h25.85v8.58h-25.85zM490.40 1406.93h12.92v8.58h-12.92zM761.81 1406.93h12.92v8.58h-12.92zM800.58 1406.93h12.92v8.58h-12.92zM852.28 1406.93h12.92v8.58h-12.92zM257.77 1415.52h12.92v8.58h-12.92zM322.39 1415.52h12.92v8.58h-12.92zM412.86 1415.52h25.85v8.58h-25.85zM490.40 1415.52h12.92v8.58h-12.92zM800.58 1415.52h12.92v8.58h-12.92zM852.28 1415.52h12.92v8.58h-12.92zM244.84 1424.10h25.85v8.58h-25.85zM761.81 1424.10h12.92v8.58h-12.92zM800.58 1424.10h12.92v8.58h-12.92zM878.13 1424.10h12.92v8.58h-12.92zM154.37 1432.68h12.92v8.58h-12.92zM257.77 1432.68h12.92v8.58h-12.92zM348.24 1432.68h38.77v8.58h-38.77zM761.81 1432.68h12.92v8.58h-12.92zM800.58 1432.68h12.92v8.58h-12.92zM115.60 1441.26h12.92v8.58h-12.92zM335.31 1441.26h12.92v8.58h-12.92zM374.08 1441.26h12.92v8.58h-12.92zM438.70 1441.26h12.92v8.58h-12.92zM787.66 1441.26h12.92v8.58h-12.92zM852.28 1441.26h12.92v8.58h-12.92zM878.13 1441.26h12.92v8.58h-12.92zM193.15 1449.84h12.92v8.58h-12.92zM348.24 1449.84h12.92v8.58h-12.92zM438.70 1449.84h12.92v8.58h-12.92zM490.40 1449.84h12.92v8.58h-12.92zM761.81 1449.84h12.92v8.58h-12.92zM800.58 1449.84h12.92v8.58h-12.92zM852.28 1449.84h12.92v8.58h-12.92zM270.69 1458.43h38.77v8.58h-38.77zM348.24 1458.43h12.92v8.58h-12.92zM464.55 1458.43h12.92v8.58h-12.92zM761.81 1458.43h12.92v8.58h-12.92zM813.51 1458.43h77.55v8.58h-77.55zM309.46 1467.01h12.92v8.58h-12.92zM348.24 1467.01h12.92v8.58h-12.92zM464.55 1467.01h12.92v8.58h-12.92zM490.40 1467.01h12.92v8.58h-12.92zM800.58 1467.01h12.92v8.58h-12.92zM903.98 1467.01h12.92v8.58h-12.92zM128.52 1475.59h12.92v8.58h-12.92zM244.84 1475.59h25.85v8.58h-25.85zM438.70 1475.59h12.92v8.58h-12.92zM477.48 1475.59h25.85v8.58h-25.85zM270.69 1484.17h12.92v8.58h-12.92zM438.70 1484.17h12.92v8.58h-12.92zM761.81 1484.17h12.92v8.58h-12.92zM813.51 1484.17h12.92v8.58h-12.92zM852.28 1484.17h12.92v8.58h-12.92zM115.60 1492.75h12.92v8.58h-12.92zM167.30 1492.75h12.92v8.58h-12.92zM270.69 1492.75h12.92v8.58h-12.92zM309.46 1492.75h12.92v8.58h-12.92zM335.31 1492.75h12.92v8.58h-12.92zM761.81 1492.75h12.92v8.58h-12.92zM826.43 1492.75h12.92v8.58h-12.92zM852.28 1492.75h12.92v8.58h-12.92zM903.98 1492.75h12.92v8.58h-12.92zM115.60 1501.34h12.92v8.58h-12.92zM167.30 1501.34h12.92v8.58h-12.92zM270.69 1501.34h12.92v8.58h-12.92zM309.46 1501.34h12.92v8.58h-12.92zM438.70 1501.34h12.92v8.58h-12.92zM761.81 1501.34h12.92v8.58h-12.92zM852.28 1501.34h12.92v8.58h-12.92zM115.60 1509.92h12.92v8.58h-12.92zM141.45 1509.92h12.92v8.58h-12.92zM270.69 1509.92h12.92v8.58h-12.92zM309.46 1509.92h12.92v8.58h-12.92zM438.70 1509.92h12.92v8.58h-12.92zM761.81 1509.92h12.92v8.58h-12.92zM800.58 1509.92h12.92v8.58h-12.92zM826.43 1509.92h12.92v8.58h-12.92z"/><path fill="#fac7a9" d="M606.72 660.30h25.85v8.58h-25.85zM710.11 660.30h12.92v8.58h-12.92zM735.96 660.30h38.77v8.58h-38.77zM826.43 660.30h25.85v8.58h-25.85zM606.72 668.88h25.85v8.58h-25.85zM710.11 668.88h12.92v8.58h-12.92zM735.96 668.88h12.92v8.58h-12.92zM761.81 668.88h25.85v8.58h-25.85zM826.43 668.88h25.85v8.58h-25.85zM593.80 677.46h38.77v8.58h-38.77zM710.11 677.46h12.92v8.58h-12.92zM735.96 677.46h12.92v8.58h-12.92zM761.81 677.46h25.85v8.58h-25.85zM826.43 677.46h25.85v8.58h-25.85zM619.64 686.05h12.92v8.58h-12.92zM710.11 686.05h12.92v8.58h-12.92zM735.96 686.05h12.92v8.58h-12.92zM761.81 686.05h12.92v8.58h-12.92zM826.43 686.05h25.85v8.58h-25.85zM606.72 694.63h12.92v8.58h-12.92zM710.11 694.63h12.92v8.58h-12.92zM735.96 694.63h12.92v8.58h-12.92zM761.81 694.63h12.92v8.58h-12.92zM800.58 694.63h12.92v8.58h-12.92zM826.43 694.63h25.85v8.58h-25.85zM593.80 703.21h38.77v8.58h-38.77zM710.11 703.21h64.62v8.58h-64.62zM826.43 703.21h25.85v8.58h-25.85zM606.72 711.79h12.92v8.58h-12.92zM684.26 711.79h12.92v8.58h-12.92zM710.11 711.79h12.92v8.58h-12.92zM761.81 711.79h12.92v8.58h-12.92zM813.51 711.79h38.77v8.58h-38.77zM542.10 720.37h12.92v8.58h-12.92zM593.80 720.37h25.85v8.58h-25.85zM710.11 720.37h12.92v8.58h-12.92zM735.96 720.37h25.85v8.58h-25.85zM826.43 720.37h25.85v8.58h-25.85zM606.72 728.96h25.85v8.58h-25.85zM710.11 728.96h25.85v8.58h-25.85zM748.89 728.96h25.85v8.58h-25.85zM787.66 728.96h12.92v8.58h-12.92zM826.43 728.96h25.85v8.58h-25.85zM542.10 737.54h12.92v8.58h-12.92zM593.80 737.54h25.85v8.58h-25.85zM684.26 737.54h12.92v8.58h-12.92zM710.11 737.54h12.92v8.58h-12.92zM735.96 737.54h12.92v8.58h-12.92zM761.81 737.54h25.85v8.58h-25.85zM800.58 737.54h12.92v8.58h-12.92zM826.43 737.54h25.85v8.58h-25.85zM542.10 746.12h12.92v8.58h-12.92zM593.80 746.12h25.85v8.58h-25.85zM735.96 746.12h12.92v8.58h-12.92zM761.81 746.12h25.85v8.58h-25.85zM839.35 746.12h12.92v8.58h-12.92zM542.10 754.70h12.92v8.58h-12.92zM593.80 754.70h38.77v8.58h-38.77zM710.11 754.70h12.92v8.58h-12.92zM735.96 754.70h51.70v8.58h-51.70zM800.58 754.70h12.92v8.58h-12.92zM826.43 754.70h25.85v8.58h-25.85zM593.80 763.28h25.85v8.58h-25.85zM645.49 763.28h12.92v8.58h-12.92zM671.34 763.28h12.92v8.58h-12.92zM710.11 763.28h12.92v8.58h-12.92zM735.96 763.28h38.77v8.58h-38.77zM813.51 763.28h25.85v8.58h-25.85zM438.70 771.87h12.92v8.58h-12.92zM529.17 771.87h12.92v8.58h-12.92zM567.95 771.87h12.92v8.58h-12.92zM723.04 771.87h25.85v8.58h-25.85zM800.58 771.87h38.77v8.58h-38.77zM903.98 771.87h12.92v8.58h-12.92zM438.70 780.45h12.92v8.58h-12.92zM529.17 780.45h12.92v8.58h-12.92zM567.95 780.45h12.92v8.58h-12.92zM606.72 780.45h12.92v8.58h-12.92zM723.04 780.45h25.85v8.58h-25.85zM787.66 780.45h51.70v8.58h-51.70zM852.28 780.45h12.92v8.58h-12.92zM891.05 780.45h25.85v8.58h-25.85zM464.55 789.03h12.92v8.58h-12.92zM516.25 789.03h12.92v8.58h-12.92zM567.95 789.03h12.92v8.58h-12.92zM606.72 789.03h12.92v8.58h-12.92zM684.26 789.03h12.92v8.58h-12.92zM735.96 789.03h12.92v8.58h-12.92zM774.73 789.03h25.85v8.58h-25.85zM813.51 789.03h12.92v8.58h-12.92zM839.35 789.03h25.85v8.58h-25.85zM891.05 789.03h12.92v8.58h-12.92zM335.31 797.61h12.92v8.58h-12.92zM516.25 797.61h25.85v8.58h-25.85zM567.95 797.61h12.92v8.58h-12.92zM723.04 797.61h25.85v8.58h-25.85zM774.73 797.61h12.92v8.58h-12.92zM800.58 797.61h25.85v8.58h-25.85zM839.35 797.61h25.85v8.58h-25.85zM516.25 806.19h12.92v8.58h-12.92zM567.95 806.19h12.92v8.58h-12.92zM606.72 806.19h25.85v8.58h-25.85zM723.04 806.19h25.85v8.58h-25.85zM774.73 806.19h12.92v8.58h-12.92zM813.51 806.19h12.92v8.58h-12.92zM852.28 806.19h12.92v8.58h-12.92zM903.98 806.19h12.92v8.58h-12.92zM335.31 814.78h12.92v8.58h-12.92zM567.95 814.78h12.92v8.58h-12.92zM606.72 814.78h12.92v8.58h-12.92zM684.26 814.78h12.92v8.58h-12.92zM723.04 814.78h25.85v8.58h-25.85zM774.73 814.78h12.92v8.58h-12.92zM800.58 814.78h25.85v8.58h-25.85zM852.28 814.78h12.92v8.58h-12.92zM891.05 814.78h25.85v8.58h-25.85zM529.17 823.36h25.85v8.58h-25.85zM567.95 823.36h12.92v8.58h-12.92zM645.49 823.36h12.92v8.58h-12.92zM684.26 823.36h12.92v8.58h-12.92zM748.89 823.36h12.92v8.58h-12.92zM516.25 831.94h38.77v8.58h-38.77zM567.95 831.94h38.77v8.58h-38.77zM645.49 831.94h12.92v8.58h-12.92zM671.34 831.94h25.85v8.58h-25.85zM710.11 831.94h12.92v8.58h-12.92zM748.89 831.94h12.92v8.58h-12.92zM503.33 840.52h12.92v8.58h-12.92zM529.17 840.52h12.92v8.58h-12.92zM555.02 840.52h25.85v8.58h-25.85zM593.80 840.52h12.92v8.58h-12.92zM684.26 840.52h12.92v8.58h-12.92zM891.05 840.52h25.85v8.58h-25.85zM516.25 849.10h38.77v8.58h-38.77zM567.95 849.10h25.85v8.58h-25.85zM684.26 849.10h12.92v8.58h-12.92zM542.10 857.69h51.70v8.58h-51.70zM735.96 857.69h12.92v8.58h-12.92zM800.58 857.69h12.92v8.58h-12.92zM891.05 857.69h12.92v8.58h-12.92zM567.95 866.27h12.92v8.58h-12.92zM800.58 866.27h12.92v8.58h-12.92zM567.95 874.85h12.92v8.58h-12.92zM800.58 874.85h12.92v8.58h-12.92zM891.05 874.85h12.92v8.58h-12.92zM542.10 883.43h12.92v8.58h-12.92zM606.72 883.43h12.92v8.58h-12.92zM658.42 883.43h38.77v8.58h-38.77zM710.11 883.43h25.85v8.58h-25.85zM748.89 883.43h12.92v8.58h-12.92zM826.43 883.43h25.85v8.58h-25.85zM580.87 892.01h12.92v8.58h-12.92zM748.89 892.01h25.85v8.58h-25.85zM839.35 892.01h25.85v8.58h-25.85zM529.17 900.60h12.92v8.58h-12.92zM593.80 900.60h25.85v8.58h-25.85zM658.42 900.60h12.92v8.58h-12.92zM761.81 900.60h12.92v8.58h-12.92zM787.66 900.60h64.62v8.58h-64.62zM891.05 900.60h12.92v8.58h-12.92zM257.77 909.18h12.92v8.58h-12.92zM425.78 909.18h12.92v8.58h-12.92zM529.17 909.18h12.92v8.58h-12.92zM567.95 909.18h25.85v8.58h-25.85zM619.64 909.18h51.70v8.58h-51.70zM684.26 909.18h12.92v8.58h-12.92zM774.73 909.18h12.92v8.58h-12.92zM529.17 917.76h25.85v8.58h-25.85zM580.87 917.76h12.92v8.58h-12.92zM645.49 917.76h64.62v8.58h-64.62zM761.81 917.76h12.92v8.58h-12.92zM787.66 917.76h12.92v8.58h-12.92zM813.51 917.76h12.92v8.58h-12.92zM852.28 917.76h25.85v8.58h-25.85zM891.05 917.76h25.85v8.58h-25.85zM374.08 926.34h12.92v8.58h-12.92zM516.25 926.34h12.92v8.58h-12.92zM606.72 926.34h12.92v8.58h-12.92zM658.42 926.34h25.85v8.58h-25.85zM735.96 926.34h12.92v8.58h-12.92zM774.73 926.34h12.92v8.58h-12.92zM813.51 926.34h12.92v8.58h-12.92zM839.35 926.34h12.92v8.58h-12.92zM891.05 926.34h12.92v8.58h-12.92zM516.25 934.92h12.92v8.58h-12.92zM645.49 934.92h12.92v8.58h-12.92zM671.34 934.92h12.92v8.58h-12.92zM735.96 934.92h12.92v8.58h-12.92zM774.73 934.92h25.85v8.58h-25.85zM141.45 943.51h25.85v8.58h-25.85zM257.77 943.51h12.92v8.58h-12.92zM412.86 943.51h25.85v8.58h-25.85zM464.55 943.51h12.92v8.58h-12.92zM710.11 943.51h12.92v8.58h-12.92zM141.45 952.09h25.85v8.58h-25.85zM309.46 952.09h12.92v8.58h-12.92zM412.86 952.09h25.85v8.58h-25.85zM503.33 952.09h12.92v8.58h-12.92zM167.30 960.67h25.85v8.58h-25.85zM244.84 960.67h12.92v8.58h-12.92zM348.24 960.67h38.77v8.58h-38.77zM412.86 960.67h25.85v8.58h-25.85zM451.63 960.67h12.92v8.58h-12.92zM477.48 960.67h12.92v8.58h-12.92zM128.52 969.25h51.70v8.58h-51.70zM335.31 969.25h12.92v8.58h-12.92zM361.16 969.25h25.85v8.58h-25.85zM399.93 969.25h12.92v8.58h-12.92zM451.63 969.25h12.92v8.58h-12.92zM490.40 969.25h12.92v8.58h-12.92zM723.04 969.25h12.92v8.58h-12.92zM141.45 977.83h25.85v8.58h-25.85zM180.22 977.83h12.92v8.58h-12.92zM309.46 977.83h12.92v8.58h-12.92zM335.31 977.83h12.92v8.58h-12.92zM387.01 977.83h12.92v8.58h-12.92zM451.63 977.83h12.92v8.58h-12.92zM839.35 977.83h12.92v8.58h-12.92zM141.45 986.42h12.92v8.58h-12.92zM167.30 986.42h25.85v8.58h-25.85zM374.08 986.42h12.92v8.58h-12.92zM425.78 986.42h12.92v8.58h-12.92zM464.55 986.42h12.92v8.58h-12.92zM141.45 995.00h12.92v8.58h-12.92zM167.30 995.00h25.85v8.58h-25.85zM270.69 995.00h12.92v8.58h-12.92zM425.78 995.00h12.92v8.58h-12.92zM464.55 995.00h25.85v8.58h-25.85zM141.45 1003.58h12.92v8.58h-12.92zM361.16 1003.58h38.77v8.58h-38.77zM477.48 1003.58h12.92v8.58h-12.92zM141.45 1012.16h12.92v8.58h-12.92zM180.22 1012.16h12.92v8.58h-12.92zM257.77 1012.16h12.92v8.58h-12.92zM374.08 1012.16h12.92v8.58h-12.92zM425.78 1012.16h12.92v8.58h-12.92zM477.48 1012.16h12.92v8.58h-12.92zM154.37 1020.74h12.92v8.58h-12.92zM180.22 1020.74h12.92v8.58h-12.92zM348.24 1020.74h12.92v8.58h-12.92zM374.08 1020.74h12.92v8.58h-12.92zM399.93 1020.74h12.92v8.58h-12.92zM425.78 1020.74h12.92v8.58h-12.92zM451.63 1020.74h12.92v8.58h-12.92zM477.48 1020.74h12.92v8.58h-12.92zM503.33 1020.74h12.92v8.58h-12.92zM128.52 1029.33h51.70v8.58h-51.70zM270.69 1029.33h12.92v8.58h-12.92zM309.46 1029.33h12.92v8.58h-12.92zM348.24 1029.33h12.92v8.58h-12.92zM425.78 1029.33h38.77v8.58h-38.77zM477.48 1029.33h25.85v8.58h-25.85zM180.22 1037.91h12.92v8.58h-12.92zM387.01 1037.91h25.85v8.58h-25.85zM451.63 1037.91h12.92v8.58h-12.92zM141.45 1046.49h12.92v8.58h-12.92zM438.70 1046.49h51.70v8.58h-51.70zM180.22 1055.07h12.92v8.58h-12.92zM335.31 1055.07h12.92v8.58h-12.92zM387.01 1055.07h12.92v8.58h-12.92zM412.86 1055.07h25.85v8.58h-25.85zM451.63 1055.07h25.85v8.58h-25.85zM503.33 1055.07h12.92v8.58h-12.92zM839.35 1055.07h12.92v8.58h-12.92zM141.45 1063.65h12.92v8.58h-12.92zM180.22 1063.65h12.92v8.58h-12.92zM348.24 1063.65h12.92v8.58h-12.92zM387.01 1063.65h12.92v8.58h-12.92zM412.86 1063.65h25.85v8.58h-25.85zM451.63 1063.65h38.77v8.58h-38.77zM180.22 1072.24h12.92v8.58h-12.92zM451.63 1072.24h12.92v8.58h-12.92zM503.33 1072.24h12.92v8.58h-12.92zM154.37 1080.82h12.92v8.58h-12.92zM296.54 1080.82h12.92v8.58h-12.92zM399.93 1080.82h12.92v8.58h-12.92zM425.78 1080.82h12.92v8.58h-12.92zM451.63 1080.82h12.92v8.58h-12.92zM813.51 1080.82h12.92v8.58h-12.92zM167.30 1089.40h12.92v8.58h-12.92zM283.61 1089.40h25.85v8.58h-25.85zM399.93 1089.40h12.92v8.58h-12.92zM425.78 1089.40h12.92v8.58h-12.92zM490.40 1089.40h12.92v8.58h-12.92zM813.51 1089.40h12.92v8.58h-12.92zM218.99 1097.98h12.92v8.58h-12.92zM283.61 1097.98h25.85v8.58h-25.85zM490.40 1097.98h25.85v8.58h-25.85zM167.30 1106.56h12.92v8.58h-12.92zM399.93 1106.56h12.92v8.58h-12.92zM425.78 1106.56h12.92v8.58h-12.92zM464.55 1106.56h12.92v8.58h-12.92zM503.33 1106.56h12.92v8.58h-12.92zM735.96 1106.56h12.92v8.58h-12.92zM193.15 1115.15h12.92v8.58h-12.92zM270.69 1115.15h12.92v8.58h-12.92zM335.31 1115.15h12.92v8.58h-12.92zM361.16 1115.15h12.92v8.58h-12.92zM387.01 1115.15h25.85v8.58h-25.85zM425.78 1115.15h25.85v8.58h-25.85zM490.40 1115.15h12.92v8.58h-12.92zM128.52 1123.73h12.92v8.58h-12.92zM180.22 1123.73h12.92v8.58h-12.92zM218.99 1123.73h12.92v8.58h-12.92zM270.69 1123.73h12.92v8.58h-12.92zM296.54 1123.73h12.92v8.58h-12.92zM490.40 1123.73h12.92v8.58h-12.92zM283.61 1132.31h25.85v8.58h-25.85zM438.70 1132.31h12.92v8.58h-12.92zM503.33 1132.31h12.92v8.58h-12.92zM270.69 1140.89h25.85v8.58h-25.85zM361.16 1140.89h25.85v8.58h-25.85zM374.08 1149.47h25.85v8.58h-25.85zM438.70 1149.47h12.92v8.58h-12.92zM477.48 1149.47h38.77v8.58h-38.77zM361.16 1158.06h38.77v8.58h-38.77zM477.48 1158.06h38.77v8.58h-38.77zM115.60 1166.64h12.92v8.58h-12.92zM154.37 1166.64h12.92v8.58h-12.92zM193.15 1166.64h25.85v8.58h-25.85zM244.84 1166.64h12.92v8.58h-12.92zM322.39 1166.64h25.85v8.58h-25.85zM361.16 1166.64h64.62v8.58h-64.62zM451.63 1166.64h12.92v8.58h-12.92zM477.48 1166.64h12.92v8.58h-12.92zM503.33 1166.64h12.92v8.58h-12.92zM774.73 1166.64h12.92v8.58h-12.92zM141.45 1175.22h12.92v8.58h-12.92zM167.30 1175.22h25.85v8.58h-25.85zM218.99 1175.22h12.92v8.58h-12.92zM270.69 1175.22h12.92v8.58h-12.92zM335.31 1175.22h12.92v8.58h-12.92zM374.08 1175.22h12.92v8.58h-12.92zM399.93 1175.22h12.92v8.58h-12.92zM425.78 1175.22h12.92v8.58h-12.92zM335.31 1183.80h12.92v8.58h-12.92zM412.86 1183.80h12.92v8.58h-12.92zM438.70 1183.80h12.92v8.58h-12.92zM464.55 1183.80h12.92v8.58h-12.92zM503.33 1183.80h12.92v8.58h-12.92zM115.60 1192.38h12.92v8.58h-12.92zM451.63 1192.38h12.92v8.58h-12.92zM490.40 1192.38h12.92v8.58h-12.92zM141.45 1200.97h12.92v8.58h-12.92zM167.30 1200.97h12.92v8.58h-12.92zM322.39 1200.97h12.92v8.58h-12.92zM399.93 1200.97h12.92v8.58h-12.92zM438.70 1200.97h12.92v8.58h-12.92zM477.48 1200.97h12.92v8.58h-12.92zM503.33 1200.97h25.85v8.58h-25.85zM128.52 1209.55h77.55v8.58h-77.55zM244.84 1209.55h25.85v8.58h-25.85zM296.54 1209.55h12.92v8.58h-12.92zM322.39 1209.55h25.85v8.58h-25.85zM361.16 1209.55h38.77v8.58h-38.77zM464.55 1209.55h12.92v8.58h-12.92zM115.60 1218.13h12.92v8.58h-12.92zM154.37 1218.13h25.85v8.58h-25.85zM193.15 1218.13h25.85v8.58h-25.85zM257.77 1218.13h12.92v8.58h-12.92zM296.54 1218.13h12.92v8.58h-12.92zM387.01 1218.13h25.85v8.58h-25.85zM451.63 1218.13h12.92v8.58h-12.92zM490.40 1218.13h12.92v8.58h-12.92zM115.60 1226.71h38.77v8.58h-38.77zM167.30 1226.71h12.92v8.58h-12.92zM296.54 1226.71h12.92v8.58h-12.92zM387.01 1226.71h12.92v8.58h-12.92zM412.86 1226.71h12.92v8.58h-12.92zM477.48 1226.71h12.92v8.58h-12.92zM723.04 1226.71h12.92v8.58h-12.92zM128.52 1235.29h12.92v8.58h-12.92zM322.39 1235.29h12.92v8.58h-12.92zM387.01 1235.29h25.85v8.58h-25.85zM438.70 1235.29h12.92v8.58h-12.92zM115.60 1243.88h12.92v8.58h-12.92zM167.30 1243.88h12.92v8.58h-12.92zM193.15 1243.88h12.92v8.58h-12.92zM270.69 1243.88h12.92v8.58h-12.92zM296.54 1243.88h12.92v8.58h-12.92zM335.31 1243.88h12.92v8.58h-12.92zM438.70 1243.88h12.92v8.58h-12.92zM115.60 1252.46h12.92v8.58h-12.92zM813.51 1252.46h12.92v8.58h-12.92zM115.60 1261.04h12.92v8.58h-12.92zM154.37 1261.04h12.92v8.58h-12.92zM270.69 1261.04h12.92v8.58h-12.92zM115.60 1269.62h12.92v8.58h-12.92zM167.30 1269.62h12.92v8.58h-12.92zM283.61 1269.62h25.85v8.58h-25.85zM374.08 1269.62h12.92v8.58h-12.92zM451.63 1269.62h25.85v8.58h-25.85zM903.98 1269.62h12.92v8.58h-12.92zM180.22 1278.20h12.92v8.58h-12.92zM296.54 1278.20h12.92v8.58h-12.92zM348.24 1278.20h38.77v8.58h-38.77zM399.93 1278.20h12.92v8.58h-12.92zM425.78 1278.20h51.70v8.58h-51.70zM490.40 1278.20h12.92v8.58h-12.92zM115.60 1286.79h25.85v8.58h-25.85zM180.22 1286.79h12.92v8.58h-12.92zM283.61 1286.79h25.85v8.58h-25.85zM399.93 1286.79h12.92v8.58h-12.92zM490.40 1286.79h12.92v8.58h-12.92zM903.98 1286.79h12.92v8.58h-12.92zM128.52 1295.37h25.85v8.58h-25.85zM257.77 1295.37h12.92v8.58h-12.92zM283.61 1295.37h12.92v8.58h-12.92zM322.39 1295.37h38.77v8.58h-38.77zM374.08 1295.37h12.92v8.58h-12.92zM399.93 1295.37h25.85v8.58h-25.85zM438.70 1295.37h12.92v8.58h-12.92zM490.40 1295.37h12.92v8.58h-12.92zM852.28 1295.37h12.92v8.58h-12.92zM193.15 1303.95h12.92v8.58h-12.92zM270.69 1303.95h25.85v8.58h-25.85zM309.46 1303.95h12.92v8.58h-12.92zM451.63 1303.95h12.92v8.58h-12.92zM839.35 1303.95h12.92v8.58h-12.92zM244.84 1312.53h25.85v8.58h-25.85zM283.61 1312.53h25.85v8.58h-25.85zM335.31 1312.53h12.92v8.58h-12.92zM374.08 1312.53h12.92v8.58h-12.92zM438.70 1312.53h25.85v8.58h-25.85zM503.33 1312.53h12.92v8.58h-12.92zM128.52 1321.11h12.92v8.58h-12.92zM167.30 1321.11h12.92v8.58h-12.92zM193.15 1321.11h25.85v8.58h-25.85zM257.77 1321.11h12.92v8.58h-12.92zM283.61 1321.11h25.85v8.58h-25.85zM322.39 1321.11h25.85v8.58h-25.85zM361.16 1321.11h25.85v8.58h-25.85zM451.63 1321.11h38.77v8.58h-38.77zM787.66 1321.11h12.92v8.58h-12.92zM865.20 1321.11h12.92v8.58h-12.92zM115.60 1329.70h12.92v8.58h-12.92zM167.30 1329.70h12.92v8.58h-12.92zM244.84 1329.70h12.92v8.58h-12.92zM270.69 1329.70h12.92v8.58h-12.92zM335.31 1329.70h12.92v8.58h-12.92zM361.16 1329.70h12.92v8.58h-12.92zM464.55 1329.70h12.92v8.58h-12.92zM774.73 1329.70h25.85v8.58h-25.85zM244.84 1338.28h25.85v8.58h-25.85zM335.31 1338.28h12.92v8.58h-12.92zM361.16 1338.28h12.92v8.58h-12.92zM464.55 1338.28h12.92v8.58h-12.92zM490.40 1338.28h25.85v8.58h-25.85zM903.98 1338.28h12.92v8.58h-12.92zM141.45 1346.86h25.85v8.58h-25.85zM218.99 1346.86h12.92v8.58h-12.92zM244.84 1346.86h25.85v8.58h-25.85zM283.61 1346.86h12.92v8.58h-12.92zM361.16 1346.86h25.85v8.58h-25.85zM412.86 1346.86h25.85v8.58h-25.85zM503.33 1346.86h12.92v8.58h-12.92zM800.58 1346.86h12.92v8.58h-12.92zM826.43 1346.86h12.92v8.58h-12.92zM115.60 1355.44h12.92v8.58h-12.92zM154.37 1355.44h25.85v8.58h-25.85zM206.07 1355.44h12.92v8.58h-12.92zM257.77 1355.44h38.77v8.58h-38.77zM309.46 1355.44h12.92v8.58h-12.92zM348.24 1355.44h12.92v8.58h-12.92zM374.08 1355.44h12.92v8.58h-12.92zM451.63 1355.44h12.92v8.58h-12.92zM490.40 1355.44h12.92v8.58h-12.92zM839.35 1355.44h12.92v8.58h-12.92zM878.13 1355.44h12.92v8.58h-12.92zM141.45 1364.02h51.70v8.58h-51.70zM270.69 1364.02h25.85v8.58h-25.85zM412.86 1364.02h12.92v8.58h-12.92zM464.55 1364.02h12.92v8.58h-12.92zM490.40 1364.02h12.92v8.58h-12.92zM244.84 1372.61h25.85v8.58h-25.85zM335.31 1372.61h12.92v8.58h-12.92zM374.08 1372.61h12.92v8.58h-12.92zM425.78 1372.61h12.92v8.58h-12.92zM477.48 1372.61h12.92v8.58h-12.92zM503.33 1372.61h12.92v8.58h-12.92zM826.43 1372.61h12.92v8.58h-12.92zM903.98 1372.61h12.92v8.58h-12.92zM244.84 1381.19h12.92v8.58h-12.92zM296.54 1381.19h12.92v8.58h-12.92zM335.31 1381.19h12.92v8.58h-12.92zM374.08 1381.19h12.92v8.58h-12.92zM438.70 1381.19h25.85v8.58h-25.85zM477.48 1381.19h12.92v8.58h-12.92zM503.33 1381.19h12.92v8.58h-12.92zM903.98 1381.19h12.92v8.58h-12.92zM244.84 1389.77h25.85v8.58h-25.85zM296.54 1389.77h12.92v8.58h-12.92zM335.31 1389.77h12.92v8.58h-12.92zM374.08 1389.77h12.92v8.58h-12.92zM438.70 1389.77h25.85v8.58h-25.85zM477.48 1389.77h12.92v8.58h-12.92zM503.33 1389.77h12.92v8.58h-12.92zM244.84 1398.35h25.85v8.58h-25.85zM296.54 1398.35h12.92v8.58h-12.92zM335.31 1398.35h12.92v8.58h-12.92zM374.08 1398.35h12.92v8.58h-12.92zM438.70 1398.35h25.85v8.58h-25.85zM477.48 1398.35h12.92v8.58h-12.92zM503.33 1398.35h12.92v8.58h-12.92zM903.98 1398.35h12.92v8.58h-12.92zM244.84 1406.93h12.92v8.58h-12.92zM296.54 1406.93h12.92v8.58h-12.92zM335.31 1406.93h12.92v8.58h-12.92zM374.08 1406.93h12.92v8.58h-12.92zM438.70 1406.93h12.92v8.58h-12.92zM477.48 1406.93h12.92v8.58h-12.92zM503.33 1406.93h12.92v8.58h-12.92zM903.98 1406.93h12.92v8.58h-12.92zM244.84 1415.52h12.92v8.58h-12.92zM296.54 1415.52h12.92v8.58h-12.92zM335.31 1415.52h12.92v8.58h-12.92zM374.08 1415.52h12.92v8.58h-12.92zM438.70 1415.52h12.92v8.58h-12.92zM477.48 1415.52h12.92v8.58h-12.92zM503.33 1415.52h12.92v8.58h-12.92zM903.98 1415.52h12.92v8.58h-12.92zM218.99 1424.10h12.92v8.58h-12.92zM270.69 1424.10h12.92v8.58h-12.92zM309.46 1424.10h12.92v8.58h-12.92zM335.31 1424.10h12.92v8.58h-12.92zM438.70 1424.10h12.92v8.58h-12.92zM464.55 1424.10h12.92v8.58h-12.92zM503.33 1424.10h12.92v8.58h-12.92zM852.28 1424.10h12.92v8.58h-12.92zM167.30 1432.68h12.92v8.58h-12.92zM244.84 1432.68h12.92v8.58h-12.92zM309.46 1432.68h12.92v8.58h-12.92zM335.31 1432.68h12.92v8.58h-12.92zM464.55 1432.68h12.92v8.58h-12.92zM852.28 1432.68h12.92v8.58h-12.92zM903.98 1432.68h12.92v8.58h-12.92zM270.69 1441.26h51.70v8.58h-51.70zM348.24 1441.26h12.92v8.58h-12.92zM464.55 1441.26h12.92v8.58h-12.92zM490.40 1441.26h25.85v8.58h-25.85zM826.43 1441.26h25.85v8.58h-25.85zM865.20 1441.26h12.92v8.58h-12.92zM903.98 1441.26h12.92v8.58h-12.92zM296.54 1449.84h25.85v8.58h-25.85zM464.55 1449.84h12.92v8.58h-12.92zM503.33 1449.84h12.92v8.58h-12.92zM903.98 1449.84h12.92v8.58h-12.92zM309.46 1458.43h12.92v8.58h-12.92zM335.31 1458.43h12.92v8.58h-12.92zM490.40 1458.43h25.85v8.58h-25.85zM800.58 1458.43h12.92v8.58h-12.92zM903.98 1458.43h12.92v8.58h-12.92zM141.45 1467.01h12.92v8.58h-12.92zM296.54 1467.01h12.92v8.58h-12.92zM451.63 1467.01h12.92v8.58h-12.92zM141.45 1475.59h12.92v8.58h-12.92zM180.22 1475.59h12.92v8.58h-12.92zM270.69 1475.59h12.92v8.58h-12.92zM296.54 1475.59h12.92v8.58h-12.92zM322.39 1475.59h25.85v8.58h-25.85zM374.08 1475.59h12.92v8.58h-12.92zM503.33 1475.59h12.92v8.58h-12.92zM141.45 1484.17h12.92v8.58h-12.92zM218.99 1484.17h12.92v8.58h-12.92zM283.61 1484.17h38.77v8.58h-38.77zM335.31 1484.17h12.92v8.58h-12.92zM800.58 1484.17h12.92v8.58h-12.92zM903.98 1484.17h12.92v8.58h-12.92zM141.45 1492.75h12.92v8.58h-12.92zM283.61 1492.75h25.85v8.58h-25.85zM464.55 1492.75h12.92v8.58h-12.92zM490.40 1492.75h12.92v8.58h-12.92zM800.58 1492.75h12.92v8.58h-12.92zM141.45 1501.34h12.92v8.58h-12.92zM283.61 1501.34h25.85v8.58h-25.85zM335.31 1501.34h12.92v8.58h-12.92zM464.55 1501.34h12.92v8.58h-12.92zM490.40 1501.34h12.92v8.58h-12.92zM800.58 1501.34h12.92v8.58h-12.92zM903.98 1501.34h12.92v8.58h-12.92zM283.61 1509.92h25.85v8.58h-25.85zM464.55 1509.92h12.92v8.58h-12.92zM490.40 1509.92h12.92v8.58h-12.92zM852.28 1509.92h12.92v8.58h-12.92zM903.98 1509.92h12.92v8.58h-12.92z"/><path fill="#f6ad88" d="M593.80 660.30h12.92v8.58h-12.92zM632.57 660.30h12.92v8.58h-12.92zM697.19 660.30h12.92v8.58h-12.92zM787.66 660.30h38.77v8.58h-38.77zM593.80 668.88h12.92v8.58h-12.92zM632.57 668.88h12.92v8.58h-12.92zM697.19 668.88h12.92v8.58h-12.92zM787.66 668.88h38.77v8.58h-38.77zM632.57 677.46h12.92v8.58h-12.92zM697.19 677.46h12.92v8.58h-12.92zM787.66 677.46h38.77v8.58h-38.77zM593.80 686.05h25.85v8.58h-25.85zM800.58 686.05h12.92v8.58h-12.92zM593.80 694.63h12.92v8.58h-12.92zM619.64 694.63h25.85v8.58h-25.85zM697.19 694.63h12.92v8.58h-12.92zM813.51 694.63h12.92v8.58h-12.92zM632.57 703.21h12.92v8.58h-12.92zM813.51 703.21h12.92v8.58h-12.92zM580.87 711.79h12.92v8.58h-12.92zM632.57 711.79h12.92v8.58h-12.92zM697.19 711.79h12.92v8.58h-12.92zM774.73 711.79h12.92v8.58h-12.92zM619.64 720.37h25.85v8.58h-25.85zM697.19 720.37h12.92v8.58h-12.92zM787.66 720.37h38.77v8.58h-38.77zM580.87 728.96h25.85v8.58h-25.85zM632.57 728.96h12.92v8.58h-12.92zM697.19 728.96h12.92v8.58h-12.92zM800.58 728.96h25.85v8.58h-25.85zM580.87 737.54h12.92v8.58h-12.92zM632.57 737.54h12.92v8.58h-12.92zM787.66 737.54h12.92v8.58h-12.92zM813.51 737.54h12.92v8.58h-12.92zM619.64 746.12h25.85v8.58h-25.85zM697.19 746.12h12.92v8.58h-12.92zM787.66 746.12h38.77v8.58h-38.77zM632.57 754.70h12.92v8.58h-12.92zM697.19 754.70h12.92v8.58h-12.92zM787.66 754.70h12.92v8.58h-12.92zM813.51 754.70h12.92v8.58h-12.92zM580.87 763.28h12.92v8.58h-12.92zM619.64 763.28h25.85v8.58h-25.85zM697.19 763.28h12.92v8.58h-12.92zM787.66 763.28h25.85v8.58h-25.85zM555.02 771.87h12.92v8.58h-12.92zM593.80 771.87h25.85v8.58h-25.85zM684.26 771.87h12.92v8.58h-12.92zM787.66 771.87h12.92v8.58h-12.92zM891.05 771.87h12.92v8.58h-12.92zM593.80 780.45h12.92v8.58h-12.92zM684.26 780.45h12.92v8.58h-12.92zM839.35 780.45h12.92v8.58h-12.92zM335.31 789.03h12.92v8.58h-12.92zM542.10 789.03h12.92v8.58h-12.92zM593.80 789.03h12.92v8.58h-12.92zM619.64 789.03h12.92v8.58h-12.92zM671.34 789.03h12.92v8.58h-12.92zM723.04 789.03h12.92v8.58h-12.92zM800.58 789.03h12.92v8.58h-12.92zM438.70 797.61h12.92v8.58h-12.92zM542.10 797.61h25.85v8.58h-25.85zM593.80 797.61h38.77v8.58h-38.77zM658.42 797.61h38.77v8.58h-38.77zM787.66 797.61h12.92v8.58h-12.92zM891.05 797.61h12.92v8.58h-12.92zM438.70 806.19h12.92v8.58h-12.92zM542.10 806.19h25.85v8.58h-25.85zM593.80 806.19h12.92v8.58h-12.92zM658.42 806.19h38.77v8.58h-38.77zM787.66 806.19h25.85v8.58h-25.85zM891.05 806.19h12.92v8.58h-12.92zM438.70 814.78h12.92v8.58h-12.92zM555.02 814.78h12.92v8.58h-12.92zM619.64 814.78h12.92v8.58h-12.92zM658.42 814.78h25.85v8.58h-25.85zM787.66 814.78h12.92v8.58h-12.92zM839.35 814.78h12.92v8.58h-12.92zM516.25 823.36h12.92v8.58h-12.92zM555.02 823.36h12.92v8.58h-12.92zM580.87 823.36h25.85v8.58h-25.85zM619.64 823.36h12.92v8.58h-12.92zM658.42 823.36h25.85v8.58h-25.85zM710.11 823.36h38.77v8.58h-38.77zM891.05 823.36h12.92v8.58h-12.92zM555.02 831.94h12.92v8.58h-12.92zM606.72 831.94h25.85v8.58h-25.85zM658.42 831.94h12.92v8.58h-12.92zM723.04 831.94h25.85v8.58h-25.85zM891.05 831.94h12.92v8.58h-12.92zM516.25 840.52h12.92v8.58h-12.92zM606.72 840.52h25.85v8.58h-25.85zM658.42 840.52h12.92v8.58h-12.92zM735.96 840.52h25.85v8.58h-25.85zM555.02 849.10h12.92v8.58h-12.92zM593.80 849.10h12.92v8.58h-12.92zM619.64 849.10h25.85v8.58h-25.85zM658.42 849.10h12.92v8.58h-12.92zM735.96 849.10h25.85v8.58h-25.85zM658.42 857.69h12.92v8.58h-12.92zM710.11 857.69h25.85v8.58h-25.85zM748.89 857.69h12.92v8.58h-12.92zM813.51 857.69h12.92v8.58h-12.92zM865.20 857.69h12.92v8.58h-12.92zM903.98 857.69h12.92v8.58h-12.92zM542.10 866.27h12.92v8.58h-12.92zM580.87 866.27h12.92v8.58h-12.92zM658.42 866.27h12.92v8.58h-12.92zM723.04 866.27h12.92v8.58h-12.92zM748.89 866.27h12.92v8.58h-12.92zM865.20 866.27h12.92v8.58h-12.92zM542.10 874.85h12.92v8.58h-12.92zM580.87 874.85h12.92v8.58h-12.92zM658.42 874.85h12.92v8.58h-12.92zM723.04 874.85h12.92v8.58h-12.92zM748.89 874.85h12.92v8.58h-12.92zM865.20 874.85h12.92v8.58h-12.92zM903.98 874.85h12.92v8.58h-12.92zM593.80 883.43h12.92v8.58h-12.92zM619.64 883.43h12.92v8.58h-12.92zM735.96 883.43h12.92v8.58h-12.92zM761.81 883.43h12.92v8.58h-12.92zM593.80 892.01h12.92v8.58h-12.92zM619.64 892.01h25.85v8.58h-25.85zM813.51 892.01h12.92v8.58h-12.92zM632.57 900.60h12.92v8.58h-12.92zM671.34 900.60h12.92v8.58h-12.92zM735.96 900.60h12.92v8.58h-12.92zM270.69 909.18h12.92v8.58h-12.92zM735.96 909.18h12.92v8.58h-12.92zM787.66 909.18h12.92v8.58h-12.92zM826.43 909.18h12.92v8.58h-12.92zM852.28 909.18h12.92v8.58h-12.92zM710.11 917.76h12.92v8.58h-12.92zM748.89 917.76h12.92v8.58h-12.92zM826.43 917.76h12.92v8.58h-12.92zM529.17 926.34h12.92v8.58h-12.92zM787.66 926.34h12.92v8.58h-12.92zM903.98 926.34h12.92v8.58h-12.92zM270.69 934.92h12.92v8.58h-12.92zM529.17 934.92h25.85v8.58h-25.85zM710.11 934.92h12.92v8.58h-12.92zM813.51 934.92h12.92v8.58h-12.92zM865.20 934.92h12.92v8.58h-12.92zM180.22 943.51h12.92v8.58h-12.92zM348.24 943.51h12.92v8.58h-12.92zM451.63 943.51h12.92v8.58h-12.92zM477.48 943.51h12.92v8.58h-12.92zM141.45 960.67h25.85v8.58h-25.85zM387.01 960.67h12.92v8.58h-12.92zM438.70 960.67h12.92v8.58h-12.92zM180.22 969.25h12.92v8.58h-12.92zM425.78 969.25h25.85v8.58h-25.85zM464.55 969.25h12.92v8.58h-12.92zM412.86 977.83h25.85v8.58h-25.85zM464.55 977.83h25.85v8.58h-25.85zM154.37 986.42h12.92v8.58h-12.92zM348.24 986.42h12.92v8.58h-12.92zM387.01 986.42h12.92v8.58h-12.92zM412.86 986.42h12.92v8.58h-12.92zM451.63 986.42h12.92v8.58h-12.92zM477.48 986.42h12.92v8.58h-12.92zM128.52 995.00h12.92v8.58h-12.92zM154.37 995.00h12.92v8.58h-12.92zM348.24 995.00h12.92v8.58h-12.92zM387.01 995.00h12.92v8.58h-12.92zM180.22 1003.58h12.92v8.58h-12.92zM257.77 1003.58h12.92v8.58h-12.92zM399.93 1003.58h25.85v8.58h-25.85zM438.70 1003.58h25.85v8.58h-25.85zM412.86 1012.16h12.92v8.58h-12.92zM451.63 1012.16h12.92v8.58h-12.92zM412.86 1020.74h12.92v8.58h-12.92zM438.70 1020.74h12.92v8.58h-12.92zM180.22 1029.33h12.92v8.58h-12.92zM374.08 1029.33h12.92v8.58h-12.92zM412.86 1029.33h12.92v8.58h-12.92zM141.45 1037.91h12.92v8.58h-12.92zM270.69 1037.91h12.92v8.58h-12.92zM348.24 1037.91h12.92v8.58h-12.92zM425.78 1037.91h12.92v8.58h-12.92zM464.55 1037.91h12.92v8.58h-12.92zM128.52 1046.49h12.92v8.58h-12.92zM167.30 1046.49h25.85v8.58h-25.85zM412.86 1046.49h12.92v8.58h-12.92zM128.52 1055.07h12.92v8.58h-12.92zM154.37 1055.07h25.85v8.58h-25.85zM348.24 1055.07h12.92v8.58h-12.92zM438.70 1055.07h12.92v8.58h-12.92zM154.37 1063.65h25.85v8.58h-25.85zM141.45 1072.24h12.92v8.58h-12.92zM167.30 1072.24h12.92v8.58h-12.92zM477.48 1072.24h12.92v8.58h-12.92zM128.52 1080.82h25.85v8.58h-25.85zM503.33 1080.82h12.92v8.58h-12.92zM154.37 1089.40h12.92v8.58h-12.92zM503.33 1089.40h12.92v8.58h-12.92zM128.52 1097.98h38.77v8.58h-38.77zM180.22 1097.98h12.92v8.58h-12.92zM451.63 1097.98h12.92v8.58h-12.92zM477.48 1097.98h12.92v8.58h-12.92zM128.52 1106.56h38.77v8.58h-38.77zM451.63 1106.56h12.92v8.58h-12.92zM477.48 1106.56h12.92v8.58h-12.92zM167.30 1115.15h25.85v8.58h-25.85zM218.99 1115.15h12.92v8.58h-12.92zM283.61 1115.15h12.92v8.58h-12.92zM348.24 1115.15h12.92v8.58h-12.92zM477.48 1115.15h12.92v8.58h-12.92zM167.30 1123.73h12.92v8.58h-12.92zM283.61 1123.73h12.92v8.58h-12.92zM451.63 1123.73h12.92v8.58h-12.92zM167.30 1132.31h25.85v8.58h-25.85zM218.99 1132.31h12.92v8.58h-12.92zM451.63 1132.31h12.92v8.58h-12.92zM477.48 1132.31h25.85v8.58h-25.85zM128.52 1140.89h12.92v8.58h-12.92zM167.30 1140.89h25.85v8.58h-25.85zM348.24 1140.89h12.92v8.58h-12.92zM451.63 1140.89h12.92v8.58h-12.92zM490.40 1140.89h12.92v8.58h-12.92zM128.52 1149.47h64.62v8.58h-64.62zM348.24 1149.47h12.92v8.58h-12.92zM451.63 1149.47h12.92v8.58h-12.92zM128.52 1158.06h12.92v8.58h-12.92zM154.37 1158.06h38.77v8.58h-38.77zM451.63 1158.06h12.92v8.58h-12.92zM180.22 1166.64h12.92v8.58h-12.92zM270.69 1166.64h12.92v8.58h-12.92zM128.52 1175.22h12.92v8.58h-12.92zM154.37 1175.22h12.92v8.58h-12.92zM412.86 1175.22h12.92v8.58h-12.92zM438.70 1175.22h12.92v8.58h-12.92zM128.52 1183.80h12.92v8.58h-12.92zM167.30 1183.80h25.85v8.58h-25.85zM387.01 1183.80h12.92v8.58h-12.92zM309.46 1192.38h12.92v8.58h-12.92zM115.60 1200.97h25.85v8.58h-25.85zM154.37 1200.97h12.92v8.58h-12.92zM180.22 1200.97h12.92v8.58h-12.92zM206.07 1209.55h12.92v8.58h-12.92zM309.46 1209.55h12.92v8.58h-12.92zM348.24 1209.55h12.92v8.58h-12.92zM399.93 1209.55h12.92v8.58h-12.92zM451.63 1209.55h12.92v8.58h-12.92zM503.33 1209.55h12.92v8.58h-12.92zM128.52 1218.13h25.85v8.58h-25.85zM348.24 1218.13h25.85v8.58h-25.85zM425.78 1218.13h12.92v8.58h-12.92zM477.48 1218.13h12.92v8.58h-12.92zM257.77 1226.71h12.92v8.58h-12.92zM335.31 1226.71h25.85v8.58h-25.85zM490.40 1226.71h12.92v8.58h-12.92zM335.31 1235.29h12.92v8.58h-12.92zM425.78 1235.29h12.92v8.58h-12.92zM412.86 1243.88h12.92v8.58h-12.92zM503.33 1243.88h12.92v8.58h-12.92zM270.69 1252.46h12.92v8.58h-12.92zM399.93 1252.46h12.92v8.58h-12.92zM425.78 1252.46h12.92v8.58h-12.92zM451.63 1252.46h12.92v8.58h-12.92zM503.33 1252.46h12.92v8.58h-12.92zM296.54 1261.04h12.92v8.58h-12.92zM425.78 1261.04h12.92v8.58h-12.92zM490.40 1261.04h12.92v8.58h-12.92zM128.52 1269.62h12.92v8.58h-12.92zM244.84 1269.62h12.92v8.58h-12.92zM387.01 1269.62h12.92v8.58h-12.92zM425.78 1269.62h12.92v8.58h-12.92zM477.48 1269.62h12.92v8.58h-12.92zM115.60 1278.20h12.92v8.58h-12.92zM193.15 1278.20h12.92v8.58h-12.92zM244.84 1278.20h12.92v8.58h-12.92zM283.61 1278.20h12.92v8.58h-12.92zM412.86 1278.20h12.92v8.58h-12.92zM477.48 1278.20h12.92v8.58h-12.92zM503.33 1278.20h12.92v8.58h-12.92zM800.58 1278.20h12.92v8.58h-12.92zM257.77 1286.79h12.92v8.58h-12.92zM309.46 1286.79h12.92v8.58h-12.92zM477.48 1286.79h12.92v8.58h-12.92zM218.99 1295.37h12.92v8.58h-12.92zM244.84 1295.37h12.92v8.58h-12.92zM296.54 1295.37h12.92v8.58h-12.92zM477.48 1295.37h12.92v8.58h-12.92zM503.33 1295.37h12.92v8.58h-12.92zM141.45 1303.95h12.92v8.58h-12.92zM218.99 1303.95h12.92v8.58h-12.92zM257.77 1303.95h12.92v8.58h-12.92zM296.54 1303.95h12.92v8.58h-12.92zM503.33 1303.95h12.92v8.58h-12.92zM761.81 1303.95h12.92v8.58h-12.92zM903.98 1303.95h12.92v8.58h-12.92zM218.99 1312.53h12.92v8.58h-12.92zM903.98 1312.53h12.92v8.58h-12.92zM244.84 1321.11h12.92v8.58h-12.92zM387.01 1321.11h12.92v8.58h-12.92zM490.40 1321.11h12.92v8.58h-12.92zM852.28 1321.11h12.92v8.58h-12.92zM218.99 1329.70h12.92v8.58h-12.92zM257.77 1329.70h12.92v8.58h-12.92zM283.61 1329.70h12.92v8.58h-12.92zM490.40 1329.70h25.85v8.58h-25.85zM761.81 1329.70h12.92v8.58h-12.92zM865.20 1329.70h12.92v8.58h-12.92zM115.60 1338.28h12.92v8.58h-12.92zM141.45 1338.28h12.92v8.58h-12.92zM167.30 1338.28h12.92v8.58h-12.92zM193.15 1338.28h12.92v8.58h-12.92zM218.99 1338.28h12.92v8.58h-12.92zM270.69 1338.28h25.85v8.58h-25.85zM115.60 1346.86h12.92v8.58h-12.92zM206.07 1346.86h12.92v8.58h-12.92zM270.69 1346.86h12.92v8.58h-12.92zM335.31 1346.86h12.92v8.58h-12.92zM438.70 1346.86h12.92v8.58h-12.92zM464.55 1346.86h12.92v8.58h-12.92zM141.45 1355.44h12.92v8.58h-12.92zM180.22 1355.44h12.92v8.58h-12.92zM361.16 1355.44h12.92v8.58h-12.92zM387.01 1355.44h12.92v8.58h-12.92zM348.24 1364.02h12.92v8.58h-12.92zM387.01 1364.02h12.92v8.58h-12.92zM218.99 1372.61h25.85v8.58h-25.85zM218.99 1381.19h25.85v8.58h-25.85zM218.99 1389.77h25.85v8.58h-25.85zM218.99 1398.35h25.85v8.58h-25.85zM218.99 1406.93h25.85v8.58h-25.85zM451.63 1406.93h12.92v8.58h-12.92zM218.99 1415.52h25.85v8.58h-25.85zM451.63 1415.52h12.92v8.58h-12.92zM141.45 1424.10h12.92v8.58h-12.92zM206.07 1424.10h12.92v8.58h-12.92zM296.54 1424.10h12.92v8.58h-12.92zM451.63 1424.10h12.92v8.58h-12.92zM490.40 1424.10h12.92v8.58h-12.92zM903.98 1424.10h12.92v8.58h-12.92zM115.60 1432.68h12.92v8.58h-12.92zM141.45 1432.68h12.92v8.58h-12.92zM193.15 1432.68h12.92v8.58h-12.92zM218.99 1432.68h12.92v8.58h-12.92zM141.45 1441.26h12.92v8.58h-12.92zM244.84 1441.26h12.92v8.58h-12.92zM141.45 1449.84h12.92v8.58h-12.92zM206.07 1449.84h12.92v8.58h-12.92zM451.63 1449.84h12.92v8.58h-12.92zM141.45 1458.43h12.92v8.58h-12.92zM193.15 1458.43h12.92v8.58h-12.92zM244.84 1458.43h25.85v8.58h-25.85zM206.07 1467.01h12.92v8.58h-12.92zM193.15 1475.59h12.92v8.58h-12.92zM218.99 1475.59h12.92v8.58h-12.92zM283.61 1475.59h12.92v8.58h-12.92zM451.63 1475.59h25.85v8.58h-25.85zM244.84 1484.17h25.85v8.58h-25.85zM464.55 1484.17h12.92v8.58h-12.92zM490.40 1484.17h25.85v8.58h-25.85zM244.84 1492.75h25.85v8.58h-25.85zM503.33 1492.75h12.92v8.58h-12.92zM244.84 1501.34h25.85v8.58h-25.85zM503.33 1501.34h12.92v8.58h-12.92zM206.07 1509.92h12.92v8.58h-12.92zM244.84 1509.92h25.85v8.58h-25.85zM503.33 1509.92h12.92v8.58h-12.92z"/><path fill="#ef916e" d="M580.87 686.05h12.92v8.58h-12.92zM632.57 686.05h12.92v8.58h-12.92zM697.19 686.05h12.92v8.58h-12.92zM580.87 694.63h12.92v8.58h-12.92zM580.87 703.21h12.92v8.58h-12.92zM697.19 703.21h12.92v8.58h-12.92zM787.66 711.79h12.92v8.58h-12.92zM580.87 720.37h12.92v8.58h-12.92zM697.19 737.54h12.92v8.58h-12.92zM580.87 746.12h12.92v8.58h-12.92zM580.87 754.70h12.92v8.58h-12.92zM658.42 771.87h25.85v8.58h-25.85zM839.35 771.87h12.92v8.58h-12.92zM555.02 780.45h12.92v8.58h-12.92zM658.42 780.45h25.85v8.58h-25.85zM438.70 789.03h12.92v8.58h-12.92zM555.02 789.03h12.92v8.58h-12.92zM658.42 789.03h12.92v8.58h-12.92zM839.35 806.19h12.92v8.58h-12.92zM542.10 814.78h12.92v8.58h-12.92zM593.80 814.78h12.92v8.58h-12.92zM606.72 823.36h12.92v8.58h-12.92zM632.57 823.36h12.92v8.58h-12.92zM697.19 823.36h12.92v8.58h-12.92zM632.57 831.94h12.92v8.58h-12.92zM697.19 831.94h12.92v8.58h-12.92zM632.57 840.52h12.92v8.58h-12.92zM697.19 840.52h12.92v8.58h-12.92zM723.04 840.52h12.92v8.58h-12.92zM891.05 849.10h12.92v8.58h-12.92zM606.72 866.27h12.92v8.58h-12.92zM710.11 866.27h12.92v8.58h-12.92zM813.51 866.27h12.92v8.58h-12.92zM903.98 866.27h12.92v8.58h-12.92zM606.72 874.85h12.92v8.58h-12.92zM710.11 874.85h12.92v8.58h-12.92zM813.51 874.85h12.92v8.58h-12.92zM580.87 883.43h12.92v8.58h-12.92zM632.57 883.43h12.92v8.58h-12.92zM697.19 883.43h12.92v8.58h-12.92zM697.19 892.01h12.92v8.58h-12.92zM787.66 892.01h12.92v8.58h-12.92zM580.87 900.60h12.92v8.58h-12.92zM748.89 900.60h12.92v8.58h-12.92zM555.02 909.18h12.92v8.58h-12.92zM710.11 909.18h12.92v8.58h-12.92zM735.96 917.76h12.92v8.58h-12.92zM748.89 926.34h12.92v8.58h-12.92zM115.60 943.51h25.85v8.58h-25.85zM438.70 943.51h12.92v8.58h-12.92zM128.52 952.09h12.92v8.58h-12.92zM348.24 952.09h12.92v8.58h-12.92zM451.63 952.09h12.92v8.58h-12.92zM128.52 960.67h12.92v8.58h-12.92zM412.86 969.25h12.92v8.58h-12.92zM115.60 977.83h12.92v8.58h-12.92zM438.70 977.83h12.92v8.58h-12.92zM128.52 986.42h12.92v8.58h-12.92zM438.70 986.42h12.92v8.58h-12.92zM438.70 995.00h12.92v8.58h-12.92zM128.52 1003.58h12.92v8.58h-12.92zM128.52 1012.16h12.92v8.58h-12.92zM348.24 1012.16h12.92v8.58h-12.92zM438.70 1012.16h12.92v8.58h-12.92zM115.60 1029.33h12.92v8.58h-12.92zM115.60 1037.91h12.92v8.58h-12.92zM154.37 1046.49h12.92v8.58h-12.92zM387.01 1046.49h12.92v8.58h-12.92zM128.52 1063.65h12.92v8.58h-12.92zM128.52 1072.24h12.92v8.58h-12.92zM154.37 1072.24h12.92v8.58h-12.92zM180.22 1080.82h12.92v8.58h-12.92zM477.48 1080.82h12.92v8.58h-12.92zM115.60 1089.40h25.85v8.58h-25.85zM180.22 1089.40h12.92v8.58h-12.92zM167.30 1097.98h12.92v8.58h-12.92zM180.22 1106.56h12.92v8.58h-12.92zM128.52 1115.15h12.92v8.58h-12.92zM154.37 1115.15h12.92v8.58h-12.92zM128.52 1132.31h12.92v8.58h-12.92zM154.37 1132.31h12.92v8.58h-12.92zM141.45 1140.89h25.85v8.58h-25.85zM141.45 1158.06h12.92v8.58h-12.92zM348.24 1158.06h12.92v8.58h-12.92zM115.60 1183.80h12.92v8.58h-12.92zM141.45 1183.80h25.85v8.58h-25.85zM361.16 1192.38h12.92v8.58h-12.92zM425.78 1192.38h12.92v8.58h-12.92zM180.22 1218.13h12.92v8.58h-12.92zM503.33 1218.13h12.92v8.58h-12.92zM180.22 1226.71h12.92v8.58h-12.92zM206.07 1226.71h12.92v8.58h-12.92zM270.69 1226.71h12.92v8.58h-12.92zM399.93 1226.71h12.92v8.58h-12.92zM231.92 1235.29h25.85v8.58h-25.85zM503.33 1235.29h12.92v8.58h-12.92zM322.39 1243.88h12.92v8.58h-12.92zM477.48 1243.88h12.92v8.58h-12.92zM270.69 1269.62h12.92v8.58h-12.92zM231.92 1286.79h25.85v8.58h-25.85zM206.07 1303.95h12.92v8.58h-12.92zM244.84 1303.95h12.92v8.58h-12.92zM348.24 1303.95h12.92v8.58h-12.92zM412.86 1321.11h12.92v8.58h-12.92zM141.45 1329.70h12.92v8.58h-12.92zM193.15 1329.70h12.92v8.58h-12.92zM296.54 1329.70h12.92v8.58h-12.92zM206.07 1338.28h12.92v8.58h-12.92zM451.63 1338.28h12.92v8.58h-12.92zM348.24 1346.86h12.92v8.58h-12.92zM438.70 1355.44h12.92v8.58h-12.92zM438.70 1364.02h12.92v8.58h-12.92zM464.55 1372.61h12.92v8.58h-12.92zM193.15 1381.19h12.92v8.58h-12.92zM464.55 1381.19h12.92v8.58h-12.92zM348.24 1389.77h12.92v8.58h-12.92zM464.55 1389.77h12.92v8.58h-12.92zM348.24 1398.35h12.92v8.58h-12.92zM464.55 1398.35h12.92v8.58h-12.92zM193.15 1406.93h12.92v8.58h-12.92zM348.24 1406.93h12.92v8.58h-12.92zM464.55 1406.93h12.92v8.58h-12.92zM193.15 1415.52h12.92v8.58h-12.92zM348.24 1415.52h12.92v8.58h-12.92zM464.55 1415.52h12.92v8.58h-12.92zM193.15 1424.10h12.92v8.58h-12.92zM231.92 1424.10h12.92v8.58h-12.92zM348.24 1424.10h12.92v8.58h-12.92zM206.07 1432.68h12.92v8.58h-12.92zM231.92 1432.68h12.92v8.58h-12.92zM490.40 1432.68h12.92v8.58h-12.92zM193.15 1441.26h12.92v8.58h-12.92zM218.99 1441.26h25.85v8.58h-25.85zM257.77 1449.84h12.92v8.58h-12.92zM218.99 1458.43h12.92v8.58h-12.92zM451.63 1458.43h12.92v8.58h-12.92zM231.92 1467.01h38.77v8.58h-38.77zM193.15 1484.17h25.85v8.58h-25.85zM231.92 1484.17h12.92v8.58h-12.92zM451.63 1484.17h12.92v8.58h-12.92zM206.07 1492.75h25.85v8.58h-25.85zM451.63 1492.75h12.92v8.58h-12.92zM206.07 1501.34h25.85v8.58h-25.85zM451.63 1501.34h12.92v8.58h-12.92zM218.99 1509.92h12.92v8.58h-12.92zM451.63 1509.92h12.92v8.58h-12.92z"/><path fill="#e0664f" d="M903.98 660.30h12.92v8.58h-12.92zM903.98 668.88h12.92v8.58h-12.92zM903.98 677.46h12.92v8.58h-12.92zM903.98 686.05h12.92v8.58h-12.92zM903.98 694.63h12.92v8.58h-12.92zM903.98 703.21h12.92v8.58h-12.92zM891.05 711.79h25.85v8.58h-25.85zM903.98 720.37h12.92v8.58h-12.92zM903.98 728.96h12.92v8.58h-12.92zM903.98 737.54h12.92v8.58h-12.92zM903.98 746.12h12.92v8.58h-12.92zM903.98 754.70h12.92v8.58h-12.92zM903.98 763.28h12.92v8.58h-12.92zM606.72 849.10h12.92v8.58h-12.92zM606.72 857.69h12.92v8.58h-12.92zM593.80 866.27h12.92v8.58h-12.92zM903.98 892.01h12.92v8.58h-12.92zM826.43 926.34h12.92v8.58h-12.92zM826.43 934.92h12.92v8.58h-12.92zM115.60 952.09h12.92v8.58h-12.92zM438.70 952.09h12.92v8.58h-12.92zM115.60 960.67h12.92v8.58h-12.92zM115.60 969.25h12.92v8.58h-12.92zM128.52 977.83h12.92v8.58h-12.92zM128.52 1020.74h12.92v8.58h-12.92zM128.52 1037.91h12.92v8.58h-12.92zM154.37 1037.91h12.92v8.58h-12.92zM115.60 1046.49h12.92v8.58h-12.92zM348.24 1046.49h12.92v8.58h-12.92zM115.60 1055.07h12.92v8.58h-12.92zM115.60 1063.65h12.92v8.58h-12.92zM115.60 1080.82h12.92v8.58h-12.92zM141.45 1089.40h12.92v8.58h-12.92zM477.48 1089.40h12.92v8.58h-12.92zM141.45 1115.15h12.92v8.58h-12.92zM115.60 1123.73h12.92v8.58h-12.92zM115.60 1132.31h12.92v8.58h-12.92zM115.60 1149.47h12.92v8.58h-12.92zM115.60 1158.06h12.92v8.58h-12.92zM115.60 1175.22h12.92v8.58h-12.92zM374.08 1192.38h25.85v8.58h-25.85zM257.77 1235.29h12.92v8.58h-12.92zM283.61 1235.29h12.92v8.58h-12.92zM464.55 1235.29h12.92v8.58h-12.92zM244.84 1243.88h12.92v8.58h-12.92zM283.61 1252.46h12.92v8.58h-12.92zM477.48 1252.46h12.92v8.58h-12.92zM464.55 1261.04h12.92v8.58h-12.92zM399.93 1269.62h12.92v8.58h-12.92zM464.55 1286.79h12.92v8.58h-12.92zM503.33 1286.79h12.92v8.58h-12.92zM193.15 1295.37h12.92v8.58h-12.92zM464.55 1295.37h12.92v8.58h-12.92zM348.24 1312.53h12.92v8.58h-12.92zM115.60 1364.02h12.92v8.58h-12.92zM193.15 1372.61h25.85v8.58h-25.85zM348.24 1372.61h12.92v8.58h-12.92zM206.07 1381.19h12.92v8.58h-12.92zM348.24 1381.19h12.92v8.58h-12.92zM193.15 1389.77h25.85v8.58h-25.85zM193.15 1398.35h25.85v8.58h-25.85zM206.07 1406.93h12.92v8.58h-12.92zM206.07 1415.52h12.92v8.58h-12.92zM451.63 1432.68h12.92v8.58h-12.92zM451.63 1441.26h12.92v8.58h-12.92zM231.92 1458.43h12.92v8.58h-12.92zM218.99 1467.01h12.92v8.58h-12.92zM193.15 1492.75h12.92v8.58h-12.92zM231.92 1492.75h12.92v8.58h-12.92zM193.15 1501.34h12.92v8.58h-12.92zM231.92 1501.34h12.92v8.58h-12.92zM193.15 1509.92h12.92v8.58h-12.92zM231.92 1509.92h12.92v8.58h-12.92z"/><path fill="#cc3e3b" d="M891.05 660.30h12.92v8.58h-12.92zM891.05 668.88h12.92v8.58h-12.92zM891.05 686.05h12.92v8.58h-12.92zM891.05 694.63h12.92v8.58h-12.92zM891.05 703.21h12.92v8.58h-12.92zM619.64 711.79h12.92v8.58h-12.92zM891.05 720.37h12.92v8.58h-12.92zM891.05 728.96h12.92v8.58h-12.92zM891.05 737.54h12.92v8.58h-12.92zM891.05 746.12h12.92v8.58h-12.92zM891.05 754.70h12.92v8.58h-12.92zM891.05 763.28h12.92v8.58h-12.92zM697.19 849.10h12.92v8.58h-12.92zM593.80 857.69h12.92v8.58h-12.92zM593.80 874.85h12.92v8.58h-12.92zM903.98 883.43h12.92v8.58h-12.92zM115.60 986.42h12.92v8.58h-12.92zM115.60 1003.58h12.92v8.58h-12.92zM115.60 1012.16h12.92v8.58h-12.92zM115.60 1072.24h12.92v8.58h-12.92zM115.60 1097.98h12.92v8.58h-12.92zM141.45 1123.73h25.85v8.58h-25.85zM141.45 1132.31h12.92v8.58h-12.92zM115.60 1140.89h12.92v8.58h-12.92zM399.93 1192.38h12.92v8.58h-12.92zM503.33 1192.38h12.92v8.58h-12.92zM115.60 1209.55h12.92v8.58h-12.92zM464.55 1243.88h12.92v8.58h-12.92zM296.54 1252.46h12.92v8.58h-12.92zM464.55 1252.46h12.92v8.58h-12.92zM348.24 1261.04h12.92v8.58h-12.92zM374.08 1261.04h12.92v8.58h-12.92zM193.15 1286.79h12.92v8.58h-12.92zM193.15 1312.53h12.92v8.58h-12.92zM218.99 1449.84h12.92v8.58h-12.92zM193.15 1467.01h12.92v8.58h-12.92z"/><path fill="#b41e2e" d="M891.05 677.46h12.92v8.58h-12.92zM115.60 995.00h12.92v8.58h-12.92zM115.60 1020.74h12.92v8.58h-12.92zM115.60 1106.56h12.92v8.58h-12.92zM193.15 1261.04h12.92v8.58h-12.92zM231.92 1449.84h12.92v8.58h-12.92z"/><path fill="#a00a24" d="M193.15 1269.62h12.92v8.58h-12.92z"/><path fill="#6a001f" d="M206.07 1475.59h12.92v8.58h-12.92z"/><path fill="none" stroke="#999896" stroke-width="2.2" d="M115.60 660.3V1518.50M128.52 660.3V1518.50M141.45 660.3V1518.50M154.37 660.3V1518.50M167.30 660.3V1518.50M180.22 660.3V1518.50M193.15 660.3V1518.50M206.07 660.3V1518.50M218.99 660.3V1518.50M231.92 660.3V1518.50M244.84 660.3V1518.50M257.77 660.3V1518.50M270.69 660.3V1518.50M283.61 660.3V1518.50M296.54 660.3V1518.50M309.46 660.3V1518.50M322.39 660.3V1518.50M335.31 660.3V1518.50M348.24 660.3V1518.50M361.16 660.3V1518.50M374.08 660.3V1518.50M387.01 660.3V1518.50M399.93 660.3V1518.50M412.86 660.3V1518.50M425.78 660.3V1518.50M438.70 660.3V1518.50M451.63 660.3V1518.50M464.55 660.3V1518.50M477.48 660.3V1518.50M490.40 660.3V1518.50M503.33 660.3V1518.50M516.25 660.3V1518.50M529.17 660.3V1518.50M542.10 660.3V1518.50M555.02 660.3V1518.50M567.95 660.3V1518.50M580.87 660.3V1518.50M593.80 660.3V1518.50M606.72 660.3V1518.50M619.64 660.3V1518.50M632.57 660.3V1518.50M645.49 660.3V1518.50M658.42 660.3V1518.50M671.34 660.3V1518.50M684.26 660.3V1518.50M697.19 660.3V1518.50M710.11 660.3V1518.50M723.04 660.3V1518.50M735.96 660.3V1518.50M748.89 660.3V1518.50M761.81 660.3V1518.50M774.73 660.3V1518.50M787.66 660.3V1518.50M800.58 660.3V1518.50M813.51 660.3V1518.50M826.43 660.3V1518.50M839.35 660.3V1518.50M852.28 660.3V1518.50M865.20 660.3V1518.50M878.13 660.3V1518.50M891.05 660.3V1518.50M903.98 660.3V1518.50M916.90 660.3V1518.50M115.6 660.30H916.90M115.6 668.88H916.90M115.6 677.46H916.90M115.6 686.05H916.90M115.6 694.63H916.90M115.6 703.21H916.90M115.6 711.79H916.90M115.6 720.37H916.90M115.6 728.96H916.90M115.6 737.54H916.90M115.6 746.12H916.90M115.6 754.70H916.90M115.6 763.28H916.90M115.6 771.87H916.90M115.6 780.45H916.90M115.6 789.03H916.90M115.6 797.61H916.90M115.6 806.19H916.90M115.6 814.78H916.90M115.6 823.36H916.90M115.6 831.94H916.90M115.6 840.52H916.90M115.6 849.10H916.90M115.6 857.69H916.90M115.6 866.27H916.90M115.6 874.85H916.90M115.6 883.43H916.90M115.6 892.01H916.90M115.6 900.60H916.90M115.6 909.18H916.90M115.6 917.76H916.90M115.6 926.34H916.90M115.6 934.92H916.90M115.6 943.51H916.90M115.6 952.09H916.90M115.6 960.67H916.90M115.6 969.25H916.90M115.6 977.83H916.90M115.6 986.42H916.90M115.6 995.00H916.90M115.6 1003.58H916.90M115.6 1012.16H916.90M115.6 1020.74H916.90M115.6 1029.33H916.90M115.6 1037.91H916.90M115.6 1046.49H916.90M115.6 1055.07H916.90M115.6 1063.65H916.90M115.6 1072.24H916.90M115.6 1080.82H916.90M115.6 1089.40H916.90M115.6 1097.98H916.90M115.6 1106.56H916.90M115.6 1115.15H916.90M115.6 1123.73H916.90M115.6 1132.31H916.90M115.6 1140.89H916.90M115.6 1149.47H916.90M115.6 1158.06H916.90M115.6 1166.64H916.90M115.6 1175.22H916.90M115.6 1183.80H916.90M115.6 1192.38H916.90M115.6 1200.97H916.90M115.6 1209.55H916.90M115.6 1218.13H916.90M115.6 1226.71H916.90M115.6 1235.29H916.90M115.6 1243.88H916.90M115.6 1252.46H916.90M115.6 1261.04H916.90M115.6 1269.62H916.90M115.6 1278.20H916.90M115.6 1286.79H916.90M115.6 1295.37H916.90M115.6 1303.95H916.90M115.6 1312.53H916.90M115.6 1321.11H916.90M115.6 1329.70H916.90M115.6 1338.28H916.90M115.6 1346.86H916.90M115.6 1355.44H916.90M115.6 1364.02H916.90M115.6 1372.61H916.90M115.6 1381.19H916.90M115.6 1389.77H916.90M115.6 1398.35H916.90M115.6 1406.93H916.90M115.6 1415.52H916.90M115.6 1424.10H916.90M115.6 1432.68H916.90M115.6 1441.26H916.90M115.6 1449.84H916.90M115.6 1458.43H916.90M115.6 1467.01H916.90M115.6 1475.59H916.90M115.6 1484.17H916.90M115.6 1492.75H916.90M115.6 1501.34H916.90M115.6 1509.92H916.90M115.6 1518.50H916.90"/><path fill="none" stroke="#000" stroke-width="1.7" stroke-linecap="square" d="M2.2 757.4L2.2 1196.8M2.2 757.4L106.1 757.4M2.2 1196.8L89.9 1196.8M106.1 690.8L106.1 830M106.1 690.8L112.7 690.8M106.1 830L106.9 830M112.7 670L112.7 712M112.7 670L114.8 670M112.7 712L113.6 712M113.6 693L113.6 735M114.8 662L114.8 680M114.6 712L114.6 768M106.9 784.8L106.9 880M106.9 784.8L113.7 784.8M113.7 773L113.7 794M106.9 880L108.5 880M108.5 840L108.5 915M108.5 840L114.4 840M114.4 828L114.4 852M108.5 915L111 915M111 895L111 935M111 895L114.6 895M111 935L114.6 935M114.6 885L114.6 905M114.6 925L114.6 944M114.8 794L114.8 830M114.8 852L114.8 880M89.9 1057.8L89.9 1335M89.9 1057.8L106.7 1057.8M106.7 1005.3L106.7 1109.4M106.7 1005.3L112.4 1005.3M112.4 950L112.4 1060M112.4 950L114.8 950M112.4 1060L114.6 1060M114.6 944L114.6 962M114.6 1040L114.6 1080M106.7 1109.4L111.5 1109.4M111.5 1080L111.5 1180M111.5 1080L114.6 1080M111.5 1180L114.6 1180M114.6 1100L114.6 1130M114.6 1160L114.6 1190M113.8 965L113.8 1035M89.9 1335L102.9 1335M102.9 1246.2L102.9 1425.6M102.9 1246.2L110.2 1246.2M110.2 1190.5L110.2 1340.7M110.2 1190.5L113.2 1190.5M113.2 1180L113.2 1230M110.2 1340.7L113.4 1340.7M113.4 1290L113.4 1345M114.6 1230L114.6 1290M102.9 1425.6L109.6 1425.6M109.6 1385.5L109.6 1465.7M109.6 1385.5L114.4 1385.5M114.4 1375L114.4 1395M109.6 1465.7L113.5 1465.7M113.5 1428L113.5 1500M114.7 1400L114.7 1430M114.7 1490L114.7 1515"/><defs><linearGradient id="lg" x1="0" y1="0" x2="0" y2="1"><stop offset="0.0000" stop-color="#67001F"/><stop offset="0.0504" stop-color="#870A24"/><stop offset="0.1112" stop-color="#B2182B"/><stop offset="0.1595" stop-color="#C03333"/><stop offset="0.2081" stop-color="#CF5844"/><stop offset="0.2566" stop-color="#E07A60"/><stop offset="0.3052" stop-color="#EC9476"/><stop offset="0.3537" stop-color="#F4AD8E"/><stop offset="0.3740" stop-color="#F8B898"/><stop offset="0.4355" stop-color="#FBD5BE"/><stop offset="0.4723" stop-color="#F0DDD2"/><stop offset="0.5031" stop-color="#E3DEDA"/><stop offset="0.5277" stop-color="#DEE2E5"/><stop offset="0.5584" stop-color="#D2E5EF"/><stop offset="0.5891" stop-color="#C0DDEC"/><stop offset="0.6199" stop-color="#AAD2E6"/><stop offset="0.6555" stop-color="#93C5DF"/><stop offset="0.6991" stop-color="#75B2D6"/><stop offset="0.7477" stop-color="#4F97C6"/><stop offset="0.7963" stop-color="#3A89C0"/><stop offset="0.8445" stop-color="#2B70B2"/><stop offset="0.8931" stop-color="#2161A5"/><stop offset="0.9416" stop-color="#174C8A"/><stop offset="0.9902" stop-color="#0B3468"/><stop offset="1.0000" stop-color="#053061"/></linearGradient></defs><rect x="932.8" y="658.3" width="22.4" height="325.4" fill="url(#lg)"/><text font-size="34" x="970.6" y="683.5">4</text><text font-size="34" x="970.6" y="759.5">2</text><text font-size="34" x="970.6" y="834.2">0</text><text font-size="34" x="964.6" y="909.2">-2</text><text font-size="34" x="964.6" y="985.2">-4</text></svg></body></html>
